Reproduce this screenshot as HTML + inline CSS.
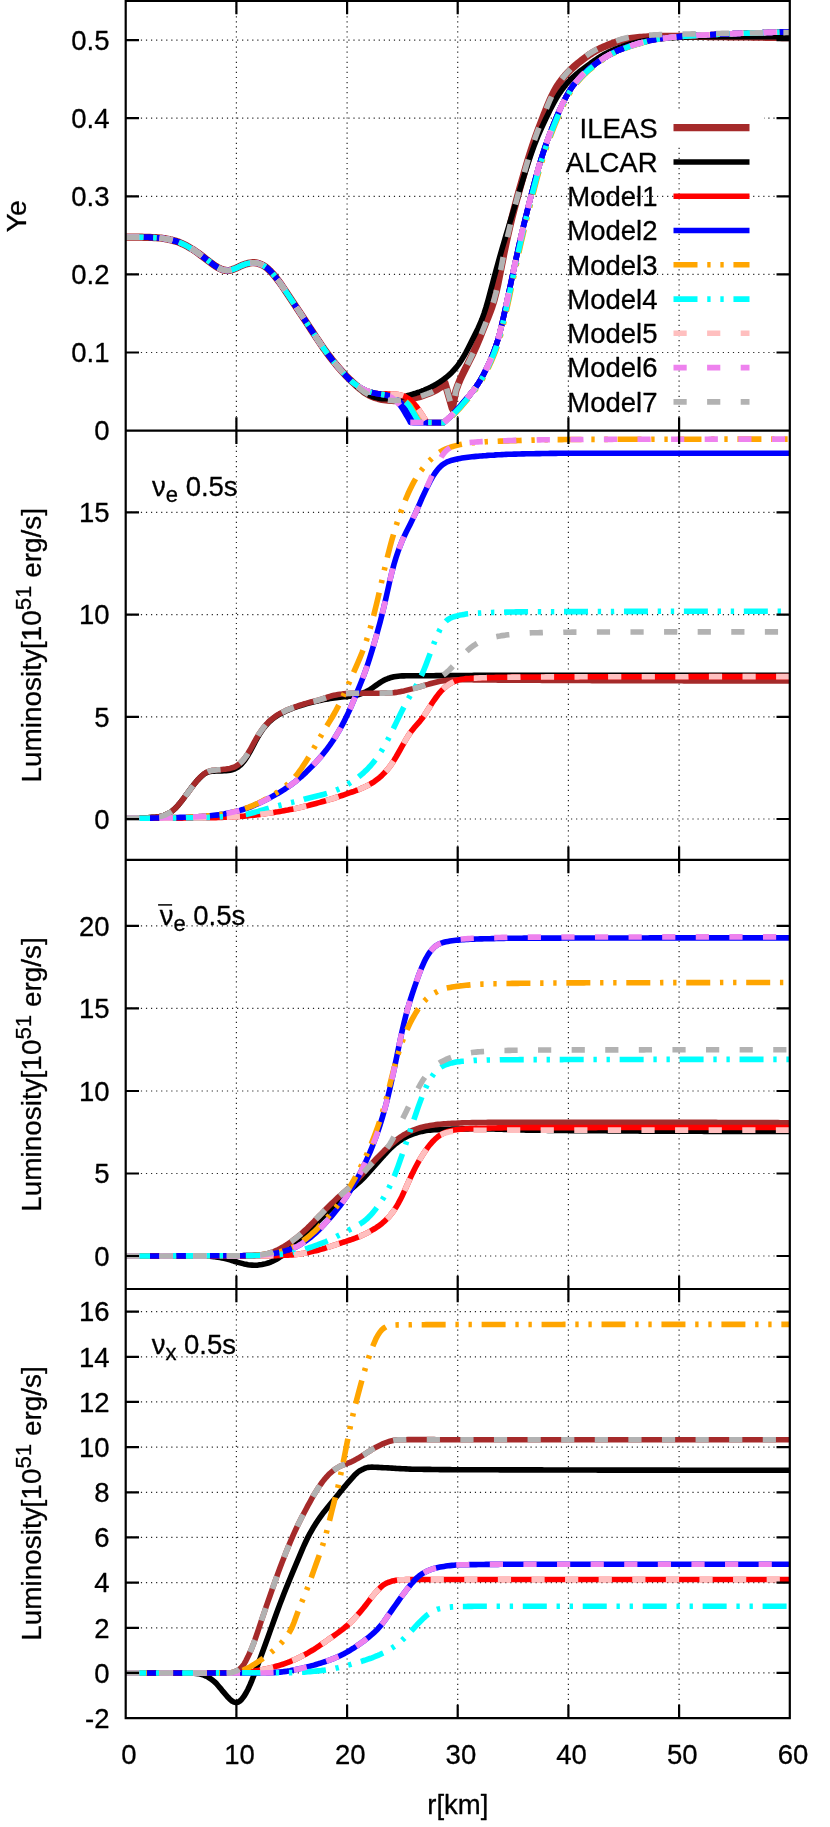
<!DOCTYPE html>
<html><head><meta charset="utf-8"><title>plot</title><style>html,body{margin:0;padding:0;background:#fff}svg{display:block;will-change:transform}text{font-family:"Liberation Sans",sans-serif;fill:#000;stroke:#000;stroke-width:0.3px;stroke-linejoin:round}</style></head><body>
<svg width="830" height="1827" viewBox="0 0 830 1827">
<rect width="830" height="1827" fill="#fff"/>
<path d="M236.4 1.0 V430.6 M347.1 1.0 V430.6 M457.7 1.0 V430.6 M568.4 1.0 V430.6 M679.1 1.0 V430.6 M125.7 352.5 H789.8 M125.7 274.4 H789.8 M125.7 196.3 H789.8 M125.7 118.2 H789.8 M125.7 40.1 H789.8 M236.4 430.6 V859.9 M347.1 430.6 V859.9 M457.7 430.6 V859.9 M568.4 430.6 V859.9 M679.1 430.6 V859.9 M125.7 819.0 H789.8 M125.7 716.8 H789.8 M125.7 614.6 H789.8 M125.7 512.4 H789.8 M236.4 859.9 V1289.0 M347.1 859.9 V1289.0 M457.7 859.9 V1289.0 M568.4 859.9 V1289.0 M679.1 859.9 V1289.0 M125.7 1256.0 H789.8 M125.7 1173.5 H789.8 M125.7 1091.0 H789.8 M125.7 1008.4 H789.8 M125.7 925.9 H789.8 M236.4 1289.0 V1718.1 M347.1 1289.0 V1718.1 M457.7 1289.0 V1718.1 M568.4 1289.0 V1718.1 M679.1 1289.0 V1718.1 M125.7 1672.9 H789.8 M125.7 1627.8 H789.8 M125.7 1582.6 H789.8 M125.7 1537.4 H789.8 M125.7 1492.3 H789.8 M125.7 1447.1 H789.8 M125.7 1401.9 H789.8 M125.7 1356.8 H789.8 M125.7 1311.6 H789.8" stroke="#000" stroke-width="1.2" stroke-dasharray="1.2 3.86" fill="none" opacity="0.85"/>
<clipPath id="c0"><rect x="125.7" y="1.0" width="664.1" height="429.6"/></clipPath>
<g clip-path="url(#c0)" fill="none" stroke-linejoin="round">
<path d="M126.0 237.2 L128.0 237.2 L130.0 237.2 L132.0 237.2 L134.0 237.2 L136.0 237.2 L138.0 237.2 L140.0 237.2 L142.0 237.2 L144.0 237.3 L146.0 237.3 L148.0 237.3 L150.0 237.4 L152.0 237.5 L154.0 237.6 L156.0 237.7 L158.0 237.8 L160.0 238.0 L162.0 238.2 L164.0 238.5 L166.0 238.9 L168.0 239.2 L170.0 239.7 L172.0 240.1 L174.0 240.7 L176.0 241.3 L178.0 241.9 L180.0 242.7 L182.0 243.6 L184.0 244.5 L186.0 245.5 L188.0 246.6 L190.0 247.8 L192.0 249.0 L194.0 250.2 L196.0 251.6 L198.0 253.0 L200.0 254.5 L202.0 256.0 L204.0 257.5 L206.0 259.1 L208.0 260.6 L210.0 262.1 L212.0 263.6 L214.0 265.1 L216.0 266.4 L218.0 267.6 L220.0 268.7 L222.0 269.5 L224.0 270.1 L226.0 270.4 L228.0 270.5 L230.0 270.2 L232.0 269.7 L234.0 269.0 L236.0 268.2 L238.0 267.3 L240.0 266.3 L242.0 265.4 L244.0 264.6 L246.0 263.9 L248.0 263.4 L250.0 263.0 L252.0 262.7 L254.0 262.7 L256.0 262.9 L258.0 263.3 L260.0 264.0 L262.0 264.8 L264.0 265.9 L266.0 267.3 L268.0 268.9 L270.0 270.8 L272.0 272.9 L274.0 275.2 L276.0 277.6 L278.0 280.2 L280.0 282.9 L282.0 285.8 L284.0 288.7 L286.0 291.7 L288.0 294.7 L290.0 297.7 L292.0 300.7 L294.0 303.7 L296.0 306.7 L298.0 309.7 L300.0 312.8 L302.0 315.8 L304.0 318.8 L306.0 321.8 L308.0 324.9 L310.0 327.9 L312.0 331.0 L314.0 334.0 L316.0 337.1 L318.0 340.1 L320.0 343.1 L322.0 346.0 L324.0 348.9 L326.0 351.6 L328.0 354.4 L330.0 357.0 L332.0 359.6 L334.0 362.1 L336.0 364.5 L338.0 366.9 L340.0 369.2 L342.0 371.4 L344.0 373.6 L346.0 375.7 L348.0 377.7 L350.0 379.7 L352.0 381.6 L354.0 383.4 L356.0 385.2 L358.0 387.0 L360.0 388.7 L362.0 390.3 L364.0 391.9 L366.0 393.2 L368.0 394.4 L370.0 395.5 L372.0 396.4 L374.0 397.2 L376.0 397.8 L378.0 398.4 L380.0 398.9 L382.0 399.4 L384.0 399.7 L386.0 400.0 L388.0 400.2 L390.0 400.4 L392.0 400.5 L394.0 400.6 L396.0 400.5 L398.0 400.5 L400.0 400.3 L402.0 400.1 L404.0 399.9 L406.0 399.7 L408.0 399.4 L410.0 399.0 L412.0 398.6 L414.0 398.1 L416.0 397.6 L418.0 397.1 L420.0 396.5 L422.0 395.8 L424.0 395.1 L426.0 394.4 L428.0 393.7 L430.0 392.9 L432.0 392.0 L434.0 391.0 L436.0 390.0 L438.0 388.9 L440.0 387.5 L442.0 386.0 L444.0 384.1 L445.0 383.0 L445.0 383.0 L452.3 408.5 L455.9 390.6 L455.9 390.6 L457.9 385.0 L459.9 380.1 L461.9 375.8 L463.9 371.7 L465.9 367.7 L467.9 363.7 L469.9 359.7 L471.9 355.6 L473.9 351.4 L475.9 347.0 L477.9 342.3 L479.9 337.5 L481.9 332.5 L483.9 327.5 L485.9 322.5 L487.9 317.6 L489.9 312.5 L491.9 307.0 L493.9 300.6 L495.9 292.9 L497.9 283.9 L499.9 273.9 L501.9 263.7 L503.9 253.6 L505.9 244.0 L507.9 234.9 L509.9 226.3 L511.9 218.0 L513.9 210.2 L515.9 202.6 L517.9 195.2 L519.9 188.0 L521.9 180.9 L523.9 173.9 L525.9 167.0 L527.9 160.3 L529.9 153.8 L531.9 147.7 L533.9 141.7 L535.9 136.0 L537.9 130.5 L539.9 125.2 L541.9 119.9 L543.9 114.8 L545.9 109.7 L547.9 104.8 L549.9 100.1 L551.9 95.8 L553.9 91.8 L555.9 88.2 L557.9 85.0 L559.9 82.1 L561.9 79.5 L563.9 77.0 L565.9 74.7 L567.9 72.6 L569.9 70.5 L571.9 68.6 L573.9 66.8 L575.9 65.0 L577.9 63.3 L579.9 61.7 L581.9 60.1 L583.9 58.6 L585.9 57.1 L587.9 55.7 L589.9 54.3 L591.9 53.1 L593.9 51.8 L595.9 50.7 L597.9 49.6 L599.9 48.6 L601.9 47.7 L603.9 46.8 L605.9 46.0 L607.9 45.2 L609.9 44.4 L611.9 43.6 L613.9 42.9 L615.9 42.2 L617.9 41.5 L619.9 40.9 L621.9 40.3 L623.9 39.8 L625.9 39.4 L627.9 38.9 L629.9 38.6 L631.9 38.3 L633.9 38.0 L635.9 37.8 L637.9 37.6 L639.9 37.4 L641.9 37.3 L643.9 37.1 L645.9 37.0 L647.9 36.8 L649.9 36.7 L651.9 36.6 L653.9 36.5 L655.9 36.4 L657.9 36.4 L659.9 36.4 L661.9 36.3 L663.9 36.3 L665.9 36.3 L667.9 36.3 L669.9 36.3 L671.9 36.3 L673.9 36.3 L675.9 36.3 L677.9 36.3 L679.9 36.4 L681.9 36.4 L683.9 36.4 L685.9 36.4 L687.9 36.4 L689.9 36.4 L691.9 36.4 L693.9 36.5 L695.9 36.5 L697.9 36.5 L699.9 36.5 L701.9 36.5 L703.9 36.5 L705.9 36.5 L707.9 36.6 L709.9 36.6 L711.9 36.6 L713.9 36.6 L715.9 36.6 L717.9 36.7 L719.9 36.7 L721.9 36.7 L723.9 36.7 L725.9 36.7 L727.9 36.8 L729.9 36.8 L731.9 36.8 L733.9 36.8 L735.9 36.9 L737.9 36.9 L739.9 36.9 L741.9 36.9 L743.9 37.0 L745.9 37.0 L747.9 37.0 L749.9 37.0 L751.9 37.1 L753.9 37.1 L755.9 37.1 L757.9 37.2 L759.9 37.2 L761.9 37.2 L763.9 37.2 L765.9 37.3 L767.9 37.3 L769.9 37.3 L771.9 37.4 L773.9 37.4 L775.9 37.4 L777.9 37.5 L779.9 37.5 L781.9 37.6 L783.9 37.6 L785.9 37.6 L787.9 37.7 L789.9 37.7 L790.0 37.7" stroke="#a52a2a" stroke-width="7.2"/>
<path d="M126.0 237.2 L128.0 237.2 L130.0 237.2 L132.0 237.2 L134.0 237.2 L136.0 237.2 L138.0 237.2 L140.0 237.2 L142.0 237.2 L144.0 237.3 L146.0 237.3 L148.0 237.3 L150.0 237.4 L152.0 237.5 L154.0 237.6 L156.0 237.7 L158.0 237.8 L160.0 238.0 L162.0 238.2 L164.0 238.5 L166.0 238.9 L168.0 239.2 L170.0 239.7 L172.0 240.1 L174.0 240.7 L176.0 241.3 L178.0 241.9 L180.0 242.7 L182.0 243.6 L184.0 244.5 L186.0 245.5 L188.0 246.6 L190.0 247.8 L192.0 249.0 L194.0 250.2 L196.0 251.6 L198.0 253.0 L200.0 254.5 L202.0 256.0 L204.0 257.5 L206.0 259.1 L208.0 260.6 L210.0 262.1 L212.0 263.6 L214.0 265.1 L216.0 266.4 L218.0 267.6 L220.0 268.7 L222.0 269.5 L224.0 270.1 L226.0 270.4 L228.0 270.5 L230.0 270.2 L232.0 269.7 L234.0 269.0 L236.0 268.2 L238.0 267.3 L240.0 266.3 L242.0 265.4 L244.0 264.6 L246.0 263.9 L248.0 263.4 L250.0 263.0 L252.0 262.7 L254.0 262.7 L256.0 262.9 L258.0 263.3 L260.0 264.0 L262.0 264.8 L264.0 265.9 L266.0 267.3 L268.0 268.9 L270.0 270.8 L272.0 272.9 L274.0 275.2 L276.0 277.6 L278.0 280.2 L280.0 282.9 L282.0 285.8 L284.0 288.7 L286.0 291.7 L288.0 294.7 L290.0 297.7 L292.0 300.7 L294.0 303.7 L296.0 306.7 L298.0 309.7 L300.0 312.8 L302.0 315.8 L304.0 318.8 L306.0 321.8 L308.0 324.9 L310.0 327.9 L312.0 331.0 L314.0 334.0 L316.0 337.1 L318.0 340.1 L320.0 343.1 L322.0 346.0 L324.0 348.9 L326.0 351.6 L328.0 354.4 L330.0 357.0 L332.0 359.6 L334.0 362.1 L336.0 364.5 L338.0 366.9 L340.0 369.2 L342.0 371.4 L344.0 373.6 L346.0 375.7 L348.0 377.7 L350.0 379.7 L352.0 381.6 L354.0 383.4 L356.0 385.3 L358.0 387.0 L360.0 388.8 L362.0 390.4 L364.0 391.9 L366.0 393.3 L368.0 394.4 L370.0 395.4 L372.0 396.3 L374.0 397.0 L376.0 397.5 L378.0 398.0 L380.0 398.4 L382.0 398.7 L384.0 398.8 L386.0 398.8 L388.0 398.8 L390.0 398.7 L392.0 398.6 L394.0 398.4 L396.0 398.2 L398.0 397.9 L400.0 397.5 L402.0 397.1 L404.0 396.6 L406.0 396.1 L408.0 395.5 L410.0 395.0 L412.0 394.4 L414.0 393.8 L416.0 393.2 L418.0 392.5 L420.0 391.8 L422.0 391.0 L424.0 390.3 L426.0 389.4 L428.0 388.5 L430.0 387.6 L432.0 386.5 L434.0 385.5 L436.0 384.3 L438.0 383.1 L440.0 381.9 L442.0 380.5 L444.0 379.1 L446.0 377.6 L448.0 375.9 L450.0 374.1 L452.0 372.2 L454.0 370.0 L456.0 367.7 L458.0 365.1 L460.0 362.3 L462.0 359.2 L464.0 355.8 L466.0 352.3 L468.0 348.5 L470.0 344.6 L472.0 340.6 L474.0 336.6 L476.0 332.5 L478.0 328.4 L480.0 324.0 L482.0 319.1 L484.0 313.6 L486.0 307.4 L488.0 300.5 L490.0 293.1 L492.0 285.5 L494.0 277.9 L496.0 270.5 L498.0 263.2 L500.0 256.1 L502.0 249.1 L504.0 242.2 L506.0 235.4 L508.0 228.7 L510.0 222.0 L512.0 215.5 L514.0 208.9 L516.0 202.4 L518.0 195.8 L520.0 189.2 L522.0 182.6 L524.0 176.1 L526.0 169.6 L528.0 163.4 L530.0 157.4 L532.0 151.6 L534.0 146.1 L536.0 141.0 L538.0 136.0 L540.0 131.3 L542.0 126.8 L544.0 122.5 L546.0 118.3 L548.0 114.2 L550.0 110.1 L552.0 106.2 L554.0 102.5 L556.0 98.9 L558.0 95.6 L560.0 92.5 L562.0 89.7 L564.0 87.0 L566.0 84.5 L568.0 82.2 L570.0 80.1 L572.0 78.1 L574.0 76.3 L576.0 74.5 L578.0 72.9 L580.0 71.3 L582.0 69.7 L584.0 68.2 L586.0 66.7 L588.0 65.2 L590.0 63.8 L592.0 62.3 L594.0 60.9 L596.0 59.5 L598.0 58.2 L600.0 56.9 L602.0 55.6 L604.0 54.5 L606.0 53.4 L608.0 52.4 L610.0 51.5 L612.0 50.6 L614.0 49.7 L616.0 48.9 L618.0 48.2 L620.0 47.4 L622.0 46.7 L624.0 45.9 L626.0 45.2 L628.0 44.6 L630.0 44.0 L632.0 43.4 L634.0 42.9 L636.0 42.4 L638.0 42.0 L640.0 41.6 L642.0 41.2 L644.0 40.8 L646.0 40.5 L648.0 40.2 L650.0 39.9 L652.0 39.7 L654.0 39.4 L656.0 39.2 L658.0 39.0 L660.0 38.7 L662.0 38.5 L664.0 38.4 L666.0 38.2 L668.0 38.0 L670.0 37.8 L672.0 37.7 L674.0 37.6 L676.0 37.5 L678.0 37.4 L680.0 37.2 L682.0 37.1 L684.0 37.1 L686.0 37.0 L688.0 36.9 L690.0 36.8 L692.0 36.8 L694.0 36.7 L696.0 36.7 L698.0 36.6 L700.0 36.6 L702.0 36.6 L704.0 36.6 L706.0 36.6 L708.0 36.6 L710.0 36.6 L712.0 36.6 L714.0 36.6 L716.0 36.6 L718.0 36.6 L720.0 36.6 L722.0 36.6 L724.0 36.6 L726.0 36.6 L728.0 36.6 L730.0 36.6 L732.0 36.6 L734.0 36.6 L736.0 36.6 L738.0 36.6 L740.0 36.6 L742.0 36.6 L744.0 36.6 L746.0 36.7 L748.0 36.7 L750.0 36.7 L752.0 36.7 L754.0 36.7 L756.0 36.7 L758.0 36.7 L760.0 36.7 L762.0 36.7 L764.0 36.7 L766.0 36.8 L768.0 36.8 L770.0 36.8 L772.0 36.8 L774.0 36.8 L776.0 36.8 L778.0 36.9 L780.0 36.9 L782.0 36.9 L784.0 36.9 L786.0 36.9 L788.0 37.0 L790.0 37.0" stroke="#000000" stroke-width="5.6"/>
<path d="M126.0 237.2 L128.0 237.2 L130.0 237.2 L132.0 237.2 L134.0 237.2 L136.0 237.2 L138.0 237.2 L140.0 237.2 L142.0 237.2 L144.0 237.3 L146.0 237.3 L148.0 237.3 L150.0 237.4 L152.0 237.5 L154.0 237.6 L156.0 237.7 L158.0 237.8 L160.0 238.0 L162.0 238.2 L164.0 238.5 L166.0 238.9 L168.0 239.2 L170.0 239.7 L172.0 240.1 L174.0 240.7 L176.0 241.3 L178.0 241.9 L180.0 242.7 L182.0 243.6 L184.0 244.5 L186.0 245.5 L188.0 246.6 L190.0 247.8 L192.0 249.0 L194.0 250.2 L196.0 251.6 L198.0 253.0 L200.0 254.5 L202.0 256.0 L204.0 257.5 L206.0 259.1 L208.0 260.6 L210.0 262.1 L212.0 263.6 L214.0 265.1 L216.0 266.4 L218.0 267.6 L220.0 268.7 L222.0 269.5 L224.0 270.1 L226.0 270.4 L228.0 270.5 L230.0 270.2 L232.0 269.7 L234.0 269.0 L236.0 268.2 L238.0 267.3 L240.0 266.3 L242.0 265.4 L244.0 264.6 L246.0 263.9 L248.0 263.4 L250.0 263.0 L252.0 262.7 L254.0 262.7 L256.0 262.9 L258.0 263.3 L260.0 264.0 L262.0 264.8 L264.0 265.9 L266.0 267.3 L268.0 268.9 L270.0 270.8 L272.0 272.9 L274.0 275.2 L276.0 277.6 L278.0 280.2 L280.0 282.9 L282.0 285.8 L284.0 288.7 L286.0 291.7 L288.0 294.7 L290.0 297.7 L292.0 300.7 L294.0 303.7 L296.0 306.7 L298.0 309.7 L300.0 312.8 L302.0 315.8 L304.0 318.8 L306.0 321.8 L308.0 324.9 L310.0 327.9 L312.0 331.0 L314.0 334.0 L316.0 337.1 L318.0 340.1 L320.0 343.1 L322.0 346.0 L324.0 348.9 L326.0 351.6 L328.0 354.4 L330.0 357.0 L332.0 359.6 L334.0 362.1 L336.0 364.5 L338.0 366.9 L340.0 369.2 L342.0 371.5 L344.0 373.7 L346.0 375.9 L348.0 377.9 L350.0 379.9 L352.0 381.7 L354.0 383.3 L356.0 384.8 L358.0 386.2 L360.0 387.5 L362.0 388.6 L364.0 389.7 L366.0 390.5 L368.0 391.3 L370.0 391.9 L372.0 392.5 L374.0 392.9 L376.0 393.2 L378.0 393.5 L380.0 393.7 L382.0 393.8 L384.0 393.9 L386.0 393.9 L388.0 394.0 L390.0 394.0 L392.0 394.1 L394.0 394.2 L396.0 394.4 L398.0 394.6 L400.0 395.0 L402.0 395.4 L404.0 396.1 L406.0 397.1 L408.0 398.3 L410.0 399.8 L412.0 401.6 L414.0 403.7 L416.0 406.0 L418.0 408.7 L420.0 411.6 L422.0 414.6 L424.0 417.8 L426.0 421.0 L427.0 422.6 L443.6 422.6 L443.6 422.6 L445.6 420.8 L447.6 419.0 L449.6 417.2 L451.6 415.3 L453.6 413.3 L455.6 411.1 L457.6 409.0 L459.6 406.8 L461.6 404.5 L463.6 402.2 L465.6 399.9 L467.6 397.5 L469.6 395.1 L471.6 392.6 L473.6 390.0 L475.6 387.3 L477.6 384.4 L479.6 381.3 L481.6 377.9 L483.6 374.3 L485.6 370.3 L487.6 366.2 L489.6 361.8 L491.6 357.2 L493.6 352.2 L495.6 346.7 L497.6 340.5 L499.6 333.4 L501.6 325.4 L503.6 316.7 L505.6 307.7 L507.6 298.4 L509.6 289.0 L511.6 279.5 L513.6 270.1 L515.6 260.8 L517.6 251.6 L519.6 242.7 L521.6 234.0 L523.6 225.6 L525.6 217.5 L527.6 209.4 L529.6 201.4 L531.6 193.5 L533.6 185.7 L535.6 178.1 L537.6 170.9 L539.6 164.1 L541.6 157.6 L543.6 151.4 L545.6 145.5 L547.6 139.9 L549.6 134.5 L551.6 129.2 L553.6 124.2 L555.6 119.4 L557.6 114.7 L559.6 110.1 L561.6 105.8 L563.6 101.6 L565.6 97.7 L567.6 94.1 L569.6 90.7 L571.6 87.7 L573.6 84.9 L575.6 82.4 L577.6 80.1 L579.6 77.9 L581.6 75.8 L583.6 73.8 L585.6 72.0 L587.6 70.2 L589.6 68.5 L591.6 66.8 L593.6 65.2 L595.6 63.7 L597.6 62.3 L599.6 60.9 L601.6 59.5 L603.6 58.2 L605.6 57.0 L607.6 55.8 L609.6 54.7 L611.6 53.6 L613.6 52.6 L615.6 51.6 L617.6 50.7 L619.6 49.9 L621.6 49.1 L623.6 48.3 L625.6 47.6 L627.6 46.9 L629.6 46.2 L631.6 45.6 L633.6 45.0 L635.6 44.4 L637.6 43.8 L639.6 43.2 L641.6 42.6 L643.6 42.1 L645.6 41.6 L647.6 41.1 L649.6 40.6 L651.6 40.2 L653.6 39.8 L655.6 39.4 L657.6 39.1 L659.6 38.8 L661.6 38.5 L663.6 38.2 L665.6 38.0 L667.6 37.7 L669.6 37.5 L671.6 37.3 L673.6 37.1 L675.6 37.0 L677.6 36.8 L679.6 36.6 L681.6 36.4 L683.6 36.3 L685.6 36.1 L687.6 36.0 L689.6 35.9 L691.6 35.7 L693.6 35.6 L695.6 35.5 L697.6 35.3 L699.6 35.2 L701.6 35.1 L703.6 35.0 L705.6 34.9 L707.6 34.8 L709.6 34.7 L711.6 34.6 L713.6 34.5 L715.6 34.4 L717.6 34.3 L719.6 34.2 L721.6 34.1 L723.6 34.0 L725.6 34.0 L727.6 33.9 L729.6 33.8 L731.6 33.7 L733.6 33.6 L735.6 33.6 L737.6 33.5 L739.6 33.4 L741.6 33.3 L743.6 33.3 L745.6 33.2 L747.6 33.1 L749.6 33.1 L751.6 33.0 L753.6 32.9 L755.6 32.9 L757.6 32.8 L759.6 32.7 L761.6 32.7 L763.6 32.6 L765.6 32.5 L767.6 32.5 L769.6 32.4 L771.6 32.4 L773.6 32.3 L775.6 32.3 L777.6 32.2 L779.6 32.1 L781.6 32.1 L783.6 32.0 L785.6 32.0 L787.6 32.0 L789.6 31.9 L790.0 31.9" stroke="#ff0000" stroke-width="5.6"/>
<path d="M126.0 237.2 L128.0 237.2 L130.0 237.2 L132.0 237.2 L134.0 237.2 L136.0 237.2 L138.0 237.2 L140.0 237.2 L142.0 237.2 L144.0 237.3 L146.0 237.3 L148.0 237.3 L150.0 237.4 L152.0 237.5 L154.0 237.6 L156.0 237.7 L158.0 237.8 L160.0 238.0 L162.0 238.2 L164.0 238.5 L166.0 238.9 L168.0 239.2 L170.0 239.7 L172.0 240.1 L174.0 240.7 L176.0 241.3 L178.0 241.9 L180.0 242.7 L182.0 243.6 L184.0 244.5 L186.0 245.5 L188.0 246.6 L190.0 247.8 L192.0 249.0 L194.0 250.2 L196.0 251.6 L198.0 253.0 L200.0 254.5 L202.0 256.0 L204.0 257.5 L206.0 259.1 L208.0 260.6 L210.0 262.1 L212.0 263.6 L214.0 265.1 L216.0 266.4 L218.0 267.6 L220.0 268.7 L222.0 269.5 L224.0 270.1 L226.0 270.4 L228.0 270.5 L230.0 270.2 L232.0 269.7 L234.0 269.0 L236.0 268.2 L238.0 267.3 L240.0 266.3 L242.0 265.4 L244.0 264.6 L246.0 263.9 L248.0 263.4 L250.0 263.0 L252.0 262.7 L254.0 262.7 L256.0 262.9 L258.0 263.3 L260.0 264.0 L262.0 264.8 L264.0 265.9 L266.0 267.3 L268.0 268.9 L270.0 270.8 L272.0 272.9 L274.0 275.2 L276.0 277.6 L278.0 280.2 L280.0 282.9 L282.0 285.8 L284.0 288.7 L286.0 291.7 L288.0 294.7 L290.0 297.7 L292.0 300.7 L294.0 303.7 L296.0 306.7 L298.0 309.7 L300.0 312.8 L302.0 315.8 L304.0 318.8 L306.0 321.8 L308.0 324.9 L310.0 327.9 L312.0 331.0 L314.0 334.0 L316.0 337.1 L318.0 340.1 L320.0 343.1 L322.0 346.0 L324.0 348.9 L326.0 351.6 L328.0 354.4 L330.0 357.0 L332.0 359.6 L334.0 362.1 L336.0 364.5 L338.0 366.9 L340.0 369.2 L342.0 371.5 L344.0 373.7 L346.0 375.9 L348.0 377.9 L350.0 379.9 L352.0 381.7 L354.0 383.3 L356.0 384.8 L358.0 386.2 L360.0 387.4 L362.0 388.6 L364.0 389.6 L366.0 390.5 L368.0 391.3 L370.0 391.9 L372.0 392.5 L374.0 393.0 L376.0 393.4 L378.0 393.8 L380.0 394.2 L382.0 394.5 L384.0 394.9 L386.0 395.3 L388.0 395.9 L390.0 396.6 L392.0 397.6 L394.0 398.9 L396.0 400.5 L398.0 402.5 L400.0 404.9 L402.0 407.8 L404.0 411.1 L406.0 414.5 L408.0 417.9 L410.0 421.4 L410.4 422.4 L443.6 422.6 L445.6 420.8 L447.6 419.0 L449.6 417.2 L451.6 415.3 L453.6 413.3 L455.6 411.1 L457.6 409.0 L459.6 406.8 L461.6 404.5 L463.6 402.2 L465.6 399.9 L467.6 397.5 L469.6 395.1 L471.6 392.6 L473.6 390.0 L475.6 387.3 L477.6 384.4 L479.6 381.3 L481.6 377.9 L483.6 374.3 L485.6 370.3 L487.6 366.2 L489.6 361.8 L491.6 357.2 L493.6 352.2 L495.6 346.7 L497.6 340.5 L499.6 333.4 L501.6 325.4 L503.6 316.7 L505.6 307.7 L507.6 298.4 L509.6 289.0 L511.6 279.5 L513.6 270.1 L515.6 260.8 L517.6 251.6 L519.6 242.7 L521.6 234.0 L523.6 225.6 L525.6 217.5 L527.6 209.4 L529.6 201.4 L531.6 193.5 L533.6 185.7 L535.6 178.1 L537.6 170.9 L539.6 164.1 L541.6 157.6 L543.6 151.4 L545.6 145.5 L547.6 139.9 L549.6 134.5 L551.6 129.2 L553.6 124.2 L555.6 119.4 L557.6 114.7 L559.6 110.1 L561.6 105.8 L563.6 101.6 L565.6 97.7 L567.6 94.1 L569.6 90.7 L571.6 87.7 L573.6 84.9 L575.6 82.4 L577.6 80.1 L579.6 77.9 L581.6 75.8 L583.6 73.8 L585.6 72.0 L587.6 70.2 L589.6 68.5 L591.6 66.8 L593.6 65.2 L595.6 63.7 L597.6 62.3 L599.6 60.9 L601.6 59.5 L603.6 58.2 L605.6 57.0 L607.6 55.8 L609.6 54.7 L611.6 53.6 L613.6 52.6 L615.6 51.6 L617.6 50.7 L619.6 49.9 L621.6 49.1 L623.6 48.3 L625.6 47.6 L627.6 46.9 L629.6 46.2 L631.6 45.6 L633.6 45.0 L635.6 44.4 L637.6 43.8 L639.6 43.2 L641.6 42.6 L643.6 42.1 L645.6 41.6 L647.6 41.1 L649.6 40.6 L651.6 40.2 L653.6 39.8 L655.6 39.4 L657.6 39.1 L659.6 38.8 L661.6 38.5 L663.6 38.2 L665.6 38.0 L667.6 37.7 L669.6 37.5 L671.6 37.3 L673.6 37.1 L675.6 37.0 L677.6 36.8 L679.6 36.6 L681.6 36.4 L683.6 36.3 L685.6 36.1 L687.6 36.0 L689.6 35.9 L691.6 35.7 L693.6 35.6 L695.6 35.5 L697.6 35.3 L699.6 35.2 L701.6 35.1 L703.6 35.0 L705.6 34.9 L707.6 34.8 L709.6 34.7 L711.6 34.6 L713.6 34.5 L715.6 34.4 L717.6 34.3 L719.6 34.2 L721.6 34.1 L723.6 34.0 L725.6 34.0 L727.6 33.9 L729.6 33.8 L731.6 33.7 L733.6 33.6 L735.6 33.6 L737.6 33.5 L739.6 33.4 L741.6 33.3 L743.6 33.3 L745.6 33.2 L747.6 33.1 L749.6 33.1 L751.6 33.0 L753.6 32.9 L755.6 32.9 L757.6 32.8 L759.6 32.7 L761.6 32.7 L763.6 32.6 L765.6 32.5 L767.6 32.5 L769.6 32.4 L771.6 32.4 L773.6 32.3 L775.6 32.3 L777.6 32.2 L779.6 32.1 L781.6 32.1 L783.6 32.0 L785.6 32.0 L787.6 32.0 L789.6 31.9 L790.0 31.9" stroke="#0000ff" stroke-width="5.6"/>
<path d="M126.0 237.2 L128.0 237.2 L130.0 237.2 L132.0 237.2 L134.0 237.2 L136.0 237.2 L138.0 237.2 L140.0 237.2 L142.0 237.2 L144.0 237.3 L146.0 237.3 L148.0 237.3 L150.0 237.4 L152.0 237.5 L154.0 237.6 L156.0 237.7 L158.0 237.8 L160.0 238.0 L162.0 238.2 L164.0 238.5 L166.0 238.9 L168.0 239.2 L170.0 239.7 L172.0 240.1 L174.0 240.7 L176.0 241.3 L178.0 241.9 L180.0 242.7 L182.0 243.6 L184.0 244.5 L186.0 245.5 L188.0 246.6 L190.0 247.8 L192.0 249.0 L194.0 250.2 L196.0 251.6 L198.0 253.0 L200.0 254.5 L202.0 256.0 L204.0 257.5 L206.0 259.1 L208.0 260.6 L210.0 262.1 L212.0 263.6 L214.0 265.1 L216.0 266.4 L218.0 267.6 L220.0 268.7 L222.0 269.5 L224.0 270.1 L226.0 270.4 L228.0 270.5 L230.0 270.2 L232.0 269.7 L234.0 269.0 L236.0 268.2 L238.0 267.3 L240.0 266.3 L242.0 265.4 L244.0 264.6 L246.0 263.9 L248.0 263.4 L250.0 263.0 L252.0 262.7 L254.0 262.7 L256.0 262.9 L258.0 263.3 L260.0 264.0 L262.0 264.8 L264.0 265.9 L266.0 267.3 L268.0 268.9 L270.0 270.8 L272.0 272.9 L274.0 275.2 L276.0 277.6 L278.0 280.2 L280.0 282.9 L282.0 285.8 L284.0 288.7 L286.0 291.7 L288.0 294.7 L290.0 297.7 L292.0 300.7 L294.0 303.7 L296.0 306.7 L298.0 309.7 L300.0 312.8 L302.0 315.8 L304.0 318.8 L306.0 321.8 L308.0 324.9 L310.0 327.9 L312.0 331.0 L314.0 334.0 L316.0 337.1 L318.0 340.1 L320.0 343.1 L322.0 346.0 L324.0 348.9 L326.0 351.6 L328.0 354.4 L330.0 357.0 L332.0 359.6 L334.0 362.1 L336.0 364.5 L338.0 366.9 L340.0 369.2 L342.0 371.5 L344.0 373.7 L346.0 375.9 L348.0 377.9 L350.0 379.9 L352.0 381.7 L354.0 383.3 L356.0 384.8 L358.0 386.2 L360.0 387.4 L362.0 388.6 L364.0 389.6 L366.0 390.5 L368.0 391.3 L370.0 392.0 L372.0 392.5 L374.0 393.0 L376.0 393.4 L378.0 393.8 L380.0 394.1 L382.0 394.5 L384.0 394.8 L386.0 395.1 L388.0 395.5 L390.0 396.0 L392.0 396.7 L394.0 397.6 L396.0 398.7 L398.0 400.2 L400.0 402.0 L402.0 404.1 L404.0 406.8 L406.0 410.1 L408.0 413.5 L410.0 416.9 L412.0 420.4 L413.0 422.4 L443.6 422.6 L445.6 420.8 L447.6 419.0 L449.6 417.2 L451.6 415.3 L453.6 413.3 L455.6 411.1 L457.6 409.0 L459.6 406.8 L461.6 404.5 L463.6 402.2 L465.6 399.9 L467.6 397.5 L469.6 395.1 L471.6 392.6 L473.6 390.0 L475.6 387.3 L477.6 384.4 L479.6 381.3 L481.6 377.9 L483.6 374.3 L485.6 370.3 L487.6 366.2 L489.6 361.8 L491.6 357.2 L493.6 352.2 L495.6 346.7 L497.6 340.5 L499.6 333.4 L501.6 325.4 L503.6 316.7 L505.6 307.7 L507.6 298.4 L509.6 289.0 L511.6 279.5 L513.6 270.1 L515.6 260.8 L517.6 251.6 L519.6 242.7 L521.6 234.0 L523.6 225.6 L525.6 217.5 L527.6 209.4 L529.6 201.4 L531.6 193.5 L533.6 185.7 L535.6 178.1 L537.6 170.9 L539.6 164.1 L541.6 157.6 L543.6 151.4 L545.6 145.5 L547.6 139.9 L549.6 134.5 L551.6 129.2 L553.6 124.2 L555.6 119.4 L557.6 114.7 L559.6 110.1 L561.6 105.8 L563.6 101.6 L565.6 97.7 L567.6 94.1 L569.6 90.7 L571.6 87.7 L573.6 84.9 L575.6 82.4 L577.6 80.1 L579.6 77.9 L581.6 75.8 L583.6 73.8 L585.6 72.0 L587.6 70.2 L589.6 68.5 L591.6 66.8 L593.6 65.2 L595.6 63.7 L597.6 62.3 L599.6 60.9 L601.6 59.5 L603.6 58.2 L605.6 57.0 L607.6 55.8 L609.6 54.7 L611.6 53.6 L613.6 52.6 L615.6 51.6 L617.6 50.7 L619.6 49.9 L621.6 49.1 L623.6 48.3 L625.6 47.6 L627.6 46.9 L629.6 46.2 L631.6 45.6 L633.6 45.0 L635.6 44.4 L637.6 43.8 L639.6 43.2 L641.6 42.6 L643.6 42.1 L645.6 41.6 L647.6 41.1 L649.6 40.6 L651.6 40.2 L653.6 39.8 L655.6 39.4 L657.6 39.1 L659.6 38.8 L661.6 38.5 L663.6 38.2 L665.6 38.0 L667.6 37.7 L669.6 37.5 L671.6 37.3 L673.6 37.1 L675.6 37.0 L677.6 36.8 L679.6 36.6 L681.6 36.4 L683.6 36.3 L685.6 36.1 L687.6 36.0 L689.6 35.9 L691.6 35.7 L693.6 35.6 L695.6 35.5 L697.6 35.3 L699.6 35.2 L701.6 35.1 L703.6 35.0 L705.6 34.9 L707.6 34.8 L709.6 34.7 L711.6 34.6 L713.6 34.5 L715.6 34.4 L717.6 34.3 L719.6 34.2 L721.6 34.1 L723.6 34.0 L725.6 34.0 L727.6 33.9 L729.6 33.8 L731.6 33.7 L733.6 33.6 L735.6 33.6 L737.6 33.5 L739.6 33.4 L741.6 33.3 L743.6 33.3 L745.6 33.2 L747.6 33.1 L749.6 33.1 L751.6 33.0 L753.6 32.9 L755.6 32.9 L757.6 32.8 L759.6 32.7 L761.6 32.7 L763.6 32.6 L765.6 32.5 L767.6 32.5 L769.6 32.4 L771.6 32.4 L773.6 32.3 L775.6 32.3 L777.6 32.2 L779.6 32.1 L781.6 32.1 L783.6 32.0 L785.6 32.0 L787.6 32.0 L789.6 31.9 L790.0 31.9" stroke="#0000ff" stroke-width="5.6"/>
<path d="M126.0 237.2 L128.0 237.2 L130.0 237.2 L132.0 237.2 L134.0 237.2 L136.0 237.2 L138.0 237.2 L140.0 237.2 L142.0 237.2 L144.0 237.3 L146.0 237.3 L148.0 237.3 L150.0 237.4 L152.0 237.5 L154.0 237.6 L156.0 237.7 L158.0 237.8 L160.0 238.0 L162.0 238.2 L164.0 238.5 L166.0 238.9 L168.0 239.2 L170.0 239.7 L172.0 240.1 L174.0 240.7 L176.0 241.3 L178.0 241.9 L180.0 242.7 L182.0 243.6 L184.0 244.5 L186.0 245.5 L188.0 246.6 L190.0 247.8 L192.0 249.0 L194.0 250.2 L196.0 251.6 L198.0 253.0 L200.0 254.5 L202.0 256.0 L204.0 257.5 L206.0 259.1 L208.0 260.6 L210.0 262.1 L212.0 263.6 L214.0 265.1 L216.0 266.4 L218.0 267.6 L220.0 268.7 L222.0 269.5 L224.0 270.1 L226.0 270.4 L228.0 270.5 L230.0 270.2 L232.0 269.7 L234.0 269.0 L236.0 268.2 L238.0 267.3 L240.0 266.3 L242.0 265.4 L244.0 264.6 L246.0 263.9 L248.0 263.4 L250.0 263.0 L252.0 262.7 L254.0 262.7 L256.0 262.9 L258.0 263.3 L260.0 264.0 L262.0 264.8 L264.0 265.9 L266.0 267.3 L268.0 268.9 L270.0 270.8 L272.0 272.9 L274.0 275.2 L276.0 277.6 L278.0 280.2 L280.0 282.9 L282.0 285.8 L284.0 288.7 L286.0 291.7 L288.0 294.7 L290.0 297.7 L292.0 300.7 L294.0 303.7 L296.0 306.7 L298.0 309.7 L300.0 312.8 L302.0 315.8 L304.0 318.8 L306.0 321.8 L308.0 324.9 L310.0 327.9 L312.0 331.0 L314.0 334.0 L316.0 337.1 L318.0 340.1 L320.0 343.1 L322.0 346.0 L324.0 348.9 L326.0 351.6 L328.0 354.4 L330.0 357.0 L332.0 359.6 L334.0 362.1 L336.0 364.5 L338.0 366.9 L340.0 369.2 L342.0 371.5 L344.0 373.7 L346.0 375.9 L348.0 377.9 L350.0 379.9 L352.0 381.7 L354.0 383.3 L356.0 384.8 L358.0 386.2 L360.0 387.4 L362.0 388.6 L364.0 389.6 L366.0 390.5 L368.0 391.3 L370.0 392.0 L372.0 392.5 L374.0 393.0 L376.0 393.4 L378.0 393.8 L380.0 394.1 L382.0 394.4 L384.0 394.6 L386.0 394.8 L388.0 395.1 L390.0 395.3 L392.0 395.6 L394.0 396.0 L396.0 396.5 L398.0 397.1 L400.0 397.9 L402.0 398.8 L404.0 400.0 L406.0 401.5 L408.0 403.3 L410.0 405.6 L412.0 408.7 L414.0 412.2 L416.0 415.6 L418.0 419.1 L419.8 422.4 L443.6 422.6 L447.1 420.8 L449.1 419.0 L451.1 417.2 L453.1 415.3 L455.1 413.3 L457.1 411.1 L459.1 409.0 L461.1 406.8 L463.1 404.5 L465.1 402.2 L467.1 399.9 L469.1 397.5 L471.1 395.1 L473.1 392.6 L475.1 390.0 L477.1 387.3 L479.1 384.4 L481.1 381.3 L483.1 377.9 L485.1 374.3 L487.1 370.3 L489.1 366.2 L491.1 361.8 L493.1 357.2 L495.1 352.2 L497.1 346.7 L499.1 340.5 L501.1 333.4 L503.1 325.4 L505.1 316.7 L507.1 307.7 L509.1 298.4 L511.1 289.0 L513.1 279.5 L515.1 270.1 L517.1 260.8 L519.1 251.6 L521.1 242.7 L523.1 234.0 L525.1 225.6 L527.1 217.5 L529.1 209.4 L531.1 201.4 L533.1 193.5 L535.1 185.7 L537.1 178.1 L539.1 170.9 L541.1 164.1 L543.1 157.6 L545.1 151.4 L547.1 145.5 L549.1 139.9 L551.1 134.5 L553.1 129.2 L555.1 124.2 L557.1 119.4 L559.1 114.7 L561.1 110.1 L563.1 105.8 L565.1 101.6 L567.1 97.7 L569.1 94.1 L571.1 90.7 L573.1 87.7 L575.1 84.9 L577.1 82.4 L579.1 80.1 L581.1 77.9 L583.1 75.8 L585.1 73.8 L587.1 72.0 L589.1 70.2 L591.1 68.5 L593.1 66.8 L595.1 65.2 L597.1 63.7 L599.1 62.3 L601.1 60.9 L603.1 59.5 L605.1 58.2 L607.1 57.0 L609.1 55.8 L611.1 54.7 L613.1 53.6 L615.1 52.6 L617.1 51.6 L619.1 50.7 L621.1 49.9 L623.1 49.1 L625.1 48.3 L627.1 47.6 L629.1 46.9 L631.1 46.2 L633.1 45.6 L635.1 45.0 L637.1 44.4 L639.1 43.8 L641.1 43.2 L643.1 42.6 L645.1 42.1 L647.1 41.6 L649.1 41.1 L651.1 40.6 L653.1 40.2 L655.1 39.8 L657.1 39.4 L659.1 39.1 L661.1 38.8 L663.1 38.5 L665.1 38.2 L667.1 38.0 L669.1 37.7 L671.1 37.5 L673.1 37.3 L675.1 37.1 L677.1 37.0 L679.1 36.8 L681.1 36.6 L683.1 36.4 L685.1 36.3 L687.1 36.1 L689.1 36.0 L691.1 35.9 L693.1 35.7 L695.1 35.6 L697.1 35.5 L699.1 35.3 L701.1 35.2 L703.1 35.1 L705.1 35.0 L707.1 34.9 L709.1 34.8 L711.1 34.7 L713.1 34.6 L715.1 34.5 L717.1 34.4 L719.1 34.3 L721.1 34.2 L723.1 34.1 L725.1 34.0 L727.1 34.0 L729.1 33.9 L731.1 33.8 L733.1 33.7 L735.1 33.6 L737.1 33.6 L739.1 33.5 L741.1 33.4 L743.1 33.3 L745.1 33.3 L747.1 33.2 L749.1 33.1 L751.1 33.1 L753.1 33.0 L755.1 32.9 L757.1 32.9 L759.1 32.8 L761.1 32.7 L763.1 32.7 L765.1 32.6 L767.1 32.5 L769.1 32.5 L771.1 32.4 L773.1 32.4 L775.1 32.3 L777.1 32.3 L779.1 32.2 L781.1 32.1 L783.1 32.1 L785.1 32.0 L787.1 32.0 L789.1 32.0 L791.1 31.9 L791.5 31.9" stroke="#ffa500" stroke-width="5.6" stroke-dasharray="24 9.75 3.35 9.75 3.35 9.75" stroke-dashoffset="6.5"/>
<path d="M126.0 237.2 L128.0 237.2 L130.0 237.2 L132.0 237.2 L134.0 237.2 L136.0 237.2 L138.0 237.2 L140.0 237.2 L142.0 237.2 L144.0 237.3 L146.0 237.3 L148.0 237.3 L150.0 237.4 L152.0 237.5 L154.0 237.6 L156.0 237.7 L158.0 237.8 L160.0 238.0 L162.0 238.2 L164.0 238.5 L166.0 238.9 L168.0 239.2 L170.0 239.7 L172.0 240.1 L174.0 240.7 L176.0 241.3 L178.0 241.9 L180.0 242.7 L182.0 243.6 L184.0 244.5 L186.0 245.5 L188.0 246.6 L190.0 247.8 L192.0 249.0 L194.0 250.2 L196.0 251.6 L198.0 253.0 L200.0 254.5 L202.0 256.0 L204.0 257.5 L206.0 259.1 L208.0 260.6 L210.0 262.1 L212.0 263.6 L214.0 265.1 L216.0 266.4 L218.0 267.6 L220.0 268.7 L222.0 269.5 L224.0 270.1 L226.0 270.4 L228.0 270.5 L230.0 270.2 L232.0 269.7 L234.0 269.0 L236.0 268.2 L238.0 267.3 L240.0 266.3 L242.0 265.4 L244.0 264.6 L246.0 263.9 L248.0 263.4 L250.0 263.0 L252.0 262.7 L254.0 262.7 L256.0 262.9 L258.0 263.3 L260.0 264.0 L262.0 264.8 L264.0 265.9 L266.0 267.3 L268.0 268.9 L270.0 270.8 L272.0 272.9 L274.0 275.2 L276.0 277.6 L278.0 280.2 L280.0 282.9 L282.0 285.8 L284.0 288.7 L286.0 291.7 L288.0 294.7 L290.0 297.7 L292.0 300.7 L294.0 303.7 L296.0 306.7 L298.0 309.7 L300.0 312.8 L302.0 315.8 L304.0 318.8 L306.0 321.8 L308.0 324.9 L310.0 327.9 L312.0 331.0 L314.0 334.0 L316.0 337.1 L318.0 340.1 L320.0 343.1 L322.0 346.0 L324.0 348.9 L326.0 351.6 L328.0 354.4 L330.0 357.0 L332.0 359.6 L334.0 362.1 L336.0 364.5 L338.0 366.9 L340.0 369.2 L342.0 371.5 L344.0 373.7 L346.0 375.9 L348.0 377.9 L350.0 379.9 L352.0 381.7 L354.0 383.3 L356.0 384.8 L358.0 386.2 L360.0 387.4 L362.0 388.6 L364.0 389.6 L366.0 390.5 L368.0 391.3 L370.0 392.0 L372.0 392.5 L374.0 393.0 L376.0 393.4 L378.0 393.8 L380.0 394.1 L382.0 394.4 L384.0 394.6 L386.0 394.9 L388.0 395.1 L390.0 395.4 L392.0 395.7 L394.0 396.1 L396.0 396.7 L398.0 397.3 L400.0 398.2 L402.0 399.2 L404.0 400.6 L406.0 402.3 L408.0 404.3 L410.0 406.9 L412.0 410.3 L414.0 413.7 L416.0 417.1 L418.0 420.5 L418.9 422.4 L443.6 422.6 L446.4 420.8 L448.4 419.0 L450.4 417.2 L452.4 415.3 L454.4 413.3 L456.4 411.1 L458.4 409.0 L460.4 406.8 L462.4 404.5 L464.4 402.2 L466.4 399.9 L468.4 397.5 L470.4 395.1 L472.4 392.6 L474.4 390.0 L476.4 387.3 L478.4 384.4 L480.4 381.3 L482.4 377.9 L484.4 374.3 L486.4 370.3 L488.4 366.2 L490.4 361.8 L492.4 357.2 L494.4 352.2 L496.4 346.7 L498.4 340.5 L500.4 333.4 L502.4 325.4 L504.4 316.7 L506.4 307.7 L508.4 298.4 L510.4 289.0 L512.4 279.5 L514.4 270.1 L516.4 260.8 L518.4 251.6 L520.4 242.7 L522.4 234.0 L524.4 225.6 L526.4 217.5 L528.4 209.4 L530.4 201.4 L532.4 193.5 L534.4 185.7 L536.4 178.1 L538.4 170.9 L540.4 164.1 L542.4 157.6 L544.4 151.4 L546.4 145.5 L548.4 139.9 L550.4 134.5 L552.4 129.2 L554.4 124.2 L556.4 119.4 L558.4 114.7 L560.4 110.1 L562.4 105.8 L564.4 101.6 L566.4 97.7 L568.4 94.1 L570.4 90.7 L572.4 87.7 L574.4 84.9 L576.4 82.4 L578.4 80.1 L580.4 77.9 L582.4 75.8 L584.4 73.8 L586.4 72.0 L588.4 70.2 L590.4 68.5 L592.4 66.8 L594.4 65.2 L596.4 63.7 L598.4 62.3 L600.4 60.9 L602.4 59.5 L604.4 58.2 L606.4 57.0 L608.4 55.8 L610.4 54.7 L612.4 53.6 L614.4 52.6 L616.4 51.6 L618.4 50.7 L620.4 49.9 L622.4 49.1 L624.4 48.3 L626.4 47.6 L628.4 46.9 L630.4 46.2 L632.4 45.6 L634.4 45.0 L636.4 44.4 L638.4 43.8 L640.4 43.2 L642.4 42.6 L644.4 42.1 L646.4 41.6 L648.4 41.1 L650.4 40.6 L652.4 40.2 L654.4 39.8 L656.4 39.4 L658.4 39.1 L660.4 38.8 L662.4 38.5 L664.4 38.2 L666.4 38.0 L668.4 37.7 L670.4 37.5 L672.4 37.3 L674.4 37.1 L676.4 37.0 L678.4 36.8 L680.4 36.6 L682.4 36.4 L684.4 36.3 L686.4 36.1 L688.4 36.0 L690.4 35.9 L692.4 35.7 L694.4 35.6 L696.4 35.5 L698.4 35.3 L700.4 35.2 L702.4 35.1 L704.4 35.0 L706.4 34.9 L708.4 34.8 L710.4 34.7 L712.4 34.6 L714.4 34.5 L716.4 34.4 L718.4 34.3 L720.4 34.2 L722.4 34.1 L724.4 34.0 L726.4 34.0 L728.4 33.9 L730.4 33.8 L732.4 33.7 L734.4 33.6 L736.4 33.6 L738.4 33.5 L740.4 33.4 L742.4 33.3 L744.4 33.3 L746.4 33.2 L748.4 33.1 L750.4 33.1 L752.4 33.0 L754.4 32.9 L756.4 32.9 L758.4 32.8 L760.4 32.7 L762.4 32.7 L764.4 32.6 L766.4 32.5 L768.4 32.5 L770.4 32.4 L772.4 32.4 L774.4 32.3 L776.4 32.3 L778.4 32.2 L780.4 32.1 L782.4 32.1 L784.4 32.0 L786.4 32.0 L788.4 32.0 L790.4 31.9 L790.8 31.9" stroke="#00ffff" stroke-width="5.6" stroke-dasharray="24 9.75 3.35 9.75 3.35 9.75" stroke-dashoffset="6.5"/>
<path d="M126.0 237.2 L128.0 237.2 L130.0 237.2 L132.0 237.2 L134.0 237.2 L136.0 237.2 L138.0 237.2 L140.0 237.2 L142.0 237.2 L144.0 237.3 L146.0 237.3 L148.0 237.3 L150.0 237.4 L152.0 237.5 L154.0 237.6 L156.0 237.7 L158.0 237.8 L160.0 238.0 L162.0 238.2 L164.0 238.5 L166.0 238.9 L168.0 239.2 L170.0 239.7 L172.0 240.1 L174.0 240.7 L176.0 241.3 L178.0 241.9 L180.0 242.7 L182.0 243.6 L184.0 244.5 L186.0 245.5 L188.0 246.6 L190.0 247.8 L192.0 249.0 L194.0 250.2 L196.0 251.6 L198.0 253.0 L200.0 254.5 L202.0 256.0 L204.0 257.5 L206.0 259.1 L208.0 260.6 L210.0 262.1 L212.0 263.6 L214.0 265.1 L216.0 266.4 L218.0 267.6 L220.0 268.7 L222.0 269.5 L224.0 270.1 L226.0 270.4 L228.0 270.5 L230.0 270.2 L232.0 269.7 L234.0 269.0 L236.0 268.2 L238.0 267.3 L240.0 266.3 L242.0 265.4 L244.0 264.6 L246.0 263.9 L248.0 263.4 L250.0 263.0 L252.0 262.7 L254.0 262.7 L256.0 262.9 L258.0 263.3 L260.0 264.0 L262.0 264.8 L264.0 265.9 L266.0 267.3 L268.0 268.9 L270.0 270.8 L272.0 272.9 L274.0 275.2 L276.0 277.6 L278.0 280.2 L280.0 282.9 L282.0 285.8 L284.0 288.7 L286.0 291.7 L288.0 294.7 L290.0 297.7 L292.0 300.7 L294.0 303.7 L296.0 306.7 L298.0 309.7 L300.0 312.8 L302.0 315.8 L304.0 318.8 L306.0 321.8 L308.0 324.9 L310.0 327.9 L312.0 331.0 L314.0 334.0 L316.0 337.1 L318.0 340.1 L320.0 343.1 L322.0 346.0 L324.0 348.9 L326.0 351.6 L328.0 354.4 L330.0 357.0 L332.0 359.6 L334.0 362.1 L336.0 364.5 L338.0 366.9 L340.0 369.2 L342.0 371.5 L344.0 373.7 L346.0 375.9 L348.0 377.9 L350.0 379.9 L352.0 381.7 L354.0 383.3 L356.0 384.8 L358.0 386.2 L360.0 387.5 L362.0 388.6 L364.0 389.7 L366.0 390.5 L368.0 391.3 L370.0 391.9 L372.0 392.5 L374.0 392.9 L376.0 393.2 L378.0 393.5 L380.0 393.7 L382.0 393.8 L384.0 393.9 L386.0 393.9 L388.0 394.0 L390.0 394.0 L392.0 394.1 L394.0 394.2 L396.0 394.4 L398.0 394.6 L400.0 395.0 L402.0 395.4 L404.0 396.1 L406.0 397.1 L408.0 398.3 L410.0 399.8 L412.0 401.6 L414.0 403.7 L416.0 406.0 L418.0 408.7 L420.0 411.6 L422.0 414.6 L424.0 417.8 L426.0 421.0 L427.0 422.6 L443.6 422.6 L443.6 422.6 L445.6 420.8 L447.6 419.0 L449.6 417.2 L451.6 415.3 L453.6 413.3 L455.6 411.1 L457.6 409.0 L459.6 406.8 L461.6 404.5 L463.6 402.2 L465.6 399.9 L467.6 397.5 L469.6 395.1 L471.6 392.6 L473.6 390.0 L475.6 387.3 L477.6 384.4 L479.6 381.3 L481.6 377.9 L483.6 374.3 L485.6 370.3 L487.6 366.2 L489.6 361.8 L491.6 357.2 L493.6 352.2 L495.6 346.7 L497.6 340.5 L499.6 333.4 L501.6 325.4 L503.6 316.7 L505.6 307.7 L507.6 298.4 L509.6 289.0 L511.6 279.5 L513.6 270.1 L515.6 260.8 L517.6 251.6 L519.6 242.7 L521.6 234.0 L523.6 225.6 L525.6 217.5 L527.6 209.4 L529.6 201.4 L531.6 193.5 L533.6 185.7 L535.6 178.1 L537.6 170.9 L539.6 164.1 L541.6 157.6 L543.6 151.4 L545.6 145.5 L547.6 139.9 L549.6 134.5 L551.6 129.2 L553.6 124.2 L555.6 119.4 L557.6 114.7 L559.6 110.1 L561.6 105.8 L563.6 101.6 L565.6 97.7 L567.6 94.1 L569.6 90.7 L571.6 87.7 L573.6 84.9 L575.6 82.4 L577.6 80.1 L579.6 77.9 L581.6 75.8 L583.6 73.8 L585.6 72.0 L587.6 70.2 L589.6 68.5 L591.6 66.8 L593.6 65.2 L595.6 63.7 L597.6 62.3 L599.6 60.9 L601.6 59.5 L603.6 58.2 L605.6 57.0 L607.6 55.8 L609.6 54.7 L611.6 53.6 L613.6 52.6 L615.6 51.6 L617.6 50.7 L619.6 49.9 L621.6 49.1 L623.6 48.3 L625.6 47.6 L627.6 46.9 L629.6 46.2 L631.6 45.6 L633.6 45.0 L635.6 44.4 L637.6 43.8 L639.6 43.2 L641.6 42.6 L643.6 42.1 L645.6 41.6 L647.6 41.1 L649.6 40.6 L651.6 40.2 L653.6 39.8 L655.6 39.4 L657.6 39.1 L659.6 38.8 L661.6 38.5 L663.6 38.2 L665.6 38.0 L667.6 37.7 L669.6 37.5 L671.6 37.3 L673.6 37.1 L675.6 37.0 L677.6 36.8 L679.6 36.6 L681.6 36.4 L683.6 36.3 L685.6 36.1 L687.6 36.0 L689.6 35.9 L691.6 35.7 L693.6 35.6 L695.6 35.5 L697.6 35.3 L699.6 35.2 L701.6 35.1 L703.6 35.0 L705.6 34.9 L707.6 34.8 L709.6 34.7 L711.6 34.6 L713.6 34.5 L715.6 34.4 L717.6 34.3 L719.6 34.2 L721.6 34.1 L723.6 34.0 L725.6 34.0 L727.6 33.9 L729.6 33.8 L731.6 33.7 L733.6 33.6 L735.6 33.6 L737.6 33.5 L739.6 33.4 L741.6 33.3 L743.6 33.3 L745.6 33.2 L747.6 33.1 L749.6 33.1 L751.6 33.0 L753.6 32.9 L755.6 32.9 L757.6 32.8 L759.6 32.7 L761.6 32.7 L763.6 32.6 L765.6 32.5 L767.6 32.5 L769.6 32.4 L771.6 32.4 L773.6 32.3 L775.6 32.3 L777.6 32.2 L779.6 32.1 L781.6 32.1 L783.6 32.0 L785.6 32.0 L787.6 32.0 L789.6 31.9 L790.0 31.9" stroke="#ffbfbf" stroke-width="5.6" stroke-dasharray="13.2 20.4"/>
<path d="M126.0 237.2 L128.0 237.2 L130.0 237.2 L132.0 237.2 L134.0 237.2 L136.0 237.2 L138.0 237.2 L140.0 237.2 L142.0 237.2 L144.0 237.3 L146.0 237.3 L148.0 237.3 L150.0 237.4 L152.0 237.5 L154.0 237.6 L156.0 237.7 L158.0 237.8 L160.0 238.0 L162.0 238.2 L164.0 238.5 L166.0 238.9 L168.0 239.2 L170.0 239.7 L172.0 240.1 L174.0 240.7 L176.0 241.3 L178.0 241.9 L180.0 242.7 L182.0 243.6 L184.0 244.5 L186.0 245.5 L188.0 246.6 L190.0 247.8 L192.0 249.0 L194.0 250.2 L196.0 251.6 L198.0 253.0 L200.0 254.5 L202.0 256.0 L204.0 257.5 L206.0 259.1 L208.0 260.6 L210.0 262.1 L212.0 263.6 L214.0 265.1 L216.0 266.4 L218.0 267.6 L220.0 268.7 L222.0 269.5 L224.0 270.1 L226.0 270.4 L228.0 270.5 L230.0 270.2 L232.0 269.7 L234.0 269.0 L236.0 268.2 L238.0 267.3 L240.0 266.3 L242.0 265.4 L244.0 264.6 L246.0 263.9 L248.0 263.4 L250.0 263.0 L252.0 262.7 L254.0 262.7 L256.0 262.9 L258.0 263.3 L260.0 264.0 L262.0 264.8 L264.0 265.9 L266.0 267.3 L268.0 268.9 L270.0 270.8 L272.0 272.9 L274.0 275.2 L276.0 277.6 L278.0 280.2 L280.0 282.9 L282.0 285.8 L284.0 288.7 L286.0 291.7 L288.0 294.7 L290.0 297.7 L292.0 300.7 L294.0 303.7 L296.0 306.7 L298.0 309.7 L300.0 312.8 L302.0 315.8 L304.0 318.8 L306.0 321.8 L308.0 324.9 L310.0 327.9 L312.0 331.0 L314.0 334.0 L316.0 337.1 L318.0 340.1 L320.0 343.1 L322.0 346.0 L324.0 348.9 L326.0 351.6 L328.0 354.4 L330.0 357.0 L332.0 359.6 L334.0 362.1 L336.0 364.5 L338.0 366.9 L340.0 369.2 L342.0 371.5 L344.0 373.7 L346.0 375.9 L348.0 377.9 L350.0 379.9 L352.0 381.7 L354.0 383.3 L356.0 384.8 L358.0 386.2 L360.0 387.4 L362.0 388.6 L364.0 389.6 L366.0 390.5 L368.0 391.3 L370.0 391.9 L372.0 392.5 L374.0 393.0 L376.0 393.4 L378.0 393.8 L380.0 394.2 L382.0 394.5 L384.0 394.9 L386.0 395.4 L388.0 396.0 L390.0 396.8 L392.0 397.8 L394.0 399.2 L396.0 400.9 L398.0 402.9 L400.0 405.4 L402.0 408.5 L404.0 412.0 L406.0 415.4 L408.0 418.9 L409.9 422.4 L443.6 422.6 L445.6 420.8 L447.6 419.0 L449.6 417.2 L451.6 415.3 L453.6 413.3 L455.6 411.1 L457.6 409.0 L459.6 406.8 L461.6 404.5 L463.6 402.2 L465.6 399.9 L467.6 397.5 L469.6 395.1 L471.6 392.6 L473.6 390.0 L475.6 387.3 L477.6 384.4 L479.6 381.3 L481.6 377.9 L483.6 374.3 L485.6 370.3 L487.6 366.2 L489.6 361.8 L491.6 357.2 L493.6 352.2 L495.6 346.7 L497.6 340.5 L499.6 333.4 L501.6 325.4 L503.6 316.7 L505.6 307.7 L507.6 298.4 L509.6 289.0 L511.6 279.5 L513.6 270.1 L515.6 260.8 L517.6 251.6 L519.6 242.7 L521.6 234.0 L523.6 225.6 L525.6 217.5 L527.6 209.4 L529.6 201.4 L531.6 193.5 L533.6 185.7 L535.6 178.1 L537.6 170.9 L539.6 164.1 L541.6 157.6 L543.6 151.4 L545.6 145.5 L547.6 139.9 L549.6 134.5 L551.6 129.2 L553.6 124.2 L555.6 119.4 L557.6 114.7 L559.6 110.1 L561.6 105.8 L563.6 101.6 L565.6 97.7 L567.6 94.1 L569.6 90.7 L571.6 87.7 L573.6 84.9 L575.6 82.4 L577.6 80.1 L579.6 77.9 L581.6 75.8 L583.6 73.8 L585.6 72.0 L587.6 70.2 L589.6 68.5 L591.6 66.8 L593.6 65.2 L595.6 63.7 L597.6 62.3 L599.6 60.9 L601.6 59.5 L603.6 58.2 L605.6 57.0 L607.6 55.8 L609.6 54.7 L611.6 53.6 L613.6 52.6 L615.6 51.6 L617.6 50.7 L619.6 49.9 L621.6 49.1 L623.6 48.3 L625.6 47.6 L627.6 46.9 L629.6 46.2 L631.6 45.6 L633.6 45.0 L635.6 44.4 L637.6 43.8 L639.6 43.2 L641.6 42.6 L643.6 42.1 L645.6 41.6 L647.6 41.1 L649.6 40.6 L651.6 40.2 L653.6 39.8 L655.6 39.4 L657.6 39.1 L659.6 38.8 L661.6 38.5 L663.6 38.2 L665.6 38.0 L667.6 37.7 L669.6 37.5 L671.6 37.3 L673.6 37.1 L675.6 37.0 L677.6 36.8 L679.6 36.6 L681.6 36.4 L683.6 36.3 L685.6 36.1 L687.6 36.0 L689.6 35.9 L691.6 35.7 L693.6 35.6 L695.6 35.5 L697.6 35.3 L699.6 35.2 L701.6 35.1 L703.6 35.0 L705.6 34.9 L707.6 34.8 L709.6 34.7 L711.6 34.6 L713.6 34.5 L715.6 34.4 L717.6 34.3 L719.6 34.2 L721.6 34.1 L723.6 34.0 L725.6 34.0 L727.6 33.9 L729.6 33.8 L731.6 33.7 L733.6 33.6 L735.6 33.6 L737.6 33.5 L739.6 33.4 L741.6 33.3 L743.6 33.3 L745.6 33.2 L747.6 33.1 L749.6 33.1 L751.6 33.0 L753.6 32.9 L755.6 32.9 L757.6 32.8 L759.6 32.7 L761.6 32.7 L763.6 32.6 L765.6 32.5 L767.6 32.5 L769.6 32.4 L771.6 32.4 L773.6 32.3 L775.6 32.3 L777.6 32.2 L779.6 32.1 L781.6 32.1 L783.6 32.0 L785.6 32.0 L787.6 32.0 L789.6 31.9 L790.0 31.9" stroke="#ee82ee" stroke-width="5.6" stroke-dasharray="13.2 20.4"/>
<path d="M126.0 237.2 L128.0 237.2 L130.0 237.2 L132.0 237.2 L134.0 237.2 L136.0 237.2 L138.0 237.2 L140.0 237.2 L142.0 237.2 L144.0 237.3 L146.0 237.3 L148.0 237.3 L150.0 237.4 L152.0 237.5 L154.0 237.6 L156.0 237.7 L158.0 237.8 L160.0 238.0 L162.0 238.2 L164.0 238.5 L166.0 238.9 L168.0 239.2 L170.0 239.7 L172.0 240.1 L174.0 240.7 L176.0 241.3 L178.0 241.9 L180.0 242.7 L182.0 243.6 L184.0 244.5 L186.0 245.5 L188.0 246.6 L190.0 247.8 L192.0 249.0 L194.0 250.2 L196.0 251.6 L198.0 253.0 L200.0 254.5 L202.0 256.0 L204.0 257.5 L206.0 259.1 L208.0 260.6 L210.0 262.1 L212.0 263.6 L214.0 265.1 L216.0 266.4 L218.0 267.6 L220.0 268.7 L222.0 269.5 L224.0 270.1 L226.0 270.4 L228.0 270.5 L230.0 270.2 L232.0 269.7 L234.0 269.0 L236.0 268.2 L238.0 267.3 L240.0 266.3 L242.0 265.4 L244.0 264.6 L246.0 263.9 L248.0 263.4 L250.0 263.0 L252.0 262.7 L254.0 262.7 L256.0 262.9 L258.0 263.3 L260.0 264.0 L262.0 264.8 L264.0 265.9 L266.0 267.3 L268.0 268.9 L270.0 270.8 L272.0 272.9 L274.0 275.2 L276.0 277.6 L278.0 280.2 L280.0 282.9 L282.0 285.8 L284.0 288.7 L286.0 291.7 L288.0 294.7 L290.0 297.7 L292.0 300.7 L294.0 303.7 L296.0 306.7 L298.0 309.7 L300.0 312.8 L302.0 315.8 L304.0 318.8 L306.0 321.8 L308.0 324.9 L310.0 327.9 L312.0 331.0 L314.0 334.0 L316.0 337.1 L318.0 340.1 L320.0 343.1 L322.0 346.0 L324.0 348.9 L326.0 351.6 L328.0 354.4 L330.0 357.0 L332.0 359.6 L334.0 362.1 L336.0 364.5 L338.0 366.9 L340.0 369.2 L342.0 371.4 L344.0 373.6 L346.0 375.7 L348.0 377.7 L350.0 379.7 L352.0 381.6 L354.0 383.4 L356.0 385.2 L358.0 387.0 L360.0 388.7 L362.0 390.3 L364.0 391.9 L366.0 393.2 L368.0 394.4 L370.0 395.5 L372.0 396.4 L374.0 397.2 L376.0 397.8 L378.0 398.4 L380.0 398.9 L382.0 399.4 L384.0 399.7 L386.0 400.0 L388.0 400.2 L390.0 400.4 L392.0 400.5 L394.0 400.6 L396.0 400.5 L398.0 400.5 L400.0 400.3 L402.0 400.1 L404.0 399.9 L406.0 399.7 L408.0 399.4 L410.0 399.0 L412.0 398.6 L414.0 398.1 L416.0 397.6 L418.0 397.1 L420.0 396.5 L422.0 395.8 L424.0 395.1 L426.0 394.4 L428.0 393.7 L430.0 392.9 L432.0 392.0 L434.0 391.0 L436.0 390.0 L438.0 388.9 L440.0 387.5 L442.0 386.0 L444.0 384.1 L445.0 383.0 L445.0 383.0 L452.3 408.5 L455.9 390.6 L455.9 390.6 L457.9 385.0 L459.9 380.1 L461.9 375.8 L463.9 371.7 L465.9 367.7 L467.9 363.7 L469.9 359.7 L471.9 355.6 L473.9 351.4 L475.9 347.0 L477.9 342.3 L479.9 337.5 L481.9 332.5 L483.9 327.5 L485.9 322.5 L487.9 317.6 L489.9 312.5 L491.9 307.0 L493.9 300.6 L495.9 292.9 L497.9 283.9 L499.9 273.9 L501.9 263.7 L503.9 253.6 L505.9 244.0 L507.9 234.9 L509.9 226.3 L511.9 218.0 L513.9 210.2 L515.9 202.6 L517.9 195.2 L519.9 188.0 L521.9 180.9 L523.9 173.9 L525.9 167.0 L527.9 160.3 L529.9 153.8 L531.9 147.7 L533.9 141.7 L535.9 136.0 L537.9 130.5 L539.9 125.2 L541.9 120.0 L543.9 114.8 L545.9 109.8 L547.9 104.8 L549.9 100.2 L551.9 95.8 L553.9 91.8 L555.9 88.1 L557.9 84.9 L559.9 81.9 L561.9 79.1 L563.9 76.5 L565.9 74.1 L567.9 71.9 L569.9 69.8 L571.9 67.8 L573.9 65.9 L575.9 64.1 L577.9 62.3 L579.9 60.7 L581.9 59.1 L583.9 57.6 L585.9 56.1 L587.9 54.7 L589.9 53.3 L591.9 52.1 L593.9 50.9 L595.9 49.7 L597.9 48.7 L599.9 47.6 L601.9 46.7 L603.9 45.8 L605.9 44.9 L607.9 44.1 L609.9 43.3 L611.9 42.5 L613.9 41.7 L615.9 41.0 L617.9 40.3 L619.9 39.6 L621.9 39.0 L623.9 38.5 L625.9 38.0 L627.9 37.5 L629.9 37.1 L631.9 36.8 L633.9 36.5 L635.9 36.3 L637.9 36.1 L639.9 35.9 L641.9 35.7 L643.9 35.5 L645.9 35.4 L647.9 35.2 L649.9 35.1 L651.9 35.0 L653.9 34.9 L655.9 34.8 L657.9 34.7 L659.9 34.6 L661.9 34.5 L663.9 34.5 L665.9 34.4 L667.9 34.4 L669.9 34.3 L671.9 34.3 L673.9 34.2 L675.9 34.2 L677.9 34.1 L679.9 34.1 L681.9 34.1 L683.9 34.0 L685.9 34.0 L687.9 34.0 L689.9 34.0 L691.9 33.9 L693.9 33.9 L695.9 33.9 L697.9 33.8 L699.9 33.8 L701.9 33.8 L703.9 33.7 L705.9 33.7 L707.9 33.7 L709.9 33.6 L711.9 33.6 L713.9 33.6 L715.9 33.5 L717.9 33.5 L719.9 33.5 L721.9 33.4 L723.9 33.4 L725.9 33.4 L727.9 33.4 L729.9 33.3 L731.9 33.3 L733.9 33.3 L735.9 33.2 L737.9 33.2 L739.9 33.2 L741.9 33.1 L743.9 33.1 L745.9 33.1 L747.9 33.1 L749.9 33.0 L751.9 33.0 L753.9 33.0 L755.9 32.9 L757.9 32.9 L759.9 32.9 L761.9 32.9 L763.9 32.8 L765.9 32.8 L767.9 32.8 L769.9 32.7 L771.9 32.7 L773.9 32.7 L775.9 32.7 L777.9 32.6 L779.9 32.6 L781.9 32.6 L783.9 32.6 L785.9 32.5 L787.9 32.5 L789.9 32.5 L790.0 32.5" stroke="#b2b2b2" stroke-width="5.6" stroke-dasharray="13.2 20.4"/>
</g>
<clipPath id="c1"><rect x="125.7" y="430.6" width="664.1" height="429.3"/></clipPath>
<g clip-path="url(#c1)" fill="none" stroke-linejoin="round">
<path d="M126.0 818.3 L128.0 818.3 L130.0 818.3 L132.0 818.2 L134.0 818.2 L136.0 818.2 L138.0 818.1 L140.0 818.0 L142.0 818.0 L144.0 817.9 L146.0 817.8 L148.0 817.7 L150.0 817.5 L152.0 817.4 L154.0 817.3 L156.0 817.1 L158.0 816.8 L160.0 816.5 L162.0 816.0 L164.0 815.4 L166.0 814.6 L168.0 813.6 L170.0 812.5 L172.0 811.1 L174.0 809.5 L176.0 807.6 L178.0 805.4 L180.0 803.0 L182.0 800.5 L184.0 797.9 L186.0 795.2 L188.0 792.5 L190.0 789.7 L192.0 787.0 L194.0 784.4 L196.0 781.9 L198.0 779.7 L200.0 777.6 L202.0 775.7 L204.0 774.1 L206.0 772.9 L208.0 772.0 L210.0 771.5 L212.0 771.2 L214.0 771.1 L216.0 771.0 L218.0 771.0 L220.0 771.0 L222.0 770.9 L224.0 770.8 L226.0 770.7 L228.0 770.5 L230.0 770.2 L232.0 769.7 L234.0 769.1 L236.0 768.2 L238.0 767.0 L240.0 765.4 L242.0 763.4 L244.0 761.1 L246.0 758.3 L248.0 755.2 L250.0 751.7 L252.0 747.9 L254.0 744.1 L256.0 740.3 L258.0 736.7 L260.0 733.4 L262.0 730.4 L264.0 727.7 L266.0 725.2 L268.0 723.1 L270.0 721.1 L272.0 719.4 L274.0 717.8 L276.0 716.4 L278.0 715.1 L280.0 713.9 L282.0 712.9 L284.0 711.9 L286.0 710.9 L288.0 710.1 L290.0 709.2 L292.0 708.5 L294.0 707.7 L296.0 707.0 L298.0 706.4 L300.0 705.7 L302.0 705.1 L304.0 704.5 L306.0 703.9 L308.0 703.3 L310.0 702.8 L312.0 702.3 L314.0 701.8 L316.0 701.3 L318.0 700.9 L320.0 700.4 L322.0 700.0 L324.0 699.6 L326.0 699.3 L328.0 698.9 L330.0 698.6 L332.0 698.2 L334.0 697.9 L336.0 697.7 L338.0 697.4 L340.0 697.2 L342.0 697.0 L344.0 696.8 L346.0 696.6 L348.0 696.4 L350.0 696.1 L352.0 695.9 L354.0 695.5 L356.0 695.1 L358.0 694.7 L360.0 694.1 L362.0 693.4 L364.0 692.6 L366.0 691.8 L368.0 690.7 L370.0 689.6 L372.0 688.2 L374.0 686.8 L376.0 685.4 L378.0 684.0 L380.0 682.6 L382.0 681.4 L384.0 680.3 L386.0 679.3 L388.0 678.5 L390.0 677.8 L392.0 677.3 L394.0 676.8 L396.0 676.5 L398.0 676.2 L400.0 676.0 L402.0 675.9 L404.0 675.9 L406.0 675.8 L408.0 675.8 L410.0 675.8 L412.0 675.8 L414.0 675.8 L416.0 675.8 L418.0 675.7 L420.0 675.7 L422.0 675.7 L424.0 675.7 L426.0 675.7 L428.0 675.7 L430.0 675.7 L432.0 675.7 L434.0 675.7 L436.0 675.6 L438.0 675.6 L440.0 675.6 L442.0 675.6 L444.0 675.6 L446.0 675.6 L448.0 675.6 L450.0 675.6 L452.0 675.6 L454.0 675.5 L456.0 675.5 L458.0 675.5 L460.0 675.5 L462.0 675.5 L464.0 675.5 L466.0 675.5 L468.0 675.5 L470.0 675.5 L472.0 675.5 L474.0 675.4 L476.0 675.4 L478.0 675.4 L480.0 675.4 L482.0 675.4 L484.0 675.4 L486.0 675.4 L488.0 675.4 L490.0 675.4 L492.0 675.4 L494.0 675.4 L496.0 675.4 L498.0 675.4 L500.0 675.3 L502.0 675.3 L504.0 675.3 L506.0 675.3 L508.0 675.3 L510.0 675.3 L512.0 675.3 L514.0 675.3 L516.0 675.3 L518.0 675.3 L520.0 675.3 L522.0 675.3 L524.0 675.3 L526.0 675.3 L528.0 675.3 L530.0 675.3 L532.0 675.3 L534.0 675.3 L536.0 675.3 L538.0 675.3 L540.0 675.3 L542.0 675.3 L544.0 675.3 L546.0 675.3 L548.0 675.3 L550.0 675.3 L552.0 675.3 L554.0 675.3 L556.0 675.3 L558.0 675.3 L560.0 675.3 L562.0 675.3 L564.0 675.3 L566.0 675.3 L568.0 675.3 L570.0 675.3 L572.0 675.3 L574.0 675.3 L576.0 675.3 L578.0 675.3 L580.0 675.3 L582.0 675.3 L584.0 675.3 L586.0 675.3 L588.0 675.3 L590.0 675.3 L592.0 675.3 L594.0 675.3 L596.0 675.3 L598.0 675.3 L600.0 675.3 L602.0 675.3 L604.0 675.3 L606.0 675.3 L608.0 675.3 L610.0 675.3 L612.0 675.3 L614.0 675.3 L616.0 675.3 L618.0 675.3 L620.0 675.3 L622.0 675.3 L624.0 675.3 L626.0 675.3 L628.0 675.3 L630.0 675.3 L632.0 675.3 L634.0 675.3 L636.0 675.3 L638.0 675.3 L640.0 675.3 L642.0 675.3 L644.0 675.3 L646.0 675.3 L648.0 675.3 L650.0 675.3 L652.0 675.3 L654.0 675.3 L656.0 675.3 L658.0 675.3 L660.0 675.3 L662.0 675.3 L664.0 675.3 L666.0 675.3 L668.0 675.3 L670.0 675.3 L672.0 675.3 L674.0 675.3 L676.0 675.3 L678.0 675.3 L680.0 675.3 L682.0 675.3 L684.0 675.3 L686.0 675.3 L688.0 675.3 L690.0 675.3 L692.0 675.3 L694.0 675.3 L696.0 675.3 L698.0 675.3 L700.0 675.3 L702.0 675.3 L704.0 675.3 L706.0 675.3 L708.0 675.3 L710.0 675.3 L712.0 675.3 L714.0 675.3 L716.0 675.3 L718.0 675.3 L720.0 675.3 L722.0 675.3 L724.0 675.3 L726.0 675.3 L728.0 675.3 L730.0 675.3 L732.0 675.3 L734.0 675.3 L736.0 675.3 L738.0 675.3 L740.0 675.3 L742.0 675.3 L744.0 675.3 L746.0 675.3 L748.0 675.3 L750.0 675.3 L752.0 675.3 L754.0 675.3 L756.0 675.3 L758.0 675.3 L760.0 675.3 L762.0 675.3 L764.0 675.3 L766.0 675.3 L768.0 675.3 L770.0 675.3 L772.0 675.3 L774.0 675.3 L776.0 675.3 L778.0 675.3 L780.0 675.3 L782.0 675.3 L784.0 675.3 L786.0 675.3 L788.0 675.3 L790.0 675.3" stroke="#000000" stroke-width="5.6"/>
<path d="M126.0 818.3 L128.0 818.3 L130.0 818.3 L132.0 818.2 L134.0 818.2 L136.0 818.2 L138.0 818.1 L140.0 818.0 L142.0 818.0 L144.0 817.9 L146.0 817.8 L148.0 817.7 L150.0 817.5 L152.0 817.4 L154.0 817.3 L156.0 817.1 L158.0 816.8 L160.0 816.5 L162.0 816.0 L164.0 815.4 L166.0 814.6 L168.0 813.6 L170.0 812.5 L172.0 811.1 L174.0 809.5 L176.0 807.6 L178.0 805.4 L180.0 803.0 L182.0 800.5 L184.0 797.9 L186.0 795.2 L188.0 792.5 L190.0 789.8 L192.0 787.1 L194.0 784.4 L196.0 782.0 L198.0 779.6 L200.0 777.5 L202.0 775.6 L204.0 773.9 L206.0 772.6 L208.0 771.6 L210.0 770.9 L212.0 770.4 L214.0 770.2 L216.0 770.0 L218.0 769.8 L220.0 769.7 L222.0 769.5 L224.0 769.3 L226.0 769.1 L228.0 768.7 L230.0 768.4 L232.0 767.8 L234.0 767.2 L236.0 766.2 L238.0 764.9 L240.0 763.3 L242.0 761.4 L244.0 759.1 L246.0 756.4 L248.0 753.3 L250.0 750.0 L252.0 746.4 L254.0 742.7 L256.0 739.0 L258.0 735.6 L260.0 732.5 L262.0 729.6 L264.0 727.0 L266.0 724.7 L268.0 722.6 L270.0 720.6 L272.0 718.9 L274.0 717.4 L276.0 715.9 L278.0 714.6 L280.0 713.5 L282.0 712.4 L284.0 711.4 L286.0 710.4 L288.0 709.6 L290.0 708.8 L292.0 708.0 L294.0 707.3 L296.0 706.6 L298.0 705.9 L300.0 705.2 L302.0 704.6 L304.0 704.0 L306.0 703.4 L308.0 702.9 L310.0 702.3 L312.0 701.8 L314.0 701.3 L316.0 700.7 L318.0 700.2 L320.0 699.6 L322.0 699.0 L324.0 698.3 L326.0 697.7 L328.0 697.0 L330.0 696.4 L332.0 695.8 L334.0 695.3 L336.0 694.9 L338.0 694.5 L340.0 694.2 L342.0 694.0 L344.0 693.7 L346.0 693.6 L348.0 693.5 L350.0 693.4 L352.0 693.3 L354.0 693.3 L356.0 693.3 L358.0 693.3 L360.0 693.3 L362.0 693.3 L364.0 693.3 L366.0 693.3 L368.0 693.3 L370.0 693.3 L372.0 693.3 L374.0 693.3 L376.0 693.2 L378.0 693.2 L380.0 693.2 L382.0 693.1 L384.0 693.1 L386.0 693.0 L388.0 692.9 L390.0 692.9 L392.0 692.7 L394.0 692.6 L396.0 692.4 L398.0 692.1 L400.0 691.7 L402.0 691.3 L404.0 690.9 L406.0 690.4 L408.0 689.9 L410.0 689.4 L412.0 688.9 L414.0 688.4 L416.0 687.8 L418.0 687.2 L420.0 686.7 L422.0 686.1 L424.0 685.5 L426.0 684.9 L428.0 684.4 L430.0 683.8 L432.0 683.2 L434.0 682.7 L436.0 682.2 L438.0 681.7 L440.0 681.3 L442.0 681.0 L444.0 680.7 L446.0 680.5 L448.0 680.3 L450.0 680.2 L452.0 680.0 L454.0 679.9 L456.0 679.9 L458.0 679.8 L460.0 679.8 L462.0 679.8 L464.0 679.8 L466.0 679.8 L468.0 679.8 L470.0 679.8 L472.0 679.8 L474.0 679.9 L476.0 679.9 L478.0 679.9 L480.0 679.9 L482.0 679.9 L484.0 679.9 L486.0 679.9 L488.0 680.0 L490.0 680.0 L492.0 680.0 L494.0 680.0 L496.0 680.0 L498.0 680.1 L500.0 680.1 L502.0 680.1 L504.0 680.1 L506.0 680.1 L508.0 680.1 L510.0 680.2 L512.0 680.2 L514.0 680.2 L516.0 680.2 L518.0 680.2 L520.0 680.2 L522.0 680.3 L524.0 680.3 L526.0 680.3 L528.0 680.3 L530.0 680.3 L532.0 680.3 L534.0 680.3 L536.0 680.3 L538.0 680.3 L540.0 680.3 L542.0 680.4 L544.0 680.4 L546.0 680.4 L548.0 680.4 L550.0 680.4 L552.0 680.4 L554.0 680.4 L556.0 680.4 L558.0 680.4 L560.0 680.4 L562.0 680.4 L564.0 680.4 L566.0 680.4 L568.0 680.5 L570.0 680.5 L572.0 680.5 L574.0 680.5 L576.0 680.5 L578.0 680.5 L580.0 680.5 L582.0 680.5 L584.0 680.5 L586.0 680.5 L588.0 680.5 L590.0 680.5 L592.0 680.6 L594.0 680.6 L596.0 680.6 L598.0 680.6 L600.0 680.6 L602.0 680.6 L604.0 680.6 L606.0 680.6 L608.0 680.6 L610.0 680.6 L612.0 680.6 L614.0 680.6 L616.0 680.6 L618.0 680.6 L620.0 680.7 L622.0 680.7 L624.0 680.7 L626.0 680.7 L628.0 680.7 L630.0 680.7 L632.0 680.7 L634.0 680.7 L636.0 680.7 L638.0 680.7 L640.0 680.7 L642.0 680.7 L644.0 680.7 L646.0 680.7 L648.0 680.8 L650.0 680.8 L652.0 680.8 L654.0 680.8 L656.0 680.8 L658.0 680.8 L660.0 680.8 L662.0 680.8 L664.0 680.8 L666.0 680.8 L668.0 680.8 L670.0 680.8 L672.0 680.8 L674.0 680.8 L676.0 680.8 L678.0 680.8 L680.0 680.8 L682.0 680.8 L684.0 680.9 L686.0 680.9 L688.0 680.9 L690.0 680.9 L692.0 680.9 L694.0 680.9 L696.0 680.9 L698.0 680.9 L700.0 680.9 L702.0 680.9 L704.0 680.9 L706.0 680.9 L708.0 680.9 L710.0 680.9 L712.0 680.9 L714.0 680.9 L716.0 680.9 L718.0 680.9 L720.0 680.9 L722.0 680.9 L724.0 680.9 L726.0 680.9 L728.0 680.9 L730.0 681.0 L732.0 681.0 L734.0 681.0 L736.0 681.0 L738.0 681.0 L740.0 681.0 L742.0 681.0 L744.0 681.0 L746.0 681.0 L748.0 681.0 L750.0 681.0 L752.0 681.0 L754.0 681.0 L756.0 681.0 L758.0 681.0 L760.0 681.0 L762.0 681.0 L764.0 681.0 L766.0 681.0 L768.0 681.0 L770.0 681.0 L772.0 681.0 L774.0 681.0 L776.0 681.0 L778.0 681.0 L780.0 681.0 L782.0 681.0 L784.0 681.0 L786.0 681.0 L788.0 681.0 L790.0 681.0" stroke="#a52a2a" stroke-width="5.6"/>
<path d="M126.0 818.3 L128.0 818.3 L130.0 818.3 L132.0 818.3 L134.0 818.3 L136.0 818.3 L138.0 818.3 L140.0 818.3 L142.0 818.3 L144.0 818.3 L146.0 818.3 L148.0 818.3 L150.0 818.3 L152.0 818.2 L154.0 818.2 L156.0 818.2 L158.0 818.2 L160.0 818.2 L162.0 818.2 L164.0 818.2 L166.0 818.2 L168.0 818.2 L170.0 818.1 L172.0 818.1 L174.0 818.1 L176.0 818.1 L178.0 818.1 L180.0 818.1 L182.0 818.1 L184.0 818.0 L186.0 818.0 L188.0 818.0 L190.0 818.0 L192.0 818.0 L194.0 817.9 L196.0 817.9 L198.0 817.9 L200.0 817.9 L202.0 817.9 L204.0 817.8 L206.0 817.8 L208.0 817.8 L210.0 817.7 L212.0 817.7 L214.0 817.6 L216.0 817.6 L218.0 817.5 L220.0 817.4 L222.0 817.4 L224.0 817.3 L226.0 817.2 L228.0 817.1 L230.0 817.0 L232.0 816.9 L234.0 816.7 L236.0 816.6 L238.0 816.5 L240.0 816.4 L242.0 816.2 L244.0 816.1 L246.0 815.9 L248.0 815.7 L250.0 815.5 L252.0 815.3 L254.0 815.1 L256.0 814.9 L258.0 814.6 L260.0 814.4 L262.0 814.1 L264.0 813.9 L266.0 813.6 L268.0 813.3 L270.0 813.0 L272.0 812.7 L274.0 812.4 L276.0 812.1 L278.0 811.8 L280.0 811.4 L282.0 811.1 L284.0 810.7 L286.0 810.3 L288.0 810.0 L290.0 809.6 L292.0 809.2 L294.0 808.8 L296.0 808.4 L298.0 807.9 L300.0 807.5 L302.0 807.0 L304.0 806.5 L306.0 806.1 L308.0 805.6 L310.0 805.0 L312.0 804.5 L314.0 804.0 L316.0 803.5 L318.0 802.9 L320.0 802.4 L322.0 801.8 L324.0 801.2 L326.0 800.6 L328.0 800.0 L330.0 799.4 L332.0 798.8 L334.0 798.2 L336.0 797.5 L338.0 796.9 L340.0 796.2 L342.0 795.5 L344.0 794.8 L346.0 794.1 L348.0 793.4 L350.0 792.7 L352.0 792.0 L354.0 791.3 L356.0 790.5 L358.0 789.8 L360.0 789.0 L362.0 788.1 L364.0 787.2 L366.0 786.3 L368.0 785.3 L370.0 784.2 L372.0 783.0 L374.0 781.8 L376.0 780.3 L378.0 778.8 L380.0 777.1 L382.0 775.3 L384.0 773.3 L386.0 771.2 L388.0 768.9 L390.0 766.3 L392.0 763.4 L394.0 760.3 L396.0 757.0 L398.0 753.5 L400.0 750.0 L402.0 746.4 L404.0 742.8 L406.0 739.4 L408.0 736.1 L410.0 733.1 L412.0 730.4 L414.0 727.9 L416.0 725.7 L418.0 723.4 L420.0 721.1 L422.0 718.6 L424.0 715.8 L426.0 712.8 L428.0 709.6 L430.0 706.4 L432.0 703.3 L434.0 700.3 L436.0 697.5 L438.0 694.8 L440.0 692.4 L442.0 690.2 L444.0 688.2 L446.0 686.5 L448.0 684.9 L450.0 683.6 L452.0 682.5 L454.0 681.6 L456.0 680.8 L458.0 680.1 L460.0 679.6 L462.0 679.2 L464.0 678.9 L466.0 678.6 L468.0 678.5 L470.0 678.4 L472.0 678.2 L474.0 678.2 L476.0 678.1 L478.0 678.0 L480.0 677.9 L482.0 677.8 L484.0 677.8 L486.0 677.7 L488.0 677.6 L490.0 677.6 L492.0 677.5 L494.0 677.5 L496.0 677.4 L498.0 677.4 L500.0 677.3 L502.0 677.3 L504.0 677.3 L506.0 677.2 L508.0 677.2 L510.0 677.2 L512.0 677.1 L514.0 677.1 L516.0 677.1 L518.0 677.1 L520.0 677.1 L522.0 677.0 L524.0 677.0 L526.0 677.0 L528.0 677.0 L530.0 677.0 L532.0 677.0 L534.0 677.0 L536.0 677.0 L538.0 677.0 L540.0 677.0 L542.0 677.0 L544.0 677.0 L546.0 676.9 L548.0 676.9 L550.0 676.9 L552.0 676.9 L554.0 676.9 L556.0 676.9 L558.0 676.9 L560.0 676.9 L562.0 676.9 L564.0 676.9 L566.0 676.9 L568.0 676.9 L570.0 676.9 L572.0 676.9 L574.0 676.9 L576.0 676.9 L578.0 676.9 L580.0 676.8 L582.0 676.8 L584.0 676.8 L586.0 676.8 L588.0 676.8 L590.0 676.8 L592.0 676.8 L594.0 676.8 L596.0 676.8 L598.0 676.8 L600.0 676.8 L602.0 676.8 L604.0 676.8 L606.0 676.8 L608.0 676.8 L610.0 676.8 L612.0 676.8 L614.0 676.8 L616.0 676.8 L618.0 676.8 L620.0 676.8 L622.0 676.8 L624.0 676.7 L626.0 676.7 L628.0 676.7 L630.0 676.7 L632.0 676.7 L634.0 676.7 L636.0 676.7 L638.0 676.7 L640.0 676.7 L642.0 676.7 L644.0 676.7 L646.0 676.7 L648.0 676.7 L650.0 676.7 L652.0 676.7 L654.0 676.7 L656.0 676.7 L658.0 676.7 L660.0 676.7 L662.0 676.7 L664.0 676.7 L666.0 676.7 L668.0 676.7 L670.0 676.7 L672.0 676.7 L674.0 676.7 L676.0 676.7 L678.0 676.7 L680.0 676.7 L682.0 676.7 L684.0 676.7 L686.0 676.7 L688.0 676.7 L690.0 676.6 L692.0 676.6 L694.0 676.6 L696.0 676.6 L698.0 676.6 L700.0 676.6 L702.0 676.6 L704.0 676.6 L706.0 676.6 L708.0 676.6 L710.0 676.6 L712.0 676.6 L714.0 676.6 L716.0 676.6 L718.0 676.6 L720.0 676.6 L722.0 676.6 L724.0 676.6 L726.0 676.6 L728.0 676.6 L730.0 676.6 L732.0 676.6 L734.0 676.6 L736.0 676.6 L738.0 676.6 L740.0 676.6 L742.0 676.6 L744.0 676.6 L746.0 676.6 L748.0 676.6 L750.0 676.6 L752.0 676.6 L754.0 676.6 L756.0 676.6 L758.0 676.6 L760.0 676.6 L762.0 676.6 L764.0 676.6 L766.0 676.6 L768.0 676.6 L770.0 676.6 L772.0 676.6 L774.0 676.6 L776.0 676.6 L778.0 676.6 L780.0 676.6 L782.0 676.6 L784.0 676.6 L786.0 676.6 L788.0 676.6 L790.0 676.6" stroke="#ff0000" stroke-width="5.6"/>
<path d="M126.0 818.3 L128.0 818.3 L130.0 818.3 L132.0 818.3 L134.0 818.3 L136.0 818.3 L138.0 818.2 L140.0 818.2 L142.0 818.2 L144.0 818.2 L146.0 818.2 L148.0 818.1 L150.0 818.1 L152.0 818.1 L154.0 818.0 L156.0 818.0 L158.0 818.0 L160.0 817.9 L162.0 817.9 L164.0 817.8 L166.0 817.8 L168.0 817.8 L170.0 817.7 L172.0 817.7 L174.0 817.6 L176.0 817.6 L178.0 817.5 L180.0 817.4 L182.0 817.4 L184.0 817.3 L186.0 817.3 L188.0 817.2 L190.0 817.1 L192.0 817.0 L194.0 816.9 L196.0 816.8 L198.0 816.7 L200.0 816.5 L202.0 816.4 L204.0 816.2 L206.0 816.1 L208.0 815.9 L210.0 815.7 L212.0 815.5 L214.0 815.3 L216.0 815.1 L218.0 814.9 L220.0 814.6 L222.0 814.3 L224.0 814.0 L226.0 813.6 L228.0 813.2 L230.0 812.8 L232.0 812.3 L234.0 811.9 L236.0 811.4 L238.0 810.9 L240.0 810.4 L242.0 809.8 L244.0 809.2 L246.0 808.5 L248.0 807.8 L250.0 807.1 L252.0 806.3 L254.0 805.4 L256.0 804.5 L258.0 803.6 L260.0 802.7 L262.0 801.7 L264.0 800.7 L266.0 799.7 L268.0 798.7 L270.0 797.7 L272.0 796.6 L274.0 795.5 L276.0 794.4 L278.0 793.3 L280.0 792.1 L282.0 790.8 L284.0 789.6 L286.0 788.2 L288.0 786.9 L290.0 785.5 L292.0 784.1 L294.0 782.6 L296.0 781.0 L298.0 779.4 L300.0 777.7 L302.0 776.0 L304.0 774.1 L306.0 772.3 L308.0 770.3 L310.0 768.3 L312.0 766.3 L314.0 764.2 L316.0 762.1 L318.0 759.9 L320.0 757.6 L322.0 755.3 L324.0 752.8 L326.0 750.3 L328.0 747.6 L330.0 744.9 L332.0 742.0 L334.0 738.9 L336.0 735.7 L338.0 732.4 L340.0 729.0 L342.0 725.4 L344.0 721.6 L346.0 717.6 L348.0 713.4 L350.0 709.0 L352.0 704.4 L354.0 699.6 L356.0 694.7 L358.0 689.9 L360.0 685.0 L362.0 679.9 L364.0 674.7 L366.0 669.2 L368.0 663.3 L370.0 657.1 L372.0 650.6 L374.0 643.9 L376.0 636.9 L378.0 629.8 L380.0 622.4 L382.0 614.6 L384.0 606.5 L386.0 597.9 L388.0 589.0 L390.0 580.0 L392.0 571.7 L394.0 564.2 L396.0 557.6 L398.0 551.6 L400.0 546.2 L402.0 541.2 L404.0 536.7 L406.0 532.5 L408.0 528.5 L410.0 524.6 L412.0 520.6 L414.0 516.4 L416.0 512.0 L418.0 507.4 L420.0 502.8 L422.0 498.2 L424.0 493.8 L426.0 489.6 L428.0 485.5 L430.0 481.5 L432.0 477.9 L434.0 474.6 L436.0 471.7 L438.0 469.1 L440.0 467.0 L442.0 465.1 L444.0 463.7 L446.0 462.6 L448.0 461.6 L450.0 460.9 L452.0 460.2 L454.0 459.7 L456.0 459.2 L458.0 458.8 L460.0 458.4 L462.0 458.1 L464.0 457.8 L466.0 457.5 L468.0 457.2 L470.0 457.0 L472.0 456.8 L474.0 456.6 L476.0 456.4 L478.0 456.2 L480.0 456.0 L482.0 455.9 L484.0 455.7 L486.0 455.6 L488.0 455.4 L490.0 455.3 L492.0 455.2 L494.0 455.1 L496.0 454.9 L498.0 454.8 L500.0 454.7 L502.0 454.6 L504.0 454.5 L506.0 454.4 L508.0 454.3 L510.0 454.2 L512.0 454.2 L514.0 454.1 L516.0 454.1 L518.0 454.0 L520.0 454.0 L522.0 453.9 L524.0 453.9 L526.0 453.8 L528.0 453.8 L530.0 453.7 L532.0 453.7 L534.0 453.7 L536.0 453.6 L538.0 453.6 L540.0 453.6 L542.0 453.5 L544.0 453.5 L546.0 453.5 L548.0 453.5 L550.0 453.4 L552.0 453.4 L554.0 453.4 L556.0 453.4 L558.0 453.3 L560.0 453.3 L562.0 453.3 L564.0 453.3 L566.0 453.3 L568.0 453.3 L570.0 453.3 L572.0 453.3 L574.0 453.3 L576.0 453.3 L578.0 453.3 L580.0 453.3 L582.0 453.3 L584.0 453.3 L586.0 453.3 L588.0 453.3 L590.0 453.3 L592.0 453.3 L594.0 453.3 L596.0 453.3 L598.0 453.3 L600.0 453.3 L602.0 453.3 L604.0 453.3 L606.0 453.3 L608.0 453.3 L610.0 453.3 L612.0 453.3 L614.0 453.3 L616.0 453.3 L618.0 453.3 L620.0 453.3 L622.0 453.3 L624.0 453.3 L626.0 453.3 L628.0 453.3 L630.0 453.3 L632.0 453.3 L634.0 453.3 L636.0 453.3 L638.0 453.3 L640.0 453.3 L642.0 453.3 L644.0 453.3 L646.0 453.3 L648.0 453.3 L650.0 453.3 L652.0 453.3 L654.0 453.3 L656.0 453.3 L658.0 453.3 L660.0 453.3 L662.0 453.3 L664.0 453.3 L666.0 453.3 L668.0 453.3 L670.0 453.3 L672.0 453.3 L674.0 453.3 L676.0 453.3 L678.0 453.3 L680.0 453.3 L682.0 453.3 L684.0 453.3 L686.0 453.3 L688.0 453.3 L690.0 453.3 L692.0 453.3 L694.0 453.3 L696.0 453.3 L698.0 453.3 L700.0 453.3 L702.0 453.3 L704.0 453.3 L706.0 453.3 L708.0 453.3 L710.0 453.3 L712.0 453.3 L714.0 453.3 L716.0 453.3 L718.0 453.3 L720.0 453.3 L722.0 453.3 L724.0 453.3 L726.0 453.3 L728.0 453.3 L730.0 453.3 L732.0 453.3 L734.0 453.3 L736.0 453.3 L738.0 453.3 L740.0 453.3 L742.0 453.3 L744.0 453.3 L746.0 453.3 L748.0 453.3 L750.0 453.3 L752.0 453.3 L754.0 453.3 L756.0 453.3 L758.0 453.3 L760.0 453.3 L762.0 453.3 L764.0 453.3 L766.0 453.3 L768.0 453.3 L770.0 453.3 L772.0 453.3 L774.0 453.3 L776.0 453.3 L778.0 453.3 L780.0 453.3 L782.0 453.3 L784.0 453.3 L786.0 453.3 L788.0 453.3 L790.0 453.3" stroke="#0000ff" stroke-width="5.6"/>
<path d="M126.0 818.3 L128.0 818.3 L130.0 818.3 L132.0 818.3 L134.0 818.3 L136.0 818.3 L138.0 818.2 L140.0 818.2 L142.0 818.2 L144.0 818.2 L146.0 818.2 L148.0 818.1 L150.0 818.1 L152.0 818.1 L154.0 818.0 L156.0 818.0 L158.0 818.0 L160.0 817.9 L162.0 817.9 L164.0 817.8 L166.0 817.8 L168.0 817.8 L170.0 817.7 L172.0 817.7 L174.0 817.6 L176.0 817.6 L178.0 817.5 L180.0 817.4 L182.0 817.4 L184.0 817.3 L186.0 817.3 L188.0 817.2 L190.0 817.1 L192.0 817.0 L194.0 816.9 L196.0 816.8 L198.0 816.7 L200.0 816.5 L202.0 816.4 L204.0 816.2 L206.0 816.1 L208.0 815.9 L210.0 815.7 L212.0 815.5 L214.0 815.3 L216.0 815.1 L218.0 814.8 L220.0 814.5 L222.0 814.2 L224.0 813.9 L226.0 813.5 L228.0 813.1 L230.0 812.7 L232.0 812.2 L234.0 811.7 L236.0 811.2 L238.0 810.7 L240.0 810.1 L242.0 809.5 L244.0 808.9 L246.0 808.2 L248.0 807.5 L250.0 806.7 L252.0 805.9 L254.0 805.1 L256.0 804.1 L258.0 803.2 L260.0 802.2 L262.0 801.2 L264.0 800.1 L266.0 799.1 L268.0 798.0 L270.0 796.8 L272.0 795.6 L274.0 794.4 L276.0 793.1 L278.0 791.7 L280.0 790.3 L282.0 788.9 L284.0 787.3 L286.0 785.7 L288.0 784.0 L290.0 782.1 L292.0 780.2 L294.0 778.0 L296.0 775.7 L298.0 773.2 L300.0 770.5 L302.0 767.6 L304.0 764.5 L306.0 761.4 L308.0 758.2 L310.0 754.9 L312.0 751.5 L314.0 748.0 L316.0 744.5 L318.0 740.9 L320.0 737.4 L322.0 734.0 L324.0 730.6 L326.0 727.3 L328.0 724.0 L330.0 720.8 L332.0 717.5 L334.0 714.0 L336.0 710.4 L338.0 706.6 L340.0 702.7 L342.0 698.5 L344.0 694.2 L346.0 689.8 L348.0 685.2 L350.0 680.6 L352.0 676.0 L354.0 671.5 L356.0 667.0 L358.0 662.4 L360.0 657.7 L362.0 652.8 L364.0 647.5 L366.0 641.9 L368.0 635.7 L370.0 629.0 L372.0 621.9 L374.0 614.3 L376.0 606.2 L378.0 597.8 L380.0 589.0 L382.0 580.2 L384.0 571.4 L386.0 562.8 L388.0 554.6 L390.0 546.9 L392.0 539.6 L394.0 532.7 L396.0 526.1 L398.0 520.0 L400.0 514.1 L402.0 508.6 L404.0 503.4 L406.0 498.5 L408.0 493.8 L410.0 489.5 L412.0 485.4 L414.0 481.7 L416.0 478.2 L418.0 475.0 L420.0 472.1 L422.0 469.4 L424.0 466.9 L426.0 464.5 L428.0 462.3 L430.0 460.3 L432.0 458.3 L434.0 456.5 L436.0 454.8 L438.0 453.3 L440.0 452.0 L442.0 450.8 L444.0 449.8 L446.0 448.9 L448.0 448.1 L450.0 447.4 L452.0 446.7 L454.0 446.1 L456.0 445.6 L458.0 445.1 L460.0 444.6 L462.0 444.2 L464.0 443.8 L466.0 443.5 L468.0 443.2 L470.0 442.9 L472.0 442.7 L474.0 442.6 L476.0 442.4 L478.0 442.2 L480.0 442.1 L482.0 442.0 L484.0 441.9 L486.0 441.7 L488.0 441.6 L490.0 441.5 L492.0 441.5 L494.0 441.4 L496.0 441.3 L498.0 441.2 L500.0 441.1 L502.0 441.1 L504.0 441.0 L506.0 440.9 L508.0 440.9 L510.0 440.8 L512.0 440.7 L514.0 440.7 L516.0 440.6 L518.0 440.5 L520.0 440.5 L522.0 440.4 L524.0 440.3 L526.0 440.3 L528.0 440.2 L530.0 440.2 L532.0 440.1 L534.0 440.1 L536.0 440.0 L538.0 440.0 L540.0 439.9 L542.0 439.9 L544.0 439.8 L546.0 439.8 L548.0 439.8 L550.0 439.7 L552.0 439.7 L554.0 439.7 L556.0 439.6 L558.0 439.6 L560.0 439.6 L562.0 439.6 L564.0 439.5 L566.0 439.5 L568.0 439.5 L570.0 439.5 L572.0 439.5 L574.0 439.5 L576.0 439.5 L578.0 439.5 L580.0 439.5 L582.0 439.5 L584.0 439.4 L586.0 439.4 L588.0 439.4 L590.0 439.4 L592.0 439.4 L594.0 439.4 L596.0 439.4 L598.0 439.4 L600.0 439.4 L602.0 439.4 L604.0 439.4 L606.0 439.4 L608.0 439.4 L610.0 439.4 L612.0 439.4 L614.0 439.3 L616.0 439.3 L618.0 439.3 L620.0 439.3 L622.0 439.3 L624.0 439.3 L626.0 439.3 L628.0 439.3 L630.0 439.3 L632.0 439.3 L634.0 439.3 L636.0 439.3 L638.0 439.3 L640.0 439.3 L642.0 439.3 L644.0 439.3 L646.0 439.3 L648.0 439.3 L650.0 439.3 L652.0 439.2 L654.0 439.2 L656.0 439.2 L658.0 439.2 L660.0 439.2 L662.0 439.2 L664.0 439.2 L666.0 439.2 L668.0 439.2 L670.0 439.2 L672.0 439.2 L674.0 439.2 L676.0 439.2 L678.0 439.2 L680.0 439.2 L682.0 439.2 L684.0 439.2 L686.0 439.2 L688.0 439.2 L690.0 439.2 L692.0 439.2 L694.0 439.2 L696.0 439.2 L698.0 439.2 L700.0 439.2 L702.0 439.2 L704.0 439.2 L706.0 439.2 L708.0 439.1 L710.0 439.1 L712.0 439.1 L714.0 439.1 L716.0 439.1 L718.0 439.1 L720.0 439.1 L722.0 439.1 L724.0 439.1 L726.0 439.1 L728.0 439.1 L730.0 439.1 L732.0 439.1 L734.0 439.1 L736.0 439.1 L738.0 439.1 L740.0 439.1 L742.0 439.1 L744.0 439.1 L746.0 439.1 L748.0 439.1 L750.0 439.1 L752.0 439.1 L754.0 439.1 L756.0 439.1 L758.0 439.1 L760.0 439.1 L762.0 439.1 L764.0 439.1 L766.0 439.1 L768.0 439.1 L770.0 439.1 L772.0 439.1 L774.0 439.1 L776.0 439.1 L778.0 439.1 L780.0 439.1 L782.0 439.1 L784.0 439.1 L786.0 439.1 L788.0 439.1 L790.0 439.1" stroke="#ffa500" stroke-width="5.6" stroke-dasharray="24 9.75 3.35 9.75 3.35 9.75"/>
<path d="M126.0 818.3 L128.0 818.3 L130.0 818.3 L132.0 818.3 L134.0 818.3 L136.0 818.3 L138.0 818.3 L140.0 818.3 L142.0 818.3 L144.0 818.3 L146.0 818.2 L148.0 818.2 L150.0 818.2 L152.0 818.2 L154.0 818.2 L156.0 818.2 L158.0 818.2 L160.0 818.2 L162.0 818.1 L164.0 818.1 L166.0 818.1 L168.0 818.1 L170.0 818.1 L172.0 818.0 L174.0 818.0 L176.0 818.0 L178.0 818.0 L180.0 817.9 L182.0 817.9 L184.0 817.9 L186.0 817.8 L188.0 817.8 L190.0 817.8 L192.0 817.8 L194.0 817.7 L196.0 817.7 L198.0 817.7 L200.0 817.6 L202.0 817.6 L204.0 817.5 L206.0 817.5 L208.0 817.5 L210.0 817.4 L212.0 817.3 L214.0 817.3 L216.0 817.2 L218.0 817.1 L220.0 817.0 L222.0 816.8 L224.0 816.7 L226.0 816.6 L228.0 816.4 L230.0 816.3 L232.0 816.1 L234.0 815.9 L236.0 815.7 L238.0 815.5 L240.0 815.3 L242.0 815.0 L244.0 814.7 L246.0 814.4 L248.0 814.0 L250.0 813.5 L252.0 813.0 L254.0 812.5 L256.0 811.9 L258.0 811.4 L260.0 810.8 L262.0 810.2 L264.0 809.6 L266.0 809.0 L268.0 808.4 L270.0 807.8 L272.0 807.3 L274.0 806.8 L276.0 806.3 L278.0 805.8 L280.0 805.3 L282.0 804.8 L284.0 804.3 L286.0 803.8 L288.0 803.3 L290.0 802.8 L292.0 802.4 L294.0 801.9 L296.0 801.4 L298.0 800.9 L300.0 800.4 L302.0 799.9 L304.0 799.3 L306.0 798.8 L308.0 798.3 L310.0 797.8 L312.0 797.3 L314.0 796.8 L316.0 796.3 L318.0 795.8 L320.0 795.3 L322.0 794.7 L324.0 794.2 L326.0 793.6 L328.0 793.0 L330.0 792.4 L332.0 791.7 L334.0 791.0 L336.0 790.2 L338.0 789.4 L340.0 788.5 L342.0 787.5 L344.0 786.5 L346.0 785.4 L348.0 784.2 L350.0 782.9 L352.0 781.6 L354.0 780.3 L356.0 778.8 L358.0 777.3 L360.0 775.7 L362.0 774.1 L364.0 772.3 L366.0 770.4 L368.0 768.4 L370.0 766.3 L372.0 764.0 L374.0 761.6 L376.0 759.0 L378.0 756.3 L380.0 753.3 L382.0 750.1 L384.0 746.7 L386.0 743.1 L388.0 739.4 L390.0 735.5 L392.0 731.4 L394.0 727.3 L396.0 723.1 L398.0 718.9 L400.0 714.7 L402.0 710.7 L404.0 706.8 L406.0 703.0 L408.0 699.4 L410.0 695.9 L412.0 692.6 L414.0 689.4 L416.0 686.0 L418.0 682.5 L420.0 678.6 L422.0 674.3 L424.0 669.6 L426.0 664.6 L428.0 659.3 L430.0 653.9 L432.0 648.5 L434.0 643.3 L436.0 638.3 L438.0 633.6 L440.0 629.4 L442.0 625.9 L444.0 623.2 L446.0 621.1 L448.0 619.5 L450.0 618.3 L452.0 617.4 L454.0 616.7 L456.0 616.1 L458.0 615.6 L460.0 615.1 L462.0 614.8 L464.0 614.4 L466.0 614.1 L468.0 613.8 L470.0 613.6 L472.0 613.4 L474.0 613.3 L476.0 613.2 L478.0 613.1 L480.0 613.0 L482.0 612.9 L484.0 612.8 L486.0 612.7 L488.0 612.6 L490.0 612.6 L492.0 612.5 L494.0 612.4 L496.0 612.4 L498.0 612.3 L500.0 612.3 L502.0 612.2 L504.0 612.2 L506.0 612.1 L508.0 612.1 L510.0 612.0 L512.0 612.0 L514.0 612.0 L516.0 611.9 L518.0 611.9 L520.0 611.9 L522.0 611.9 L524.0 611.8 L526.0 611.8 L528.0 611.8 L530.0 611.8 L532.0 611.8 L534.0 611.8 L536.0 611.8 L538.0 611.8 L540.0 611.7 L542.0 611.7 L544.0 611.7 L546.0 611.7 L548.0 611.7 L550.0 611.7 L552.0 611.7 L554.0 611.7 L556.0 611.7 L558.0 611.7 L560.0 611.7 L562.0 611.6 L564.0 611.6 L566.0 611.6 L568.0 611.6 L570.0 611.6 L572.0 611.6 L574.0 611.6 L576.0 611.6 L578.0 611.6 L580.0 611.6 L582.0 611.6 L584.0 611.6 L586.0 611.6 L588.0 611.5 L590.0 611.5 L592.0 611.5 L594.0 611.5 L596.0 611.5 L598.0 611.5 L600.0 611.5 L602.0 611.5 L604.0 611.5 L606.0 611.5 L608.0 611.5 L610.0 611.5 L612.0 611.5 L614.0 611.5 L616.0 611.4 L618.0 611.4 L620.0 611.4 L622.0 611.4 L624.0 611.4 L626.0 611.4 L628.0 611.4 L630.0 611.4 L632.0 611.4 L634.0 611.4 L636.0 611.4 L638.0 611.4 L640.0 611.4 L642.0 611.4 L644.0 611.4 L646.0 611.4 L648.0 611.4 L650.0 611.4 L652.0 611.4 L654.0 611.3 L656.0 611.3 L658.0 611.3 L660.0 611.3 L662.0 611.3 L664.0 611.3 L666.0 611.3 L668.0 611.3 L670.0 611.3 L672.0 611.3 L674.0 611.3 L676.0 611.3 L678.0 611.3 L680.0 611.3 L682.0 611.3 L684.0 611.3 L686.0 611.3 L688.0 611.3 L690.0 611.3 L692.0 611.3 L694.0 611.3 L696.0 611.3 L698.0 611.3 L700.0 611.3 L702.0 611.3 L704.0 611.3 L706.0 611.3 L708.0 611.3 L710.0 611.2 L712.0 611.2 L714.0 611.2 L716.0 611.2 L718.0 611.2 L720.0 611.2 L722.0 611.2 L724.0 611.2 L726.0 611.2 L728.0 611.2 L730.0 611.2 L732.0 611.2 L734.0 611.2 L736.0 611.2 L738.0 611.2 L740.0 611.2 L742.0 611.2 L744.0 611.2 L746.0 611.2 L748.0 611.2 L750.0 611.2 L752.0 611.2 L754.0 611.2 L756.0 611.2 L758.0 611.2 L760.0 611.2 L762.0 611.2 L764.0 611.2 L766.0 611.2 L768.0 611.2 L770.0 611.2 L772.0 611.2 L774.0 611.2 L776.0 611.2 L778.0 611.2 L780.0 611.2 L782.0 611.2 L784.0 611.2 L786.0 611.2 L788.0 611.2 L790.0 611.2" stroke="#00ffff" stroke-width="5.6" stroke-dasharray="24 9.75 3.35 9.75 3.35 9.75"/>
<path d="M126.0 818.3 L128.0 818.3 L130.0 818.3 L132.0 818.3 L134.0 818.3 L136.0 818.3 L138.0 818.3 L140.0 818.3 L142.0 818.3 L144.0 818.3 L146.0 818.3 L148.0 818.3 L150.0 818.3 L152.0 818.2 L154.0 818.2 L156.0 818.2 L158.0 818.2 L160.0 818.2 L162.0 818.2 L164.0 818.2 L166.0 818.2 L168.0 818.2 L170.0 818.1 L172.0 818.1 L174.0 818.1 L176.0 818.1 L178.0 818.1 L180.0 818.1 L182.0 818.1 L184.0 818.0 L186.0 818.0 L188.0 818.0 L190.0 818.0 L192.0 818.0 L194.0 817.9 L196.0 817.9 L198.0 817.9 L200.0 817.9 L202.0 817.9 L204.0 817.8 L206.0 817.8 L208.0 817.8 L210.0 817.7 L212.0 817.7 L214.0 817.6 L216.0 817.6 L218.0 817.5 L220.0 817.4 L222.0 817.4 L224.0 817.3 L226.0 817.2 L228.0 817.1 L230.0 817.0 L232.0 816.9 L234.0 816.7 L236.0 816.6 L238.0 816.5 L240.0 816.4 L242.0 816.2 L244.0 816.1 L246.0 815.9 L248.0 815.7 L250.0 815.5 L252.0 815.3 L254.0 815.1 L256.0 814.9 L258.0 814.6 L260.0 814.4 L262.0 814.1 L264.0 813.9 L266.0 813.6 L268.0 813.3 L270.0 813.0 L272.0 812.7 L274.0 812.4 L276.0 812.1 L278.0 811.8 L280.0 811.4 L282.0 811.1 L284.0 810.7 L286.0 810.3 L288.0 810.0 L290.0 809.6 L292.0 809.2 L294.0 808.8 L296.0 808.4 L298.0 807.9 L300.0 807.5 L302.0 807.0 L304.0 806.5 L306.0 806.1 L308.0 805.6 L310.0 805.0 L312.0 804.5 L314.0 804.0 L316.0 803.5 L318.0 802.9 L320.0 802.4 L322.0 801.8 L324.0 801.2 L326.0 800.6 L328.0 800.0 L330.0 799.4 L332.0 798.8 L334.0 798.2 L336.0 797.5 L338.0 796.9 L340.0 796.2 L342.0 795.5 L344.0 794.8 L346.0 794.1 L348.0 793.4 L350.0 792.7 L352.0 792.0 L354.0 791.3 L356.0 790.5 L358.0 789.8 L360.0 789.0 L362.0 788.1 L364.0 787.2 L366.0 786.3 L368.0 785.3 L370.0 784.2 L372.0 783.0 L374.0 781.8 L376.0 780.3 L378.0 778.8 L380.0 777.1 L382.0 775.3 L384.0 773.3 L386.0 771.2 L388.0 768.9 L390.0 766.3 L392.0 763.4 L394.0 760.3 L396.0 757.0 L398.0 753.5 L400.0 750.0 L402.0 746.4 L404.0 742.8 L406.0 739.4 L408.0 736.1 L410.0 733.1 L412.0 730.4 L414.0 727.9 L416.0 725.7 L418.0 723.4 L420.0 721.1 L422.0 718.6 L424.0 715.8 L426.0 712.8 L428.0 709.6 L430.0 706.4 L432.0 703.3 L434.0 700.3 L436.0 697.5 L438.0 694.8 L440.0 692.4 L442.0 690.2 L444.0 688.2 L446.0 686.5 L448.0 684.9 L450.0 683.6 L452.0 682.5 L454.0 681.6 L456.0 680.8 L458.0 680.1 L460.0 679.6 L462.0 679.2 L464.0 678.9 L466.0 678.6 L468.0 678.5 L470.0 678.4 L472.0 678.2 L474.0 678.2 L476.0 678.1 L478.0 678.0 L480.0 677.9 L482.0 677.8 L484.0 677.8 L486.0 677.7 L488.0 677.6 L490.0 677.6 L492.0 677.5 L494.0 677.5 L496.0 677.4 L498.0 677.4 L500.0 677.3 L502.0 677.3 L504.0 677.3 L506.0 677.2 L508.0 677.2 L510.0 677.2 L512.0 677.1 L514.0 677.1 L516.0 677.1 L518.0 677.1 L520.0 677.1 L522.0 677.0 L524.0 677.0 L526.0 677.0 L528.0 677.0 L530.0 677.0 L532.0 677.0 L534.0 677.0 L536.0 677.0 L538.0 677.0 L540.0 677.0 L542.0 677.0 L544.0 677.0 L546.0 676.9 L548.0 676.9 L550.0 676.9 L552.0 676.9 L554.0 676.9 L556.0 676.9 L558.0 676.9 L560.0 676.9 L562.0 676.9 L564.0 676.9 L566.0 676.9 L568.0 676.9 L570.0 676.9 L572.0 676.9 L574.0 676.9 L576.0 676.9 L578.0 676.9 L580.0 676.8 L582.0 676.8 L584.0 676.8 L586.0 676.8 L588.0 676.8 L590.0 676.8 L592.0 676.8 L594.0 676.8 L596.0 676.8 L598.0 676.8 L600.0 676.8 L602.0 676.8 L604.0 676.8 L606.0 676.8 L608.0 676.8 L610.0 676.8 L612.0 676.8 L614.0 676.8 L616.0 676.8 L618.0 676.8 L620.0 676.8 L622.0 676.8 L624.0 676.7 L626.0 676.7 L628.0 676.7 L630.0 676.7 L632.0 676.7 L634.0 676.7 L636.0 676.7 L638.0 676.7 L640.0 676.7 L642.0 676.7 L644.0 676.7 L646.0 676.7 L648.0 676.7 L650.0 676.7 L652.0 676.7 L654.0 676.7 L656.0 676.7 L658.0 676.7 L660.0 676.7 L662.0 676.7 L664.0 676.7 L666.0 676.7 L668.0 676.7 L670.0 676.7 L672.0 676.7 L674.0 676.7 L676.0 676.7 L678.0 676.7 L680.0 676.7 L682.0 676.7 L684.0 676.7 L686.0 676.7 L688.0 676.7 L690.0 676.6 L692.0 676.6 L694.0 676.6 L696.0 676.6 L698.0 676.6 L700.0 676.6 L702.0 676.6 L704.0 676.6 L706.0 676.6 L708.0 676.6 L710.0 676.6 L712.0 676.6 L714.0 676.6 L716.0 676.6 L718.0 676.6 L720.0 676.6 L722.0 676.6 L724.0 676.6 L726.0 676.6 L728.0 676.6 L730.0 676.6 L732.0 676.6 L734.0 676.6 L736.0 676.6 L738.0 676.6 L740.0 676.6 L742.0 676.6 L744.0 676.6 L746.0 676.6 L748.0 676.6 L750.0 676.6 L752.0 676.6 L754.0 676.6 L756.0 676.6 L758.0 676.6 L760.0 676.6 L762.0 676.6 L764.0 676.6 L766.0 676.6 L768.0 676.6 L770.0 676.6 L772.0 676.6 L774.0 676.6 L776.0 676.6 L778.0 676.6 L780.0 676.6 L782.0 676.6 L784.0 676.6 L786.0 676.6 L788.0 676.6 L790.0 676.6" stroke="#ffbfbf" stroke-width="5.6" stroke-dasharray="13.2 20.4"/>
<path d="M126.0 818.3 L128.0 818.3 L130.0 818.3 L132.0 818.3 L134.0 818.3 L136.0 818.3 L138.0 818.2 L140.0 818.2 L142.0 818.2 L144.0 818.2 L146.0 818.2 L148.0 818.1 L150.0 818.1 L152.0 818.1 L154.0 818.0 L156.0 818.0 L158.0 818.0 L160.0 817.9 L162.0 817.9 L164.0 817.8 L166.0 817.8 L168.0 817.8 L170.0 817.7 L172.0 817.7 L174.0 817.6 L176.0 817.6 L178.0 817.5 L180.0 817.4 L182.0 817.4 L184.0 817.3 L186.0 817.3 L188.0 817.2 L190.0 817.1 L192.0 817.0 L194.0 816.9 L196.0 816.8 L198.0 816.7 L200.0 816.5 L202.0 816.4 L204.0 816.2 L206.0 816.1 L208.0 815.9 L210.0 815.7 L212.0 815.5 L214.0 815.3 L216.0 815.1 L218.0 814.9 L220.0 814.6 L222.0 814.3 L224.0 814.0 L226.0 813.6 L228.0 813.2 L230.0 812.8 L232.0 812.3 L234.0 811.9 L236.0 811.4 L238.0 810.9 L240.0 810.4 L242.0 809.8 L244.0 809.2 L246.0 808.5 L248.0 807.8 L250.0 807.1 L252.0 806.3 L254.0 805.4 L256.0 804.5 L258.0 803.6 L260.0 802.7 L262.0 801.7 L264.0 800.7 L266.0 799.7 L268.0 798.7 L270.0 797.7 L272.0 796.6 L274.0 795.5 L276.0 794.4 L278.0 793.3 L280.0 792.1 L282.0 790.8 L284.0 789.6 L286.0 788.2 L288.0 786.9 L290.0 785.5 L292.0 784.1 L294.0 782.6 L296.0 781.0 L298.0 779.4 L300.0 777.7 L302.0 776.0 L304.0 774.1 L306.0 772.3 L308.0 770.3 L310.0 768.3 L312.0 766.3 L314.0 764.2 L316.0 762.1 L318.0 759.9 L320.0 757.6 L322.0 755.3 L324.0 752.8 L326.0 750.3 L328.0 747.6 L330.0 744.9 L332.0 742.0 L334.0 738.9 L336.0 735.7 L338.0 732.4 L340.0 729.0 L342.0 725.4 L344.0 721.6 L346.0 717.6 L348.0 713.4 L350.0 709.0 L352.0 704.4 L354.0 699.6 L356.0 694.7 L358.0 689.9 L360.0 685.0 L362.0 679.9 L364.0 674.7 L366.0 669.2 L368.0 663.3 L370.0 657.1 L372.0 650.6 L374.0 643.9 L376.0 636.9 L378.0 629.8 L380.0 622.4 L382.0 614.6 L384.0 606.5 L386.0 597.9 L388.0 589.0 L390.0 580.0 L392.0 571.7 L394.0 564.2 L396.0 557.6 L398.0 551.6 L400.0 546.2 L402.0 541.2 L404.0 536.7 L406.0 532.5 L408.0 528.5 L410.0 524.6 L412.0 520.6 L414.0 516.4 L416.0 512.1 L418.0 507.6 L420.0 503.1 L422.0 498.5 L424.0 493.9 L426.0 489.3 L428.0 484.7 L430.0 480.1 L432.0 475.5 L434.0 471.0 L436.0 466.8 L438.0 462.8 L440.0 459.2 L442.0 455.9 L444.0 453.1 L446.0 450.9 L448.0 449.2 L450.0 447.9 L452.0 446.8 L454.0 446.0 L456.0 445.3 L458.0 444.7 L460.0 444.3 L462.0 443.8 L464.0 443.5 L466.0 443.1 L468.0 442.8 L470.0 442.6 L472.0 442.3 L474.0 442.2 L476.0 442.0 L478.0 441.9 L480.0 441.8 L482.0 441.6 L484.0 441.5 L486.0 441.4 L488.0 441.3 L490.0 441.2 L492.0 441.1 L494.0 441.1 L496.0 441.0 L498.0 440.9 L500.0 440.8 L502.0 440.8 L504.0 440.7 L506.0 440.7 L508.0 440.6 L510.0 440.5 L512.0 440.5 L514.0 440.4 L516.0 440.4 L518.0 440.3 L520.0 440.3 L522.0 440.3 L524.0 440.2 L526.0 440.2 L528.0 440.1 L530.0 440.1 L532.0 440.0 L534.0 440.0 L536.0 440.0 L538.0 439.9 L540.0 439.9 L542.0 439.8 L544.0 439.8 L546.0 439.8 L548.0 439.7 L550.0 439.7 L552.0 439.7 L554.0 439.6 L556.0 439.6 L558.0 439.6 L560.0 439.6 L562.0 439.6 L564.0 439.5 L566.0 439.5 L568.0 439.5 L570.0 439.5 L572.0 439.5 L574.0 439.5 L576.0 439.5 L578.0 439.5 L580.0 439.5 L582.0 439.5 L584.0 439.4 L586.0 439.4 L588.0 439.4 L590.0 439.4 L592.0 439.4 L594.0 439.4 L596.0 439.4 L598.0 439.4 L600.0 439.4 L602.0 439.4 L604.0 439.4 L606.0 439.4 L608.0 439.4 L610.0 439.4 L612.0 439.4 L614.0 439.3 L616.0 439.3 L618.0 439.3 L620.0 439.3 L622.0 439.3 L624.0 439.3 L626.0 439.3 L628.0 439.3 L630.0 439.3 L632.0 439.3 L634.0 439.3 L636.0 439.3 L638.0 439.3 L640.0 439.3 L642.0 439.3 L644.0 439.3 L646.0 439.3 L648.0 439.3 L650.0 439.3 L652.0 439.2 L654.0 439.2 L656.0 439.2 L658.0 439.2 L660.0 439.2 L662.0 439.2 L664.0 439.2 L666.0 439.2 L668.0 439.2 L670.0 439.2 L672.0 439.2 L674.0 439.2 L676.0 439.2 L678.0 439.2 L680.0 439.2 L682.0 439.2 L684.0 439.2 L686.0 439.2 L688.0 439.2 L690.0 439.2 L692.0 439.2 L694.0 439.2 L696.0 439.2 L698.0 439.2 L700.0 439.2 L702.0 439.2 L704.0 439.2 L706.0 439.2 L708.0 439.2 L710.0 439.1 L712.0 439.1 L714.0 439.1 L716.0 439.1 L718.0 439.1 L720.0 439.1 L722.0 439.1 L724.0 439.1 L726.0 439.1 L728.0 439.1 L730.0 439.1 L732.0 439.1 L734.0 439.1 L736.0 439.1 L738.0 439.1 L740.0 439.1 L742.0 439.1 L744.0 439.1 L746.0 439.1 L748.0 439.1 L750.0 439.1 L752.0 439.1 L754.0 439.1 L756.0 439.1 L758.0 439.1 L760.0 439.1 L762.0 439.1 L764.0 439.1 L766.0 439.1 L768.0 439.1 L770.0 439.1 L772.0 439.1 L774.0 439.1 L776.0 439.1 L778.0 439.1 L780.0 439.1 L782.0 439.1 L784.0 439.1 L786.0 439.1 L788.0 439.1 L790.0 439.1" stroke="#ee82ee" stroke-width="5.6" stroke-dasharray="13.2 20.4"/>
<path d="M126.0 818.3 L128.0 818.3 L130.0 818.3 L132.0 818.2 L134.0 818.2 L136.0 818.2 L138.0 818.1 L140.0 818.0 L142.0 818.0 L144.0 817.9 L146.0 817.8 L148.0 817.7 L150.0 817.5 L152.0 817.4 L154.0 817.3 L156.0 817.1 L158.0 816.8 L160.0 816.5 L162.0 816.0 L164.0 815.4 L166.0 814.6 L168.0 813.6 L170.0 812.5 L172.0 811.1 L174.0 809.5 L176.0 807.6 L178.0 805.4 L180.0 803.0 L182.0 800.5 L184.0 797.9 L186.0 795.2 L188.0 792.5 L190.0 789.8 L192.0 787.1 L194.0 784.4 L196.0 782.0 L198.0 779.6 L200.0 777.5 L202.0 775.6 L204.0 773.9 L206.0 772.6 L208.0 771.6 L210.0 770.9 L212.0 770.4 L214.0 770.2 L216.0 770.0 L218.0 769.8 L220.0 769.7 L222.0 769.5 L224.0 769.3 L226.0 769.1 L228.0 768.7 L230.0 768.4 L232.0 767.8 L234.0 767.2 L236.0 766.2 L238.0 764.9 L240.0 763.3 L242.0 761.4 L244.0 759.1 L246.0 756.4 L248.0 753.3 L250.0 750.0 L252.0 746.4 L254.0 742.7 L256.0 739.0 L258.0 735.6 L260.0 732.5 L262.0 729.6 L264.0 727.0 L266.0 724.7 L268.0 722.6 L270.0 720.6 L272.0 718.9 L274.0 717.4 L276.0 715.9 L278.0 714.6 L280.0 713.5 L282.0 712.4 L284.0 711.4 L286.0 710.4 L288.0 709.6 L290.0 708.8 L292.0 708.0 L294.0 707.3 L296.0 706.6 L298.0 705.9 L300.0 705.2 L302.0 704.6 L304.0 704.0 L306.0 703.4 L308.0 702.9 L310.0 702.3 L312.0 701.8 L314.0 701.3 L316.0 700.7 L318.0 700.2 L320.0 699.6 L322.0 699.0 L324.0 698.3 L326.0 697.7 L328.0 697.0 L330.0 696.4 L332.0 695.8 L334.0 695.3 L336.0 694.9 L338.0 694.5 L340.0 694.2 L342.0 694.0 L344.0 693.7 L346.0 693.6 L348.0 693.5 L350.0 693.4 L352.0 693.3 L354.0 693.3 L356.0 693.3 L358.0 693.3 L360.0 693.3 L362.0 693.3 L364.0 693.3 L366.0 693.3 L368.0 693.3 L370.0 693.3 L372.0 693.3 L374.0 693.3 L376.0 693.2 L378.0 693.2 L380.0 693.2 L382.0 693.1 L384.0 693.1 L386.0 693.0 L388.0 692.9 L390.0 692.9 L392.0 692.7 L394.0 692.6 L396.0 692.4 L398.0 692.1 L400.0 691.7 L402.0 691.3 L404.0 690.9 L406.0 690.4 L408.0 690.0 L410.0 689.5 L412.0 689.0 L414.0 688.5 L416.0 688.0 L418.0 687.4 L420.0 686.9 L422.0 686.2 L424.0 685.5 L426.0 684.7 L428.0 683.9 L430.0 682.9 L432.0 681.9 L434.0 680.7 L436.0 679.6 L438.0 678.4 L440.0 677.1 L442.0 675.8 L444.0 674.4 L446.0 672.9 L448.0 671.2 L450.0 669.3 L452.0 667.2 L454.0 665.0 L456.0 662.7 L458.0 660.4 L460.0 658.2 L462.0 656.0 L464.0 653.9 L466.0 651.9 L468.0 650.1 L470.0 648.3 L472.0 646.8 L474.0 645.3 L476.0 644.0 L478.0 642.8 L480.0 641.7 L482.0 640.8 L484.0 639.9 L486.0 639.2 L488.0 638.6 L490.0 638.0 L492.0 637.5 L494.0 637.1 L496.0 636.7 L498.0 636.3 L500.0 636.0 L502.0 635.6 L504.0 635.4 L506.0 635.1 L508.0 634.8 L510.0 634.6 L512.0 634.4 L514.0 634.1 L516.0 633.9 L518.0 633.7 L520.0 633.5 L522.0 633.4 L524.0 633.2 L526.0 633.1 L528.0 633.0 L530.0 632.9 L532.0 632.8 L534.0 632.8 L536.0 632.7 L538.0 632.7 L540.0 632.6 L542.0 632.6 L544.0 632.5 L546.0 632.5 L548.0 632.5 L550.0 632.4 L552.0 632.4 L554.0 632.4 L556.0 632.3 L558.0 632.3 L560.0 632.3 L562.0 632.3 L564.0 632.2 L566.0 632.2 L568.0 632.2 L570.0 632.2 L572.0 632.1 L574.0 632.1 L576.0 632.1 L578.0 632.1 L580.0 632.1 L582.0 632.1 L584.0 632.1 L586.0 632.0 L588.0 632.0 L590.0 632.0 L592.0 632.0 L594.0 632.0 L596.0 632.0 L598.0 632.0 L600.0 632.0 L602.0 632.0 L604.0 632.0 L606.0 632.0 L608.0 632.0 L610.0 632.0 L612.0 632.0 L614.0 632.0 L616.0 632.0 L618.0 632.0 L620.0 632.0 L622.0 632.0 L624.0 632.0 L626.0 632.0 L628.0 632.0 L630.0 632.0 L632.0 632.0 L634.0 632.0 L636.0 632.0 L638.0 632.0 L640.0 632.0 L642.0 632.0 L644.0 632.0 L646.0 632.0 L648.0 632.0 L650.0 632.0 L652.0 631.9 L654.0 631.9 L656.0 631.9 L658.0 631.9 L660.0 631.9 L662.0 631.9 L664.0 631.9 L666.0 631.9 L668.0 631.9 L670.0 631.9 L672.0 631.9 L674.0 631.9 L676.0 631.9 L678.0 631.9 L680.0 631.9 L682.0 631.9 L684.0 631.9 L686.0 631.9 L688.0 631.9 L690.0 631.9 L692.0 631.9 L694.0 631.9 L696.0 631.9 L698.0 631.9 L700.0 631.9 L702.0 631.9 L704.0 631.9 L706.0 631.9 L708.0 631.9 L710.0 631.9 L712.0 631.9 L714.0 631.9 L716.0 631.9 L718.0 631.9 L720.0 631.9 L722.0 631.9 L724.0 631.9 L726.0 631.9 L728.0 631.9 L730.0 631.9 L732.0 631.9 L734.0 631.9 L736.0 631.9 L738.0 631.9 L740.0 631.9 L742.0 631.9 L744.0 631.9 L746.0 631.9 L748.0 631.9 L750.0 631.9 L752.0 631.9 L754.0 631.9 L756.0 631.9 L758.0 631.9 L760.0 631.9 L762.0 631.9 L764.0 631.9 L766.0 631.9 L768.0 631.9 L770.0 631.9 L772.0 631.9 L774.0 631.9 L776.0 631.9 L778.0 631.9 L780.0 631.9 L782.0 631.9 L784.0 631.9 L786.0 631.9 L788.0 631.9 L790.0 631.9" stroke="#b2b2b2" stroke-width="5.6" stroke-dasharray="13.2 20.4"/>
</g>
<clipPath id="c2"><rect x="125.7" y="859.9" width="664.1" height="429.1"/></clipPath>
<g clip-path="url(#c2)" fill="none" stroke-linejoin="round">
<path d="M126.0 1256.0 L128.0 1256.0 L130.0 1256.0 L132.0 1256.0 L134.0 1256.0 L136.0 1256.0 L138.0 1256.0 L140.0 1256.0 L142.0 1256.0 L144.0 1256.0 L146.0 1256.0 L148.0 1256.0 L150.0 1256.0 L152.0 1256.0 L154.0 1256.0 L156.0 1256.0 L158.0 1256.0 L160.0 1256.0 L162.0 1256.0 L164.0 1256.0 L166.0 1256.0 L168.0 1256.0 L170.0 1256.0 L172.0 1256.0 L174.0 1256.0 L176.0 1256.0 L178.0 1256.0 L180.0 1256.0 L182.0 1256.0 L184.0 1256.0 L186.0 1256.0 L188.0 1256.0 L190.0 1256.0 L192.0 1256.0 L194.0 1256.0 L196.0 1256.0 L198.0 1256.0 L200.0 1256.0 L202.0 1256.0 L204.0 1256.0 L206.0 1256.1 L208.0 1256.1 L210.0 1256.2 L212.0 1256.4 L214.0 1256.6 L216.0 1256.9 L218.0 1257.2 L220.0 1257.5 L222.0 1257.9 L224.0 1258.3 L226.0 1258.8 L228.0 1259.3 L230.0 1259.9 L232.0 1260.5 L234.0 1261.2 L236.0 1261.8 L238.0 1262.4 L240.0 1262.9 L242.0 1263.4 L244.0 1263.9 L246.0 1264.3 L248.0 1264.7 L250.0 1265.0 L252.0 1265.1 L254.0 1265.2 L256.0 1265.2 L258.0 1265.1 L260.0 1264.8 L262.0 1264.5 L264.0 1264.1 L266.0 1263.6 L268.0 1263.0 L270.0 1262.3 L272.0 1261.5 L274.0 1260.5 L276.0 1259.5 L278.0 1258.3 L280.0 1257.0 L282.0 1255.6 L284.0 1254.2 L286.0 1252.6 L288.0 1250.9 L290.0 1249.1 L292.0 1247.3 L294.0 1245.5 L296.0 1243.6 L298.0 1241.6 L300.0 1239.7 L302.0 1237.7 L304.0 1235.6 L306.0 1233.6 L308.0 1231.6 L310.0 1229.5 L312.0 1227.5 L314.0 1225.5 L316.0 1223.5 L318.0 1221.5 L320.0 1219.5 L322.0 1217.5 L324.0 1215.5 L326.0 1213.5 L328.0 1211.5 L330.0 1209.5 L332.0 1207.4 L334.0 1205.4 L336.0 1203.4 L338.0 1201.4 L340.0 1199.4 L342.0 1197.4 L344.0 1195.5 L346.0 1193.7 L348.0 1191.9 L350.0 1190.1 L352.0 1188.4 L354.0 1186.7 L356.0 1184.9 L358.0 1183.2 L360.0 1181.4 L362.0 1179.5 L364.0 1177.5 L366.0 1175.4 L368.0 1173.2 L370.0 1170.9 L372.0 1168.7 L374.0 1166.4 L376.0 1164.1 L378.0 1161.8 L380.0 1159.6 L382.0 1157.3 L384.0 1155.2 L386.0 1153.0 L388.0 1150.9 L390.0 1148.8 L392.0 1146.9 L394.0 1145.1 L396.0 1143.4 L398.0 1141.9 L400.0 1140.5 L402.0 1139.3 L404.0 1138.1 L406.0 1137.0 L408.0 1136.0 L410.0 1135.1 L412.0 1134.3 L414.0 1133.6 L416.0 1133.0 L418.0 1132.4 L420.0 1131.9 L422.0 1131.4 L424.0 1131.0 L426.0 1130.6 L428.0 1130.3 L430.0 1130.1 L432.0 1129.9 L434.0 1129.8 L436.0 1129.7 L438.0 1129.6 L440.0 1129.5 L442.0 1129.4 L444.0 1129.4 L446.0 1129.3 L448.0 1129.2 L450.0 1129.2 L452.0 1129.1 L454.0 1129.1 L456.0 1129.1 L458.0 1129.0 L460.0 1129.0 L462.0 1128.9 L464.0 1128.9 L466.0 1128.9 L468.0 1128.9 L470.0 1128.8 L472.0 1128.8 L474.0 1128.8 L476.0 1128.8 L478.0 1128.8 L480.0 1128.8 L482.0 1128.8 L484.0 1128.8 L486.0 1128.9 L488.0 1128.9 L490.0 1128.9 L492.0 1129.0 L494.0 1129.0 L496.0 1129.1 L498.0 1129.2 L500.0 1129.2 L502.0 1129.3 L504.0 1129.4 L506.0 1129.4 L508.0 1129.5 L510.0 1129.6 L512.0 1129.7 L514.0 1129.7 L516.0 1129.8 L518.0 1129.9 L520.0 1129.9 L522.0 1130.0 L524.0 1130.0 L526.0 1130.1 L528.0 1130.1 L530.0 1130.2 L532.0 1130.2 L534.0 1130.2 L536.0 1130.2 L538.0 1130.3 L540.0 1130.3 L542.0 1130.3 L544.0 1130.3 L546.0 1130.3 L548.0 1130.4 L550.0 1130.4 L552.0 1130.4 L554.0 1130.4 L556.0 1130.4 L558.0 1130.4 L560.0 1130.5 L562.0 1130.5 L564.0 1130.5 L566.0 1130.5 L568.0 1130.5 L570.0 1130.6 L572.0 1130.6 L574.0 1130.6 L576.0 1130.6 L578.0 1130.6 L580.0 1130.6 L582.0 1130.7 L584.0 1130.7 L586.0 1130.7 L588.0 1130.7 L590.0 1130.7 L592.0 1130.7 L594.0 1130.7 L596.0 1130.8 L598.0 1130.8 L600.0 1130.8 L602.0 1130.8 L604.0 1130.8 L606.0 1130.8 L608.0 1130.9 L610.0 1130.9 L612.0 1130.9 L614.0 1130.9 L616.0 1130.9 L618.0 1130.9 L620.0 1130.9 L622.0 1130.9 L624.0 1131.0 L626.0 1131.0 L628.0 1131.0 L630.0 1131.0 L632.0 1131.0 L634.0 1131.0 L636.0 1131.0 L638.0 1131.0 L640.0 1131.1 L642.0 1131.1 L644.0 1131.1 L646.0 1131.1 L648.0 1131.1 L650.0 1131.1 L652.0 1131.1 L654.0 1131.1 L656.0 1131.1 L658.0 1131.2 L660.0 1131.2 L662.0 1131.2 L664.0 1131.2 L666.0 1131.2 L668.0 1131.2 L670.0 1131.2 L672.0 1131.2 L674.0 1131.2 L676.0 1131.2 L678.0 1131.3 L680.0 1131.3 L682.0 1131.3 L684.0 1131.3 L686.0 1131.3 L688.0 1131.3 L690.0 1131.3 L692.0 1131.3 L694.0 1131.3 L696.0 1131.3 L698.0 1131.3 L700.0 1131.3 L702.0 1131.3 L704.0 1131.4 L706.0 1131.4 L708.0 1131.4 L710.0 1131.4 L712.0 1131.4 L714.0 1131.4 L716.0 1131.4 L718.0 1131.4 L720.0 1131.4 L722.0 1131.4 L724.0 1131.4 L726.0 1131.4 L728.0 1131.4 L730.0 1131.4 L732.0 1131.4 L734.0 1131.4 L736.0 1131.4 L738.0 1131.4 L740.0 1131.5 L742.0 1131.5 L744.0 1131.5 L746.0 1131.5 L748.0 1131.5 L750.0 1131.5 L752.0 1131.5 L754.0 1131.5 L756.0 1131.5 L758.0 1131.5 L760.0 1131.5 L762.0 1131.5 L764.0 1131.5 L766.0 1131.5 L768.0 1131.5 L770.0 1131.5 L772.0 1131.5 L774.0 1131.5 L776.0 1131.5 L778.0 1131.5 L780.0 1131.5 L782.0 1131.5 L784.0 1131.5 L786.0 1131.5 L788.0 1131.5 L790.0 1131.5" stroke="#000000" stroke-width="5.6"/>
<path d="M126.0 1256.0 L128.0 1256.0 L130.0 1256.0 L132.0 1256.0 L134.0 1256.0 L136.0 1256.0 L138.0 1256.0 L140.0 1256.0 L142.0 1256.0 L144.0 1256.0 L146.0 1256.0 L148.0 1256.0 L150.0 1256.0 L152.0 1256.0 L154.0 1256.0 L156.0 1256.0 L158.0 1256.0 L160.0 1256.0 L162.0 1256.0 L164.0 1256.0 L166.0 1256.0 L168.0 1256.0 L170.0 1256.0 L172.0 1256.0 L174.0 1256.0 L176.0 1256.0 L178.0 1256.0 L180.0 1255.9 L182.0 1255.9 L184.0 1255.9 L186.0 1255.9 L188.0 1255.9 L190.0 1255.9 L192.0 1255.9 L194.0 1255.9 L196.0 1255.9 L198.0 1255.9 L200.0 1255.9 L202.0 1255.9 L204.0 1255.9 L206.0 1255.9 L208.0 1255.9 L210.0 1255.8 L212.0 1255.8 L214.0 1255.8 L216.0 1255.8 L218.0 1255.8 L220.0 1255.8 L222.0 1255.8 L224.0 1255.8 L226.0 1255.8 L228.0 1255.8 L230.0 1255.7 L232.0 1255.7 L234.0 1255.7 L236.0 1255.7 L238.0 1255.7 L240.0 1255.7 L242.0 1255.7 L244.0 1255.6 L246.0 1255.6 L248.0 1255.6 L250.0 1255.5 L252.0 1255.5 L254.0 1255.4 L256.0 1255.2 L258.0 1255.1 L260.0 1254.8 L262.0 1254.6 L264.0 1254.3 L266.0 1253.9 L268.0 1253.5 L270.0 1252.9 L272.0 1252.3 L274.0 1251.5 L276.0 1250.6 L278.0 1249.7 L280.0 1248.6 L282.0 1247.5 L284.0 1246.4 L286.0 1245.2 L288.0 1243.9 L290.0 1242.5 L292.0 1241.1 L294.0 1239.6 L296.0 1238.1 L298.0 1236.4 L300.0 1234.8 L302.0 1233.0 L304.0 1231.2 L306.0 1229.4 L308.0 1227.4 L310.0 1225.5 L312.0 1223.4 L314.0 1221.4 L316.0 1219.3 L318.0 1217.3 L320.0 1215.2 L322.0 1213.2 L324.0 1211.1 L326.0 1209.1 L328.0 1207.1 L330.0 1205.1 L332.0 1203.1 L334.0 1201.2 L336.0 1199.3 L338.0 1197.4 L340.0 1195.6 L342.0 1193.9 L344.0 1192.1 L346.0 1190.4 L348.0 1188.7 L350.0 1186.9 L352.0 1185.0 L354.0 1183.1 L356.0 1181.1 L358.0 1178.9 L360.0 1176.7 L362.0 1174.5 L364.0 1172.2 L366.0 1169.9 L368.0 1167.7 L370.0 1165.4 L372.0 1163.3 L374.0 1161.1 L376.0 1159.0 L378.0 1156.9 L380.0 1154.9 L382.0 1152.9 L384.0 1150.9 L386.0 1149.0 L388.0 1147.2 L390.0 1145.4 L392.0 1143.7 L394.0 1142.0 L396.0 1140.4 L398.0 1138.8 L400.0 1137.4 L402.0 1136.0 L404.0 1134.7 L406.0 1133.6 L408.0 1132.5 L410.0 1131.5 L412.0 1130.6 L414.0 1129.8 L416.0 1129.1 L418.0 1128.4 L420.0 1127.8 L422.0 1127.2 L424.0 1126.7 L426.0 1126.3 L428.0 1125.9 L430.0 1125.5 L432.0 1125.2 L434.0 1124.9 L436.0 1124.6 L438.0 1124.4 L440.0 1124.2 L442.0 1124.0 L444.0 1123.8 L446.0 1123.7 L448.0 1123.6 L450.0 1123.5 L452.0 1123.3 L454.0 1123.3 L456.0 1123.2 L458.0 1123.1 L460.0 1123.0 L462.0 1122.9 L464.0 1122.8 L466.0 1122.8 L468.0 1122.7 L470.0 1122.7 L472.0 1122.6 L474.0 1122.6 L476.0 1122.6 L478.0 1122.5 L480.0 1122.5 L482.0 1122.5 L484.0 1122.5 L486.0 1122.5 L488.0 1122.4 L490.0 1122.4 L492.0 1122.4 L494.0 1122.4 L496.0 1122.4 L498.0 1122.4 L500.0 1122.4 L502.0 1122.4 L504.0 1122.4 L506.0 1122.4 L508.0 1122.3 L510.0 1122.3 L512.0 1122.3 L514.0 1122.3 L516.0 1122.3 L518.0 1122.3 L520.0 1122.3 L522.0 1122.3 L524.0 1122.3 L526.0 1122.3 L528.0 1122.3 L530.0 1122.3 L532.0 1122.3 L534.0 1122.3 L536.0 1122.3 L538.0 1122.3 L540.0 1122.3 L542.0 1122.3 L544.0 1122.3 L546.0 1122.3 L548.0 1122.3 L550.0 1122.3 L552.0 1122.3 L554.0 1122.3 L556.0 1122.3 L558.0 1122.3 L560.0 1122.3 L562.0 1122.3 L564.0 1122.3 L566.0 1122.3 L568.0 1122.3 L570.0 1122.3 L572.0 1122.3 L574.0 1122.3 L576.0 1122.3 L578.0 1122.3 L580.0 1122.3 L582.0 1122.3 L584.0 1122.3 L586.0 1122.3 L588.0 1122.3 L590.0 1122.3 L592.0 1122.3 L594.0 1122.3 L596.0 1122.3 L598.0 1122.3 L600.0 1122.3 L602.0 1122.3 L604.0 1122.3 L606.0 1122.3 L608.0 1122.3 L610.0 1122.3 L612.0 1122.3 L614.0 1122.3 L616.0 1122.3 L618.0 1122.3 L620.0 1122.3 L622.0 1122.3 L624.0 1122.3 L626.0 1122.3 L628.0 1122.3 L630.0 1122.3 L632.0 1122.3 L634.0 1122.3 L636.0 1122.3 L638.0 1122.3 L640.0 1122.3 L642.0 1122.3 L644.0 1122.3 L646.0 1122.3 L648.0 1122.3 L650.0 1122.3 L652.0 1122.3 L654.0 1122.3 L656.0 1122.3 L658.0 1122.3 L660.0 1122.4 L662.0 1122.4 L664.0 1122.4 L666.0 1122.4 L668.0 1122.4 L670.0 1122.4 L672.0 1122.4 L674.0 1122.4 L676.0 1122.4 L678.0 1122.4 L680.0 1122.4 L682.0 1122.4 L684.0 1122.4 L686.0 1122.4 L688.0 1122.4 L690.0 1122.4 L692.0 1122.4 L694.0 1122.4 L696.0 1122.4 L698.0 1122.4 L700.0 1122.4 L702.0 1122.4 L704.0 1122.4 L706.0 1122.4 L708.0 1122.4 L710.0 1122.4 L712.0 1122.4 L714.0 1122.4 L716.0 1122.4 L718.0 1122.5 L720.0 1122.5 L722.0 1122.5 L724.0 1122.5 L726.0 1122.5 L728.0 1122.5 L730.0 1122.5 L732.0 1122.5 L734.0 1122.5 L736.0 1122.5 L738.0 1122.5 L740.0 1122.5 L742.0 1122.5 L744.0 1122.5 L746.0 1122.5 L748.0 1122.5 L750.0 1122.5 L752.0 1122.5 L754.0 1122.6 L756.0 1122.6 L758.0 1122.6 L760.0 1122.6 L762.0 1122.6 L764.0 1122.6 L766.0 1122.6 L768.0 1122.6 L770.0 1122.6 L772.0 1122.6 L774.0 1122.6 L776.0 1122.6 L778.0 1122.6 L780.0 1122.7 L782.0 1122.7 L784.0 1122.7 L786.0 1122.7 L788.0 1122.7 L790.0 1122.7" stroke="#a52a2a" stroke-width="5.6"/>
<path d="M126.0 1256.0 L128.0 1256.0 L130.0 1256.0 L132.0 1256.0 L134.0 1256.0 L136.0 1256.0 L138.0 1256.0 L140.0 1256.0 L142.0 1256.0 L144.0 1256.0 L146.0 1256.0 L148.0 1256.0 L150.0 1256.0 L152.0 1256.0 L154.0 1256.0 L156.0 1256.0 L158.0 1256.0 L160.0 1256.0 L162.0 1256.0 L164.0 1256.0 L166.0 1256.0 L168.0 1256.0 L170.0 1256.0 L172.0 1256.0 L174.0 1256.0 L176.0 1256.0 L178.0 1256.0 L180.0 1256.0 L182.0 1256.0 L184.0 1256.0 L186.0 1256.0 L188.0 1256.0 L190.0 1256.0 L192.0 1256.0 L194.0 1256.0 L196.0 1256.0 L198.0 1256.0 L200.0 1256.0 L202.0 1256.0 L204.0 1255.9 L206.0 1255.9 L208.0 1255.9 L210.0 1255.9 L212.0 1255.9 L214.0 1255.9 L216.0 1255.9 L218.0 1255.9 L220.0 1255.9 L222.0 1255.9 L224.0 1255.9 L226.0 1255.9 L228.0 1255.9 L230.0 1255.9 L232.0 1255.9 L234.0 1255.9 L236.0 1255.9 L238.0 1255.9 L240.0 1255.9 L242.0 1255.9 L244.0 1255.9 L246.0 1255.9 L248.0 1255.9 L250.0 1255.8 L252.0 1255.8 L254.0 1255.8 L256.0 1255.8 L258.0 1255.8 L260.0 1255.8 L262.0 1255.8 L264.0 1255.8 L266.0 1255.8 L268.0 1255.8 L270.0 1255.7 L272.0 1255.7 L274.0 1255.7 L276.0 1255.6 L278.0 1255.5 L280.0 1255.5 L282.0 1255.4 L284.0 1255.3 L286.0 1255.2 L288.0 1255.1 L290.0 1255.0 L292.0 1254.9 L294.0 1254.7 L296.0 1254.5 L298.0 1254.2 L300.0 1254.0 L302.0 1253.6 L304.0 1253.3 L306.0 1252.9 L308.0 1252.5 L310.0 1252.0 L312.0 1251.6 L314.0 1251.1 L316.0 1250.7 L318.0 1250.2 L320.0 1249.6 L322.0 1249.1 L324.0 1248.5 L326.0 1247.9 L328.0 1247.2 L330.0 1246.6 L332.0 1245.9 L334.0 1245.3 L336.0 1244.6 L338.0 1243.9 L340.0 1243.3 L342.0 1242.6 L344.0 1242.0 L346.0 1241.4 L348.0 1240.7 L350.0 1240.0 L352.0 1239.4 L354.0 1238.6 L356.0 1237.9 L358.0 1237.1 L360.0 1236.3 L362.0 1235.4 L364.0 1234.5 L366.0 1233.5 L368.0 1232.5 L370.0 1231.4 L372.0 1230.2 L374.0 1229.0 L376.0 1227.8 L378.0 1226.4 L380.0 1224.9 L382.0 1223.4 L384.0 1221.7 L386.0 1219.8 L388.0 1217.8 L390.0 1215.6 L392.0 1213.1 L394.0 1210.3 L396.0 1207.3 L398.0 1203.9 L400.0 1200.2 L402.0 1196.2 L404.0 1191.9 L406.0 1187.5 L408.0 1183.0 L410.0 1178.5 L412.0 1174.3 L414.0 1170.2 L416.0 1166.3 L418.0 1162.7 L420.0 1159.2 L422.0 1155.9 L424.0 1152.8 L426.0 1149.9 L428.0 1147.2 L430.0 1144.6 L432.0 1142.3 L434.0 1140.2 L436.0 1138.3 L438.0 1136.6 L440.0 1135.2 L442.0 1134.0 L444.0 1133.0 L446.0 1132.1 L448.0 1131.4 L450.0 1130.9 L452.0 1130.4 L454.0 1130.0 L456.0 1129.7 L458.0 1129.5 L460.0 1129.3 L462.0 1129.1 L464.0 1129.0 L466.0 1128.8 L468.0 1128.7 L470.0 1128.6 L472.0 1128.6 L474.0 1128.5 L476.0 1128.4 L478.0 1128.4 L480.0 1128.3 L482.0 1128.3 L484.0 1128.2 L486.0 1128.2 L488.0 1128.1 L490.0 1128.1 L492.0 1128.0 L494.0 1128.0 L496.0 1128.0 L498.0 1127.9 L500.0 1127.9 L502.0 1127.9 L504.0 1127.8 L506.0 1127.8 L508.0 1127.8 L510.0 1127.8 L512.0 1127.7 L514.0 1127.7 L516.0 1127.7 L518.0 1127.7 L520.0 1127.7 L522.0 1127.6 L524.0 1127.6 L526.0 1127.6 L528.0 1127.6 L530.0 1127.6 L532.0 1127.6 L534.0 1127.6 L536.0 1127.6 L538.0 1127.6 L540.0 1127.6 L542.0 1127.6 L544.0 1127.6 L546.0 1127.6 L548.0 1127.6 L550.0 1127.6 L552.0 1127.6 L554.0 1127.6 L556.0 1127.6 L558.0 1127.6 L560.0 1127.6 L562.0 1127.6 L564.0 1127.6 L566.0 1127.6 L568.0 1127.6 L570.0 1127.6 L572.0 1127.6 L574.0 1127.6 L576.0 1127.6 L578.0 1127.6 L580.0 1127.6 L582.0 1127.6 L584.0 1127.6 L586.0 1127.6 L588.0 1127.6 L590.0 1127.6 L592.0 1127.6 L594.0 1127.6 L596.0 1127.6 L598.0 1127.5 L600.0 1127.5 L602.0 1127.5 L604.0 1127.5 L606.0 1127.5 L608.0 1127.5 L610.0 1127.5 L612.0 1127.5 L614.0 1127.5 L616.0 1127.5 L618.0 1127.5 L620.0 1127.5 L622.0 1127.5 L624.0 1127.5 L626.0 1127.5 L628.0 1127.5 L630.0 1127.5 L632.0 1127.5 L634.0 1127.5 L636.0 1127.5 L638.0 1127.5 L640.0 1127.5 L642.0 1127.5 L644.0 1127.5 L646.0 1127.5 L648.0 1127.5 L650.0 1127.5 L652.0 1127.5 L654.0 1127.5 L656.0 1127.5 L658.0 1127.5 L660.0 1127.5 L662.0 1127.5 L664.0 1127.5 L666.0 1127.5 L668.0 1127.5 L670.0 1127.5 L672.0 1127.5 L674.0 1127.5 L676.0 1127.5 L678.0 1127.5 L680.0 1127.5 L682.0 1127.5 L684.0 1127.5 L686.0 1127.5 L688.0 1127.5 L690.0 1127.5 L692.0 1127.5 L694.0 1127.5 L696.0 1127.5 L698.0 1127.5 L700.0 1127.5 L702.0 1127.5 L704.0 1127.5 L706.0 1127.5 L708.0 1127.5 L710.0 1127.5 L712.0 1127.5 L714.0 1127.5 L716.0 1127.5 L718.0 1127.5 L720.0 1127.5 L722.0 1127.5 L724.0 1127.5 L726.0 1127.5 L728.0 1127.5 L730.0 1127.5 L732.0 1127.5 L734.0 1127.5 L736.0 1127.5 L738.0 1127.5 L740.0 1127.5 L742.0 1127.5 L744.0 1127.5 L746.0 1127.5 L748.0 1127.5 L750.0 1127.5 L752.0 1127.5 L754.0 1127.5 L756.0 1127.5 L758.0 1127.5 L760.0 1127.5 L762.0 1127.5 L764.0 1127.5 L766.0 1127.5 L768.0 1127.5 L770.0 1127.5 L772.0 1127.5 L774.0 1127.5 L776.0 1127.5 L778.0 1127.5 L780.0 1127.5 L782.0 1127.5 L784.0 1127.5 L786.0 1127.5 L788.0 1127.5 L790.0 1127.5" stroke="#ff0000" stroke-width="5.6"/>
<path d="M126.0 1256.0 L128.0 1256.0 L130.0 1256.0 L132.0 1256.0 L134.0 1256.0 L136.0 1256.0 L138.0 1256.0 L140.0 1256.0 L142.0 1256.0 L144.0 1256.0 L146.0 1256.0 L148.0 1256.0 L150.0 1256.0 L152.0 1256.0 L154.0 1256.0 L156.0 1256.0 L158.0 1256.0 L160.0 1256.0 L162.0 1256.0 L164.0 1256.0 L166.0 1256.0 L168.0 1256.0 L170.0 1256.0 L172.0 1256.0 L174.0 1256.0 L176.0 1256.0 L178.0 1255.9 L180.0 1255.9 L182.0 1255.9 L184.0 1255.9 L186.0 1255.9 L188.0 1255.9 L190.0 1255.9 L192.0 1255.9 L194.0 1255.9 L196.0 1255.9 L198.0 1255.9 L200.0 1255.9 L202.0 1255.9 L204.0 1255.9 L206.0 1255.9 L208.0 1255.9 L210.0 1255.8 L212.0 1255.8 L214.0 1255.8 L216.0 1255.8 L218.0 1255.8 L220.0 1255.8 L222.0 1255.8 L224.0 1255.8 L226.0 1255.8 L228.0 1255.8 L230.0 1255.7 L232.0 1255.7 L234.0 1255.7 L236.0 1255.7 L238.0 1255.7 L240.0 1255.7 L242.0 1255.7 L244.0 1255.6 L246.0 1255.6 L248.0 1255.6 L250.0 1255.6 L252.0 1255.5 L254.0 1255.4 L256.0 1255.3 L258.0 1255.2 L260.0 1255.1 L262.0 1254.9 L264.0 1254.7 L266.0 1254.5 L268.0 1254.2 L270.0 1254.0 L272.0 1253.7 L274.0 1253.4 L276.0 1253.1 L278.0 1252.7 L280.0 1252.2 L282.0 1251.7 L284.0 1251.2 L286.0 1250.6 L288.0 1250.0 L290.0 1249.3 L292.0 1248.6 L294.0 1247.8 L296.0 1246.9 L298.0 1245.9 L300.0 1244.8 L302.0 1243.5 L304.0 1242.2 L306.0 1240.8 L308.0 1239.3 L310.0 1237.8 L312.0 1236.1 L314.0 1234.4 L316.0 1232.6 L318.0 1230.7 L320.0 1228.7 L322.0 1226.7 L324.0 1224.5 L326.0 1222.4 L328.0 1220.2 L330.0 1217.9 L332.0 1215.6 L334.0 1213.2 L336.0 1210.8 L338.0 1208.3 L340.0 1205.7 L342.0 1203.0 L344.0 1200.2 L346.0 1197.3 L348.0 1194.3 L350.0 1191.1 L352.0 1187.8 L354.0 1184.4 L356.0 1180.8 L358.0 1177.2 L360.0 1173.4 L362.0 1169.4 L364.0 1165.3 L366.0 1161.1 L368.0 1156.7 L370.0 1152.1 L372.0 1147.2 L374.0 1142.1 L376.0 1136.7 L378.0 1131.0 L380.0 1125.0 L382.0 1118.6 L384.0 1111.7 L386.0 1104.4 L388.0 1096.5 L390.0 1088.1 L392.0 1079.2 L394.0 1069.9 L396.0 1060.3 L398.0 1050.5 L400.0 1040.9 L402.0 1031.6 L404.0 1022.9 L406.0 1014.9 L408.0 1007.6 L410.0 1000.9 L412.0 994.6 L414.0 988.6 L416.0 982.8 L418.0 977.1 L420.0 971.8 L422.0 966.8 L424.0 962.3 L426.0 958.3 L428.0 954.9 L430.0 951.9 L432.0 949.4 L434.0 947.4 L436.0 945.8 L438.0 944.5 L440.0 943.6 L442.0 942.9 L444.0 942.3 L446.0 941.8 L448.0 941.4 L450.0 941.0 L452.0 940.7 L454.0 940.5 L456.0 940.3 L458.0 940.1 L460.0 939.9 L462.0 939.8 L464.0 939.6 L466.0 939.5 L468.0 939.4 L470.0 939.3 L472.0 939.2 L474.0 939.1 L476.0 939.0 L478.0 939.0 L480.0 938.9 L482.0 938.9 L484.0 938.8 L486.0 938.8 L488.0 938.7 L490.0 938.7 L492.0 938.6 L494.0 938.6 L496.0 938.5 L498.0 938.5 L500.0 938.5 L502.0 938.4 L504.0 938.4 L506.0 938.3 L508.0 938.3 L510.0 938.3 L512.0 938.3 L514.0 938.2 L516.0 938.2 L518.0 938.2 L520.0 938.2 L522.0 938.2 L524.0 938.1 L526.0 938.1 L528.0 938.1 L530.0 938.1 L532.0 938.1 L534.0 938.1 L536.0 938.1 L538.0 938.1 L540.0 938.1 L542.0 938.1 L544.0 938.1 L546.0 938.1 L548.0 938.1 L550.0 938.1 L552.0 938.1 L554.0 938.1 L556.0 938.1 L558.0 938.1 L560.0 938.1 L562.0 938.0 L564.0 938.0 L566.0 938.0 L568.0 938.0 L570.0 938.0 L572.0 938.0 L574.0 938.0 L576.0 938.0 L578.0 938.0 L580.0 938.0 L582.0 938.0 L584.0 938.0 L586.0 938.0 L588.0 938.0 L590.0 938.0 L592.0 938.0 L594.0 938.0 L596.0 938.0 L598.0 938.0 L600.0 938.0 L602.0 938.0 L604.0 938.0 L606.0 938.0 L608.0 938.0 L610.0 938.0 L612.0 938.0 L614.0 938.0 L616.0 938.0 L618.0 938.0 L620.0 938.0 L622.0 938.0 L624.0 938.0 L626.0 938.0 L628.0 938.0 L630.0 938.0 L632.0 938.0 L634.0 938.0 L636.0 938.0 L638.0 938.0 L640.0 938.0 L642.0 938.0 L644.0 938.0 L646.0 938.0 L648.0 938.0 L650.0 937.9 L652.0 937.9 L654.0 937.9 L656.0 937.9 L658.0 937.9 L660.0 937.9 L662.0 937.9 L664.0 937.9 L666.0 937.9 L668.0 937.9 L670.0 937.9 L672.0 937.9 L674.0 937.9 L676.0 937.9 L678.0 937.9 L680.0 937.9 L682.0 937.9 L684.0 937.9 L686.0 937.9 L688.0 937.9 L690.0 937.9 L692.0 937.9 L694.0 937.9 L696.0 937.9 L698.0 937.9 L700.0 937.9 L702.0 937.9 L704.0 937.9 L706.0 937.9 L708.0 937.9 L710.0 937.9 L712.0 937.9 L714.0 937.9 L716.0 937.9 L718.0 937.9 L720.0 937.9 L722.0 937.9 L724.0 937.9 L726.0 937.9 L728.0 937.9 L730.0 937.9 L732.0 937.9 L734.0 937.9 L736.0 937.9 L738.0 937.9 L740.0 937.9 L742.0 937.9 L744.0 937.9 L746.0 937.9 L748.0 937.9 L750.0 937.9 L752.0 937.9 L754.0 937.9 L756.0 937.9 L758.0 937.9 L760.0 937.9 L762.0 937.9 L764.0 937.9 L766.0 937.9 L768.0 937.9 L770.0 937.9 L772.0 937.9 L774.0 937.9 L776.0 937.9 L778.0 937.9 L780.0 937.9 L782.0 937.9 L784.0 937.9 L786.0 937.9 L788.0 937.9 L790.0 937.9" stroke="#0000ff" stroke-width="5.6"/>
<path d="M126.0 1256.0 L128.0 1256.0 L130.0 1256.0 L132.0 1256.0 L134.0 1256.0 L136.0 1256.0 L138.0 1256.0 L140.0 1256.0 L142.0 1256.0 L144.0 1256.0 L146.0 1256.0 L148.0 1256.0 L150.0 1256.0 L152.0 1256.0 L154.0 1256.0 L156.0 1256.0 L158.0 1256.0 L160.0 1256.0 L162.0 1256.0 L164.0 1256.0 L166.0 1256.0 L168.0 1256.0 L170.0 1256.0 L172.0 1256.0 L174.0 1256.0 L176.0 1256.0 L178.0 1255.9 L180.0 1255.9 L182.0 1255.9 L184.0 1255.9 L186.0 1255.9 L188.0 1255.9 L190.0 1255.9 L192.0 1255.9 L194.0 1255.9 L196.0 1255.9 L198.0 1255.9 L200.0 1255.9 L202.0 1255.9 L204.0 1255.9 L206.0 1255.9 L208.0 1255.9 L210.0 1255.8 L212.0 1255.8 L214.0 1255.8 L216.0 1255.8 L218.0 1255.8 L220.0 1255.8 L222.0 1255.8 L224.0 1255.8 L226.0 1255.8 L228.0 1255.8 L230.0 1255.7 L232.0 1255.7 L234.0 1255.7 L236.0 1255.7 L238.0 1255.7 L240.0 1255.7 L242.0 1255.7 L244.0 1255.6 L246.0 1255.6 L248.0 1255.6 L250.0 1255.6 L252.0 1255.5 L254.0 1255.4 L256.0 1255.3 L258.0 1255.1 L260.0 1255.0 L262.0 1254.8 L264.0 1254.5 L266.0 1254.3 L268.0 1254.0 L270.0 1253.7 L272.0 1253.4 L274.0 1253.0 L276.0 1252.6 L278.0 1252.2 L280.0 1251.7 L282.0 1251.1 L284.0 1250.5 L286.0 1249.9 L288.0 1249.2 L290.0 1248.4 L292.0 1247.6 L294.0 1246.6 L296.0 1245.5 L298.0 1244.4 L300.0 1243.1 L302.0 1241.7 L304.0 1240.3 L306.0 1238.7 L308.0 1237.1 L310.0 1235.5 L312.0 1233.7 L314.0 1231.9 L316.0 1229.9 L318.0 1227.9 L320.0 1225.8 L322.0 1223.7 L324.0 1221.5 L326.0 1219.2 L328.0 1217.0 L330.0 1214.6 L332.0 1212.3 L334.0 1209.8 L336.0 1207.3 L338.0 1204.6 L340.0 1201.9 L342.0 1199.1 L344.0 1196.1 L346.0 1193.1 L348.0 1189.9 L350.0 1186.6 L352.0 1183.2 L354.0 1179.7 L356.0 1176.0 L358.0 1172.3 L360.0 1168.4 L362.0 1164.5 L364.0 1160.4 L366.0 1156.1 L368.0 1151.6 L370.0 1147.0 L372.0 1142.2 L374.0 1137.1 L376.0 1131.7 L378.0 1126.1 L380.0 1120.2 L382.0 1113.8 L384.0 1107.0 L386.0 1099.8 L388.0 1092.1 L390.0 1084.2 L392.0 1076.2 L394.0 1068.5 L396.0 1061.2 L398.0 1054.4 L400.0 1048.1 L402.0 1042.3 L404.0 1037.0 L406.0 1032.0 L408.0 1027.5 L410.0 1023.3 L412.0 1019.4 L414.0 1015.8 L416.0 1012.4 L418.0 1009.2 L420.0 1006.4 L422.0 1003.8 L424.0 1001.4 L426.0 999.4 L428.0 997.6 L430.0 996.0 L432.0 994.6 L434.0 993.3 L436.0 992.2 L438.0 991.1 L440.0 990.3 L442.0 989.5 L444.0 988.8 L446.0 988.2 L448.0 987.8 L450.0 987.4 L452.0 987.0 L454.0 986.7 L456.0 986.4 L458.0 986.2 L460.0 985.9 L462.0 985.7 L464.0 985.5 L466.0 985.3 L468.0 985.1 L470.0 984.9 L472.0 984.7 L474.0 984.6 L476.0 984.4 L478.0 984.3 L480.0 984.2 L482.0 984.1 L484.0 984.1 L486.0 984.0 L488.0 984.0 L490.0 983.9 L492.0 983.8 L494.0 983.8 L496.0 983.7 L498.0 983.7 L500.0 983.7 L502.0 983.6 L504.0 983.6 L506.0 983.5 L508.0 983.5 L510.0 983.5 L512.0 983.4 L514.0 983.4 L516.0 983.4 L518.0 983.4 L520.0 983.3 L522.0 983.3 L524.0 983.3 L526.0 983.3 L528.0 983.2 L530.0 983.2 L532.0 983.2 L534.0 983.2 L536.0 983.2 L538.0 983.1 L540.0 983.1 L542.0 983.1 L544.0 983.1 L546.0 983.1 L548.0 983.1 L550.0 983.1 L552.0 983.0 L554.0 983.0 L556.0 983.0 L558.0 983.0 L560.0 983.0 L562.0 983.0 L564.0 983.0 L566.0 982.9 L568.0 982.9 L570.0 982.9 L572.0 982.9 L574.0 982.9 L576.0 982.9 L578.0 982.9 L580.0 982.9 L582.0 982.9 L584.0 982.9 L586.0 982.8 L588.0 982.8 L590.0 982.8 L592.0 982.8 L594.0 982.8 L596.0 982.8 L598.0 982.8 L600.0 982.8 L602.0 982.8 L604.0 982.8 L606.0 982.8 L608.0 982.8 L610.0 982.8 L612.0 982.8 L614.0 982.8 L616.0 982.8 L618.0 982.8 L620.0 982.7 L622.0 982.7 L624.0 982.7 L626.0 982.7 L628.0 982.7 L630.0 982.7 L632.0 982.7 L634.0 982.7 L636.0 982.7 L638.0 982.7 L640.0 982.7 L642.0 982.7 L644.0 982.7 L646.0 982.7 L648.0 982.7 L650.0 982.7 L652.0 982.7 L654.0 982.7 L656.0 982.7 L658.0 982.7 L660.0 982.7 L662.0 982.6 L664.0 982.6 L666.0 982.6 L668.0 982.6 L670.0 982.6 L672.0 982.6 L674.0 982.6 L676.0 982.6 L678.0 982.6 L680.0 982.6 L682.0 982.6 L684.0 982.6 L686.0 982.6 L688.0 982.6 L690.0 982.6 L692.0 982.6 L694.0 982.6 L696.0 982.6 L698.0 982.6 L700.0 982.6 L702.0 982.6 L704.0 982.6 L706.0 982.6 L708.0 982.6 L710.0 982.6 L712.0 982.6 L714.0 982.6 L716.0 982.6 L718.0 982.6 L720.0 982.5 L722.0 982.5 L724.0 982.5 L726.0 982.5 L728.0 982.5 L730.0 982.5 L732.0 982.5 L734.0 982.5 L736.0 982.5 L738.0 982.5 L740.0 982.5 L742.0 982.5 L744.0 982.5 L746.0 982.5 L748.0 982.5 L750.0 982.5 L752.0 982.5 L754.0 982.5 L756.0 982.5 L758.0 982.5 L760.0 982.5 L762.0 982.5 L764.0 982.5 L766.0 982.5 L768.0 982.5 L770.0 982.5 L772.0 982.5 L774.0 982.5 L776.0 982.5 L778.0 982.5 L780.0 982.5 L782.0 982.5 L784.0 982.5 L786.0 982.5 L788.0 982.5 L790.0 982.5" stroke="#ffa500" stroke-width="5.6" stroke-dasharray="24 9.75 3.35 9.75 3.35 9.75"/>
<path d="M126.0 1256.0 L128.0 1256.0 L130.0 1256.0 L132.0 1256.0 L134.0 1256.0 L136.0 1256.0 L138.0 1256.0 L140.0 1256.0 L142.0 1256.0 L144.0 1256.0 L146.0 1256.0 L148.0 1256.0 L150.0 1256.0 L152.0 1256.0 L154.0 1256.0 L156.0 1256.0 L158.0 1256.0 L160.0 1256.0 L162.0 1256.0 L164.0 1256.0 L166.0 1256.0 L168.0 1256.0 L170.0 1256.0 L172.0 1256.0 L174.0 1255.9 L176.0 1255.9 L178.0 1255.9 L180.0 1255.9 L182.0 1255.9 L184.0 1255.9 L186.0 1255.9 L188.0 1255.9 L190.0 1255.9 L192.0 1255.9 L194.0 1255.9 L196.0 1255.9 L198.0 1255.9 L200.0 1255.9 L202.0 1255.9 L204.0 1255.9 L206.0 1255.8 L208.0 1255.8 L210.0 1255.8 L212.0 1255.8 L214.0 1255.8 L216.0 1255.8 L218.0 1255.8 L220.0 1255.8 L222.0 1255.8 L224.0 1255.8 L226.0 1255.8 L228.0 1255.7 L230.0 1255.7 L232.0 1255.7 L234.0 1255.7 L236.0 1255.7 L238.0 1255.7 L240.0 1255.7 L242.0 1255.7 L244.0 1255.6 L246.0 1255.6 L248.0 1255.6 L250.0 1255.6 L252.0 1255.6 L254.0 1255.5 L256.0 1255.5 L258.0 1255.5 L260.0 1255.4 L262.0 1255.3 L264.0 1255.3 L266.0 1255.2 L268.0 1255.1 L270.0 1255.0 L272.0 1254.9 L274.0 1254.8 L276.0 1254.7 L278.0 1254.5 L280.0 1254.4 L282.0 1254.2 L284.0 1253.9 L286.0 1253.7 L288.0 1253.4 L290.0 1253.0 L292.0 1252.7 L294.0 1252.3 L296.0 1251.8 L298.0 1251.3 L300.0 1250.7 L302.0 1250.1 L304.0 1249.5 L306.0 1248.8 L308.0 1248.2 L310.0 1247.5 L312.0 1246.8 L314.0 1246.1 L316.0 1245.4 L318.0 1244.7 L320.0 1243.9 L322.0 1243.1 L324.0 1242.3 L326.0 1241.5 L328.0 1240.6 L330.0 1239.7 L332.0 1238.7 L334.0 1237.8 L336.0 1236.8 L338.0 1235.7 L340.0 1234.7 L342.0 1233.7 L344.0 1232.6 L346.0 1231.6 L348.0 1230.5 L350.0 1229.5 L352.0 1228.5 L354.0 1227.4 L356.0 1226.3 L358.0 1225.2 L360.0 1224.0 L362.0 1222.7 L364.0 1221.2 L366.0 1219.6 L368.0 1217.8 L370.0 1215.8 L372.0 1213.6 L374.0 1211.2 L376.0 1208.7 L378.0 1206.0 L380.0 1203.1 L382.0 1200.1 L384.0 1196.9 L386.0 1193.4 L388.0 1189.7 L390.0 1185.8 L392.0 1181.4 L394.0 1176.8 L396.0 1171.7 L398.0 1166.4 L400.0 1160.8 L402.0 1155.1 L404.0 1149.3 L406.0 1143.3 L408.0 1137.3 L410.0 1131.3 L412.0 1125.3 L414.0 1119.3 L416.0 1113.5 L418.0 1107.7 L420.0 1102.1 L422.0 1096.8 L424.0 1091.8 L426.0 1087.3 L428.0 1083.2 L430.0 1079.5 L432.0 1076.4 L434.0 1073.6 L436.0 1071.3 L438.0 1069.4 L440.0 1067.8 L442.0 1066.5 L444.0 1065.5 L446.0 1064.7 L448.0 1064.0 L450.0 1063.4 L452.0 1062.9 L454.0 1062.5 L456.0 1062.1 L458.0 1061.8 L460.0 1061.6 L462.0 1061.3 L464.0 1061.2 L466.0 1061.0 L468.0 1060.8 L470.0 1060.7 L472.0 1060.6 L474.0 1060.4 L476.0 1060.4 L478.0 1060.3 L480.0 1060.2 L482.0 1060.2 L484.0 1060.1 L486.0 1060.1 L488.0 1060.0 L490.0 1060.0 L492.0 1060.0 L494.0 1059.9 L496.0 1059.9 L498.0 1059.9 L500.0 1059.8 L502.0 1059.8 L504.0 1059.8 L506.0 1059.8 L508.0 1059.7 L510.0 1059.7 L512.0 1059.7 L514.0 1059.7 L516.0 1059.7 L518.0 1059.7 L520.0 1059.6 L522.0 1059.6 L524.0 1059.6 L526.0 1059.6 L528.0 1059.6 L530.0 1059.6 L532.0 1059.6 L534.0 1059.6 L536.0 1059.6 L538.0 1059.6 L540.0 1059.6 L542.0 1059.6 L544.0 1059.6 L546.0 1059.6 L548.0 1059.6 L550.0 1059.6 L552.0 1059.6 L554.0 1059.6 L556.0 1059.6 L558.0 1059.6 L560.0 1059.6 L562.0 1059.6 L564.0 1059.5 L566.0 1059.5 L568.0 1059.5 L570.0 1059.5 L572.0 1059.5 L574.0 1059.5 L576.0 1059.5 L578.0 1059.5 L580.0 1059.5 L582.0 1059.5 L584.0 1059.5 L586.0 1059.5 L588.0 1059.5 L590.0 1059.5 L592.0 1059.5 L594.0 1059.5 L596.0 1059.5 L598.0 1059.5 L600.0 1059.5 L602.0 1059.5 L604.0 1059.5 L606.0 1059.5 L608.0 1059.5 L610.0 1059.5 L612.0 1059.5 L614.0 1059.5 L616.0 1059.5 L618.0 1059.5 L620.0 1059.5 L622.0 1059.5 L624.0 1059.5 L626.0 1059.5 L628.0 1059.5 L630.0 1059.5 L632.0 1059.5 L634.0 1059.5 L636.0 1059.5 L638.0 1059.5 L640.0 1059.5 L642.0 1059.5 L644.0 1059.5 L646.0 1059.5 L648.0 1059.5 L650.0 1059.5 L652.0 1059.4 L654.0 1059.4 L656.0 1059.4 L658.0 1059.4 L660.0 1059.4 L662.0 1059.4 L664.0 1059.4 L666.0 1059.4 L668.0 1059.4 L670.0 1059.4 L672.0 1059.4 L674.0 1059.4 L676.0 1059.4 L678.0 1059.4 L680.0 1059.4 L682.0 1059.4 L684.0 1059.4 L686.0 1059.4 L688.0 1059.4 L690.0 1059.4 L692.0 1059.4 L694.0 1059.4 L696.0 1059.4 L698.0 1059.4 L700.0 1059.4 L702.0 1059.4 L704.0 1059.4 L706.0 1059.4 L708.0 1059.4 L710.0 1059.4 L712.0 1059.4 L714.0 1059.4 L716.0 1059.4 L718.0 1059.4 L720.0 1059.4 L722.0 1059.4 L724.0 1059.4 L726.0 1059.4 L728.0 1059.4 L730.0 1059.4 L732.0 1059.4 L734.0 1059.4 L736.0 1059.4 L738.0 1059.4 L740.0 1059.4 L742.0 1059.4 L744.0 1059.4 L746.0 1059.4 L748.0 1059.4 L750.0 1059.4 L752.0 1059.4 L754.0 1059.4 L756.0 1059.4 L758.0 1059.4 L760.0 1059.4 L762.0 1059.4 L764.0 1059.4 L766.0 1059.4 L768.0 1059.4 L770.0 1059.4 L772.0 1059.4 L774.0 1059.4 L776.0 1059.4 L778.0 1059.4 L780.0 1059.4 L782.0 1059.4 L784.0 1059.4 L786.0 1059.4 L788.0 1059.4 L790.0 1059.4" stroke="#00ffff" stroke-width="5.6" stroke-dasharray="24 9.75 3.35 9.75 3.35 9.75"/>
<path d="M126.0 1256.0 L128.0 1256.0 L130.0 1256.0 L132.0 1256.0 L134.0 1256.0 L136.0 1256.0 L138.0 1256.0 L140.0 1256.0 L142.0 1256.0 L144.0 1256.0 L146.0 1256.0 L148.0 1256.0 L150.0 1256.0 L152.0 1256.0 L154.0 1256.0 L156.0 1256.0 L158.0 1256.0 L160.0 1256.0 L162.0 1256.0 L164.0 1256.0 L166.0 1256.0 L168.0 1256.0 L170.0 1256.0 L172.0 1256.0 L174.0 1256.0 L176.0 1256.0 L178.0 1256.0 L180.0 1256.0 L182.0 1256.0 L184.0 1256.0 L186.0 1256.0 L188.0 1256.0 L190.0 1256.0 L192.0 1256.0 L194.0 1256.0 L196.0 1256.0 L198.0 1256.0 L200.0 1256.0 L202.0 1256.0 L204.0 1255.9 L206.0 1255.9 L208.0 1255.9 L210.0 1255.9 L212.0 1255.9 L214.0 1255.9 L216.0 1255.9 L218.0 1255.9 L220.0 1255.9 L222.0 1255.9 L224.0 1255.9 L226.0 1255.9 L228.0 1255.9 L230.0 1255.9 L232.0 1255.9 L234.0 1255.9 L236.0 1255.9 L238.0 1255.9 L240.0 1255.9 L242.0 1255.9 L244.0 1255.9 L246.0 1255.9 L248.0 1255.9 L250.0 1255.8 L252.0 1255.8 L254.0 1255.8 L256.0 1255.8 L258.0 1255.8 L260.0 1255.8 L262.0 1255.8 L264.0 1255.8 L266.0 1255.8 L268.0 1255.8 L270.0 1255.7 L272.0 1255.7 L274.0 1255.7 L276.0 1255.6 L278.0 1255.5 L280.0 1255.5 L282.0 1255.4 L284.0 1255.3 L286.0 1255.2 L288.0 1255.1 L290.0 1255.0 L292.0 1254.9 L294.0 1254.7 L296.0 1254.5 L298.0 1254.2 L300.0 1254.0 L302.0 1253.6 L304.0 1253.3 L306.0 1252.9 L308.0 1252.5 L310.0 1252.0 L312.0 1251.6 L314.0 1251.1 L316.0 1250.7 L318.0 1250.2 L320.0 1249.6 L322.0 1249.1 L324.0 1248.5 L326.0 1247.9 L328.0 1247.2 L330.0 1246.6 L332.0 1245.9 L334.0 1245.3 L336.0 1244.6 L338.0 1243.9 L340.0 1243.3 L342.0 1242.6 L344.0 1242.0 L346.0 1241.4 L348.0 1240.7 L350.0 1240.0 L352.0 1239.4 L354.0 1238.6 L356.0 1237.9 L358.0 1237.1 L360.0 1236.3 L362.0 1235.4 L364.0 1234.5 L366.0 1233.5 L368.0 1232.5 L370.0 1231.4 L372.0 1230.2 L374.0 1229.0 L376.0 1227.8 L378.0 1226.4 L380.0 1224.9 L382.0 1223.4 L384.0 1221.7 L386.0 1219.8 L388.0 1217.8 L390.0 1215.6 L392.0 1213.1 L394.0 1210.3 L396.0 1207.3 L398.0 1203.9 L400.0 1200.2 L402.0 1196.2 L404.0 1191.9 L406.0 1187.5 L408.0 1183.0 L410.0 1178.5 L412.0 1174.3 L414.0 1170.2 L416.0 1166.3 L418.0 1162.7 L420.0 1159.2 L422.0 1155.9 L424.0 1152.8 L426.0 1149.9 L428.0 1147.1 L430.0 1144.6 L432.0 1142.3 L434.0 1140.1 L436.0 1138.2 L438.0 1136.5 L440.0 1135.2 L442.0 1134.2 L444.0 1133.4 L446.0 1132.7 L448.0 1132.2 L450.0 1131.8 L452.0 1131.5 L454.0 1131.3 L456.0 1131.1 L458.0 1130.9 L460.0 1130.8 L462.0 1130.7 L464.0 1130.6 L466.0 1130.5 L468.0 1130.4 L470.0 1130.4 L472.0 1130.3 L474.0 1130.3 L476.0 1130.3 L478.0 1130.2 L480.0 1130.2 L482.0 1130.2 L484.0 1130.2 L486.0 1130.2 L488.0 1130.2 L490.0 1130.2 L492.0 1130.2 L494.0 1130.2 L496.0 1130.1 L498.0 1130.1 L500.0 1130.1 L502.0 1130.1 L504.0 1130.1 L506.0 1130.1 L508.0 1130.1 L510.0 1130.1 L512.0 1130.1 L514.0 1130.1 L516.0 1130.1 L518.0 1130.1 L520.0 1130.1 L522.0 1130.1 L524.0 1130.1 L526.0 1130.1 L528.0 1130.1 L530.0 1130.1 L532.0 1130.1 L534.0 1130.1 L536.0 1130.1 L538.0 1130.1 L540.0 1130.1 L542.0 1130.1 L544.0 1130.1 L546.0 1130.1 L548.0 1130.1 L550.0 1130.1 L552.0 1130.1 L554.0 1130.1 L556.0 1130.1 L558.0 1130.1 L560.0 1130.1 L562.0 1130.1 L564.0 1130.1 L566.0 1130.1 L568.0 1130.1 L570.0 1130.1 L572.0 1130.1 L574.0 1130.1 L576.0 1130.1 L578.0 1130.1 L580.0 1130.1 L582.0 1130.1 L584.0 1130.1 L586.0 1130.1 L588.0 1130.1 L590.0 1130.1 L592.0 1130.1 L594.0 1130.1 L596.0 1130.1 L598.0 1130.1 L600.0 1130.1 L602.0 1130.1 L604.0 1130.1 L606.0 1130.1 L608.0 1130.1 L610.0 1130.1 L612.0 1130.1 L614.0 1130.1 L616.0 1130.1 L618.0 1130.1 L620.0 1130.1 L622.0 1130.1 L624.0 1130.1 L626.0 1130.1 L628.0 1130.1 L630.0 1130.1 L632.0 1130.1 L634.0 1130.1 L636.0 1130.1 L638.0 1130.1 L640.0 1130.1 L642.0 1130.1 L644.0 1130.1 L646.0 1130.1 L648.0 1130.1 L650.0 1130.1 L652.0 1130.1 L654.0 1130.1 L656.0 1130.1 L658.0 1130.1 L660.0 1130.1 L662.0 1130.1 L664.0 1130.1 L666.0 1130.1 L668.0 1130.1 L670.0 1130.1 L672.0 1130.1 L674.0 1130.1 L676.0 1130.1 L678.0 1130.1 L680.0 1130.1 L682.0 1130.1 L684.0 1130.1 L686.0 1130.1 L688.0 1130.1 L690.0 1130.1 L692.0 1130.1 L694.0 1130.1 L696.0 1130.1 L698.0 1130.1 L700.0 1130.1 L702.0 1130.1 L704.0 1130.1 L706.0 1130.1 L708.0 1130.1 L710.0 1130.1 L712.0 1130.1 L714.0 1130.1 L716.0 1130.1 L718.0 1130.1 L720.0 1130.1 L722.0 1130.1 L724.0 1130.1 L726.0 1130.1 L728.0 1130.1 L730.0 1130.1 L732.0 1130.1 L734.0 1130.1 L736.0 1130.1 L738.0 1130.1 L740.0 1130.1 L742.0 1130.1 L744.0 1130.1 L746.0 1130.1 L748.0 1130.1 L750.0 1130.1 L752.0 1130.1 L754.0 1130.1 L756.0 1130.1 L758.0 1130.1 L760.0 1130.1 L762.0 1130.1 L764.0 1130.1 L766.0 1130.1 L768.0 1130.1 L770.0 1130.1 L772.0 1130.1 L774.0 1130.1 L776.0 1130.1 L778.0 1130.1 L780.0 1130.1 L782.0 1130.1 L784.0 1130.1 L786.0 1130.1 L788.0 1130.1 L790.0 1130.1" stroke="#ffbfbf" stroke-width="5.6" stroke-dasharray="13.2 20.4"/>
<path d="M126.0 1256.0 L128.0 1256.0 L130.0 1256.0 L132.0 1256.0 L134.0 1256.0 L136.0 1256.0 L138.0 1256.0 L140.0 1256.0 L142.0 1256.0 L144.0 1256.0 L146.0 1256.0 L148.0 1256.0 L150.0 1256.0 L152.0 1256.0 L154.0 1256.0 L156.0 1256.0 L158.0 1256.0 L160.0 1256.0 L162.0 1256.0 L164.0 1256.0 L166.0 1256.0 L168.0 1256.0 L170.0 1256.0 L172.0 1256.0 L174.0 1256.0 L176.0 1256.0 L178.0 1255.9 L180.0 1255.9 L182.0 1255.9 L184.0 1255.9 L186.0 1255.9 L188.0 1255.9 L190.0 1255.9 L192.0 1255.9 L194.0 1255.9 L196.0 1255.9 L198.0 1255.9 L200.0 1255.9 L202.0 1255.9 L204.0 1255.9 L206.0 1255.9 L208.0 1255.9 L210.0 1255.8 L212.0 1255.8 L214.0 1255.8 L216.0 1255.8 L218.0 1255.8 L220.0 1255.8 L222.0 1255.8 L224.0 1255.8 L226.0 1255.8 L228.0 1255.8 L230.0 1255.7 L232.0 1255.7 L234.0 1255.7 L236.0 1255.7 L238.0 1255.7 L240.0 1255.7 L242.0 1255.7 L244.0 1255.6 L246.0 1255.6 L248.0 1255.6 L250.0 1255.6 L252.0 1255.5 L254.0 1255.4 L256.0 1255.3 L258.0 1255.2 L260.0 1255.1 L262.0 1254.9 L264.0 1254.7 L266.0 1254.5 L268.0 1254.2 L270.0 1254.0 L272.0 1253.7 L274.0 1253.4 L276.0 1253.1 L278.0 1252.7 L280.0 1252.2 L282.0 1251.7 L284.0 1251.2 L286.0 1250.6 L288.0 1250.0 L290.0 1249.3 L292.0 1248.6 L294.0 1247.8 L296.0 1246.9 L298.0 1245.9 L300.0 1244.8 L302.0 1243.5 L304.0 1242.2 L306.0 1240.8 L308.0 1239.3 L310.0 1237.8 L312.0 1236.1 L314.0 1234.4 L316.0 1232.6 L318.0 1230.7 L320.0 1228.7 L322.0 1226.7 L324.0 1224.5 L326.0 1222.4 L328.0 1220.2 L330.0 1217.9 L332.0 1215.6 L334.0 1213.2 L336.0 1210.8 L338.0 1208.3 L340.0 1205.7 L342.0 1203.0 L344.0 1200.2 L346.0 1197.3 L348.0 1194.3 L350.0 1191.1 L352.0 1187.8 L354.0 1184.4 L356.0 1180.8 L358.0 1177.2 L360.0 1173.4 L362.0 1169.4 L364.0 1165.3 L366.0 1161.1 L368.0 1156.7 L370.0 1152.1 L372.0 1147.2 L374.0 1142.1 L376.0 1136.7 L378.0 1131.0 L380.0 1125.0 L382.0 1118.6 L384.0 1111.7 L386.0 1104.4 L388.0 1096.5 L390.0 1088.1 L392.0 1079.2 L394.0 1069.9 L396.0 1060.3 L398.0 1050.5 L400.0 1040.9 L402.0 1031.6 L404.0 1022.9 L406.0 1014.9 L408.0 1007.6 L410.0 1000.9 L412.0 994.6 L414.0 988.6 L416.0 982.8 L418.0 977.1 L420.0 971.8 L422.0 966.8 L424.0 962.3 L426.0 958.4 L428.0 954.9 L430.0 952.0 L432.0 949.5 L434.0 947.4 L436.0 945.8 L438.0 944.5 L440.0 943.5 L442.0 942.6 L444.0 942.0 L446.0 941.4 L448.0 940.9 L450.0 940.5 L452.0 940.2 L454.0 939.9 L456.0 939.6 L458.0 939.4 L460.0 939.2 L462.0 939.0 L464.0 938.9 L466.0 938.7 L468.0 938.6 L470.0 938.5 L472.0 938.3 L474.0 938.2 L476.0 938.2 L478.0 938.1 L480.0 938.0 L482.0 937.9 L484.0 937.9 L486.0 937.8 L488.0 937.8 L490.0 937.7 L492.0 937.7 L494.0 937.6 L496.0 937.6 L498.0 937.5 L500.0 937.5 L502.0 937.4 L504.0 937.4 L506.0 937.4 L508.0 937.3 L510.0 937.3 L512.0 937.3 L514.0 937.2 L516.0 937.2 L518.0 937.2 L520.0 937.2 L522.0 937.2 L524.0 937.1 L526.0 937.1 L528.0 937.1 L530.0 937.1 L532.0 937.1 L534.0 937.1 L536.0 937.1 L538.0 937.1 L540.0 937.1 L542.0 937.1 L544.0 937.1 L546.0 937.1 L548.0 937.1 L550.0 937.1 L552.0 937.1 L554.0 937.1 L556.0 937.1 L558.0 937.1 L560.0 937.1 L562.0 937.0 L564.0 937.0 L566.0 937.0 L568.0 937.0 L570.0 937.0 L572.0 937.0 L574.0 937.0 L576.0 937.0 L578.0 937.0 L580.0 937.0 L582.0 937.0 L584.0 937.0 L586.0 937.0 L588.0 937.0 L590.0 937.0 L592.0 937.0 L594.0 937.0 L596.0 937.0 L598.0 937.0 L600.0 937.0 L602.0 937.0 L604.0 937.0 L606.0 937.0 L608.0 937.0 L610.0 937.0 L612.0 937.0 L614.0 937.0 L616.0 937.0 L618.0 937.0 L620.0 937.0 L622.0 937.0 L624.0 937.0 L626.0 937.0 L628.0 937.0 L630.0 937.0 L632.0 937.0 L634.0 937.0 L636.0 937.0 L638.0 937.0 L640.0 937.0 L642.0 937.0 L644.0 937.0 L646.0 937.0 L648.0 936.9 L650.0 936.9 L652.0 936.9 L654.0 936.9 L656.0 936.9 L658.0 936.9 L660.0 936.9 L662.0 936.9 L664.0 936.9 L666.0 936.9 L668.0 936.9 L670.0 936.9 L672.0 936.9 L674.0 936.9 L676.0 936.9 L678.0 936.9 L680.0 936.9 L682.0 936.9 L684.0 936.9 L686.0 936.9 L688.0 936.9 L690.0 936.9 L692.0 936.9 L694.0 936.9 L696.0 936.9 L698.0 936.9 L700.0 936.9 L702.0 936.9 L704.0 936.9 L706.0 936.9 L708.0 936.9 L710.0 936.9 L712.0 936.9 L714.0 936.9 L716.0 936.9 L718.0 936.9 L720.0 936.9 L722.0 936.9 L724.0 936.9 L726.0 936.9 L728.0 936.9 L730.0 936.9 L732.0 936.9 L734.0 936.9 L736.0 936.9 L738.0 936.9 L740.0 936.9 L742.0 936.9 L744.0 936.9 L746.0 936.9 L748.0 936.9 L750.0 936.9 L752.0 936.9 L754.0 936.9 L756.0 936.9 L758.0 936.9 L760.0 936.9 L762.0 936.9 L764.0 936.9 L766.0 936.9 L768.0 936.9 L770.0 936.9 L772.0 936.9 L774.0 936.9 L776.0 936.9 L778.0 936.9 L780.0 936.9 L782.0 936.9 L784.0 936.9 L786.0 936.9 L788.0 936.9 L790.0 936.9" stroke="#ee82ee" stroke-width="5.6" stroke-dasharray="13.2 20.4"/>
<path d="M126.0 1256.0 L128.0 1256.0 L130.0 1256.0 L132.0 1256.0 L134.0 1256.0 L136.0 1256.0 L138.0 1256.0 L140.0 1256.0 L142.0 1256.0 L144.0 1256.0 L146.0 1256.0 L148.0 1256.0 L150.0 1256.0 L152.0 1256.0 L154.0 1256.0 L156.0 1256.0 L158.0 1256.0 L160.0 1256.0 L162.0 1256.0 L164.0 1256.0 L166.0 1256.0 L168.0 1256.0 L170.0 1256.0 L172.0 1256.0 L174.0 1256.0 L176.0 1256.0 L178.0 1256.0 L180.0 1255.9 L182.0 1255.9 L184.0 1255.9 L186.0 1255.9 L188.0 1255.9 L190.0 1255.9 L192.0 1255.9 L194.0 1255.9 L196.0 1255.9 L198.0 1255.9 L200.0 1255.9 L202.0 1255.9 L204.0 1255.9 L206.0 1255.9 L208.0 1255.9 L210.0 1255.8 L212.0 1255.8 L214.0 1255.8 L216.0 1255.8 L218.0 1255.8 L220.0 1255.8 L222.0 1255.8 L224.0 1255.8 L226.0 1255.8 L228.0 1255.8 L230.0 1255.7 L232.0 1255.7 L234.0 1255.7 L236.0 1255.7 L238.0 1255.7 L240.0 1255.7 L242.0 1255.7 L244.0 1255.6 L246.0 1255.6 L248.0 1255.6 L250.0 1255.5 L252.0 1255.5 L254.0 1255.4 L256.0 1255.2 L258.0 1255.1 L260.0 1254.8 L262.0 1254.6 L264.0 1254.3 L266.0 1253.9 L268.0 1253.5 L270.0 1252.9 L272.0 1252.3 L274.0 1251.5 L276.0 1250.6 L278.0 1249.7 L280.0 1248.6 L282.0 1247.5 L284.0 1246.4 L286.0 1245.2 L288.0 1243.9 L290.0 1242.5 L292.0 1241.1 L294.0 1239.6 L296.0 1238.1 L298.0 1236.4 L300.0 1234.8 L302.0 1233.0 L304.0 1231.2 L306.0 1229.4 L308.0 1227.4 L310.0 1225.5 L312.0 1223.4 L314.0 1221.4 L316.0 1219.3 L318.0 1217.3 L320.0 1215.2 L322.0 1213.2 L324.0 1211.1 L326.0 1209.1 L328.0 1207.1 L330.0 1205.1 L332.0 1203.1 L334.0 1201.2 L336.0 1199.3 L338.0 1197.4 L340.0 1195.6 L342.0 1193.9 L344.0 1192.1 L346.0 1190.4 L348.0 1188.7 L350.0 1186.9 L352.0 1185.0 L354.0 1183.1 L356.0 1181.1 L358.0 1178.9 L360.0 1176.7 L362.0 1174.5 L364.0 1172.2 L366.0 1169.9 L368.0 1167.7 L370.0 1165.5 L372.0 1163.4 L374.0 1161.4 L376.0 1159.5 L378.0 1157.6 L380.0 1155.7 L382.0 1153.7 L384.0 1151.6 L386.0 1149.3 L388.0 1146.7 L390.0 1143.7 L392.0 1140.4 L394.0 1136.7 L396.0 1132.7 L398.0 1128.5 L400.0 1124.3 L402.0 1120.1 L404.0 1116.0 L406.0 1111.9 L408.0 1107.8 L410.0 1103.8 L412.0 1099.9 L414.0 1096.0 L416.0 1092.3 L418.0 1088.6 L420.0 1085.0 L422.0 1081.6 L424.0 1078.5 L426.0 1075.6 L428.0 1073.0 L430.0 1070.7 L432.0 1068.7 L434.0 1066.9 L436.0 1065.3 L438.0 1063.8 L440.0 1062.5 L442.0 1061.4 L444.0 1060.4 L446.0 1059.4 L448.0 1058.6 L450.0 1057.8 L452.0 1057.1 L454.0 1056.5 L456.0 1055.9 L458.0 1055.4 L460.0 1054.9 L462.0 1054.4 L464.0 1054.0 L466.0 1053.6 L468.0 1053.2 L470.0 1052.9 L472.0 1052.6 L474.0 1052.3 L476.0 1052.1 L478.0 1051.9 L480.0 1051.7 L482.0 1051.6 L484.0 1051.5 L486.0 1051.4 L488.0 1051.3 L490.0 1051.2 L492.0 1051.1 L494.0 1051.0 L496.0 1050.9 L498.0 1050.8 L500.0 1050.7 L502.0 1050.6 L504.0 1050.5 L506.0 1050.5 L508.0 1050.4 L510.0 1050.4 L512.0 1050.3 L514.0 1050.2 L516.0 1050.2 L518.0 1050.2 L520.0 1050.1 L522.0 1050.1 L524.0 1050.1 L526.0 1050.0 L528.0 1050.0 L530.0 1050.0 L532.0 1050.0 L534.0 1050.0 L536.0 1050.0 L538.0 1050.0 L540.0 1050.0 L542.0 1050.0 L544.0 1050.0 L546.0 1050.0 L548.0 1050.0 L550.0 1050.0 L552.0 1050.0 L554.0 1050.0 L556.0 1050.0 L558.0 1050.0 L560.0 1050.0 L562.0 1049.9 L564.0 1049.9 L566.0 1049.9 L568.0 1049.9 L570.0 1049.9 L572.0 1049.9 L574.0 1049.9 L576.0 1049.9 L578.0 1049.9 L580.0 1049.9 L582.0 1049.9 L584.0 1049.9 L586.0 1049.9 L588.0 1049.9 L590.0 1049.9 L592.0 1049.9 L594.0 1049.9 L596.0 1049.9 L598.0 1049.9 L600.0 1049.9 L602.0 1049.9 L604.0 1049.9 L606.0 1049.9 L608.0 1049.9 L610.0 1049.9 L612.0 1049.9 L614.0 1049.9 L616.0 1049.9 L618.0 1049.9 L620.0 1049.9 L622.0 1049.9 L624.0 1049.9 L626.0 1049.9 L628.0 1049.9 L630.0 1049.9 L632.0 1049.9 L634.0 1049.9 L636.0 1049.9 L638.0 1049.9 L640.0 1049.9 L642.0 1049.9 L644.0 1049.9 L646.0 1049.8 L648.0 1049.8 L650.0 1049.8 L652.0 1049.8 L654.0 1049.8 L656.0 1049.8 L658.0 1049.8 L660.0 1049.8 L662.0 1049.8 L664.0 1049.8 L666.0 1049.8 L668.0 1049.8 L670.0 1049.8 L672.0 1049.8 L674.0 1049.8 L676.0 1049.8 L678.0 1049.8 L680.0 1049.8 L682.0 1049.8 L684.0 1049.8 L686.0 1049.8 L688.0 1049.8 L690.0 1049.8 L692.0 1049.8 L694.0 1049.8 L696.0 1049.8 L698.0 1049.8 L700.0 1049.8 L702.0 1049.8 L704.0 1049.8 L706.0 1049.8 L708.0 1049.8 L710.0 1049.8 L712.0 1049.8 L714.0 1049.8 L716.0 1049.8 L718.0 1049.8 L720.0 1049.8 L722.0 1049.8 L724.0 1049.8 L726.0 1049.8 L728.0 1049.8 L730.0 1049.8 L732.0 1049.8 L734.0 1049.8 L736.0 1049.8 L738.0 1049.8 L740.0 1049.8 L742.0 1049.8 L744.0 1049.8 L746.0 1049.8 L748.0 1049.8 L750.0 1049.8 L752.0 1049.8 L754.0 1049.8 L756.0 1049.8 L758.0 1049.8 L760.0 1049.8 L762.0 1049.8 L764.0 1049.8 L766.0 1049.8 L768.0 1049.8 L770.0 1049.8 L772.0 1049.8 L774.0 1049.8 L776.0 1049.8 L778.0 1049.8 L780.0 1049.8 L782.0 1049.8 L784.0 1049.8 L786.0 1049.8 L788.0 1049.8 L790.0 1049.8" stroke="#b2b2b2" stroke-width="5.6" stroke-dasharray="13.2 20.4"/>
</g>
<clipPath id="c3"><rect x="125.7" y="1289.0" width="664.1" height="429.1"/></clipPath>
<g clip-path="url(#c3)" fill="none" stroke-linejoin="round">
<path d="M126.0 1673.0 L128.0 1673.0 L130.0 1673.0 L132.0 1673.0 L134.0 1673.0 L136.0 1673.0 L138.0 1673.0 L140.0 1673.0 L142.0 1673.0 L144.0 1673.0 L146.0 1673.0 L148.0 1673.0 L150.0 1673.0 L152.0 1673.0 L154.0 1673.0 L156.0 1673.0 L158.0 1673.0 L160.0 1673.0 L162.0 1673.1 L164.0 1673.1 L166.0 1673.1 L168.0 1673.1 L170.0 1673.1 L172.0 1673.1 L174.0 1673.1 L176.0 1673.1 L178.0 1673.1 L180.0 1673.1 L182.0 1673.1 L184.0 1673.2 L186.0 1673.2 L188.0 1673.2 L190.0 1673.2 L192.0 1673.3 L194.0 1673.3 L196.0 1673.5 L198.0 1673.6 L200.0 1674.0 L202.0 1674.5 L204.0 1675.2 L206.0 1676.1 L208.0 1677.1 L210.0 1678.4 L212.0 1679.8 L214.0 1681.4 L216.0 1683.2 L218.0 1685.5 L220.0 1687.8 L222.0 1690.3 L224.0 1692.6 L226.0 1695.0 L228.0 1697.3 L230.0 1699.4 L232.0 1701.0 L234.0 1702.1 L236.0 1702.6 L238.0 1702.3 L240.0 1700.9 L242.0 1698.9 L244.0 1696.3 L246.0 1693.0 L248.0 1689.2 L250.0 1684.9 L252.0 1680.1 L254.0 1674.9 L256.0 1669.6 L258.0 1664.3 L260.0 1658.9 L262.0 1653.5 L264.0 1648.0 L266.0 1642.5 L268.0 1637.0 L270.0 1631.4 L272.0 1625.9 L274.0 1620.3 L276.0 1614.7 L278.0 1609.3 L280.0 1603.9 L282.0 1598.7 L284.0 1593.6 L286.0 1588.5 L288.0 1583.6 L290.0 1578.7 L292.0 1573.9 L294.0 1569.2 L296.0 1564.4 L298.0 1559.6 L300.0 1554.8 L302.0 1550.1 L304.0 1545.5 L306.0 1541.2 L308.0 1537.1 L310.0 1533.3 L312.0 1529.8 L314.0 1526.4 L316.0 1523.3 L318.0 1520.3 L320.0 1517.4 L322.0 1514.6 L324.0 1511.9 L326.0 1509.4 L328.0 1506.9 L330.0 1504.5 L332.0 1502.2 L334.0 1499.8 L336.0 1497.3 L338.0 1494.9 L340.0 1492.3 L342.0 1489.8 L344.0 1487.4 L346.0 1485.0 L348.0 1482.7 L350.0 1480.4 L352.0 1478.1 L354.0 1475.8 L356.0 1473.8 L358.0 1472.0 L360.0 1470.7 L362.0 1469.6 L364.0 1468.7 L366.0 1467.9 L368.0 1467.4 L370.0 1467.2 L372.0 1467.1 L374.0 1467.2 L376.0 1467.3 L378.0 1467.4 L380.0 1467.5 L382.0 1467.6 L384.0 1467.7 L386.0 1467.8 L388.0 1467.9 L390.0 1468.0 L392.0 1468.1 L394.0 1468.2 L396.0 1468.4 L398.0 1468.5 L400.0 1468.6 L402.0 1468.7 L404.0 1468.8 L406.0 1468.9 L408.0 1469.0 L410.0 1469.1 L412.0 1469.2 L414.0 1469.2 L416.0 1469.2 L418.0 1469.3 L420.0 1469.3 L422.0 1469.3 L424.0 1469.4 L426.0 1469.4 L428.0 1469.4 L430.0 1469.4 L432.0 1469.5 L434.0 1469.5 L436.0 1469.5 L438.0 1469.5 L440.0 1469.6 L442.0 1469.6 L444.0 1469.6 L446.0 1469.6 L448.0 1469.6 L450.0 1469.6 L452.0 1469.7 L454.0 1469.7 L456.0 1469.7 L458.0 1469.7 L460.0 1469.7 L462.0 1469.7 L464.0 1469.7 L466.0 1469.7 L468.0 1469.8 L470.0 1469.8 L472.0 1469.8 L474.0 1469.8 L476.0 1469.8 L478.0 1469.8 L480.0 1469.8 L482.0 1469.8 L484.0 1469.8 L486.0 1469.8 L488.0 1469.8 L490.0 1469.8 L492.0 1469.8 L494.0 1469.8 L496.0 1469.8 L498.0 1469.8 L500.0 1469.9 L502.0 1469.9 L504.0 1469.9 L506.0 1469.9 L508.0 1469.9 L510.0 1469.9 L512.0 1469.9 L514.0 1469.9 L516.0 1469.9 L518.0 1469.9 L520.0 1469.9 L522.0 1469.9 L524.0 1469.9 L526.0 1469.9 L528.0 1469.9 L530.0 1469.9 L532.0 1469.9 L534.0 1469.9 L536.0 1469.9 L538.0 1469.9 L540.0 1469.9 L542.0 1469.9 L544.0 1470.0 L546.0 1470.0 L548.0 1470.0 L550.0 1470.0 L552.0 1470.0 L554.0 1470.0 L556.0 1470.0 L558.0 1470.0 L560.0 1470.0 L562.0 1470.0 L564.0 1470.0 L566.0 1470.0 L568.0 1470.0 L570.0 1470.0 L572.0 1470.0 L574.0 1470.0 L576.0 1470.0 L578.0 1470.0 L580.0 1470.0 L582.0 1470.0 L584.0 1470.0 L586.0 1470.0 L588.0 1470.0 L590.0 1470.0 L592.0 1470.0 L594.0 1470.0 L596.0 1470.0 L598.0 1470.1 L600.0 1470.1 L602.0 1470.1 L604.0 1470.1 L606.0 1470.1 L608.0 1470.1 L610.0 1470.1 L612.0 1470.1 L614.0 1470.1 L616.0 1470.1 L618.0 1470.1 L620.0 1470.1 L622.0 1470.1 L624.0 1470.1 L626.0 1470.1 L628.0 1470.1 L630.0 1470.1 L632.0 1470.1 L634.0 1470.1 L636.0 1470.1 L638.0 1470.1 L640.0 1470.1 L642.0 1470.1 L644.0 1470.1 L646.0 1470.1 L648.0 1470.1 L650.0 1470.1 L652.0 1470.1 L654.0 1470.1 L656.0 1470.1 L658.0 1470.1 L660.0 1470.1 L662.0 1470.1 L664.0 1470.1 L666.0 1470.1 L668.0 1470.1 L670.0 1470.1 L672.0 1470.1 L674.0 1470.1 L676.0 1470.1 L678.0 1470.2 L680.0 1470.2 L682.0 1470.2 L684.0 1470.2 L686.0 1470.2 L688.0 1470.2 L690.0 1470.2 L692.0 1470.2 L694.0 1470.2 L696.0 1470.2 L698.0 1470.2 L700.0 1470.2 L702.0 1470.2 L704.0 1470.2 L706.0 1470.2 L708.0 1470.2 L710.0 1470.2 L712.0 1470.2 L714.0 1470.2 L716.0 1470.2 L718.0 1470.2 L720.0 1470.2 L722.0 1470.2 L724.0 1470.2 L726.0 1470.2 L728.0 1470.2 L730.0 1470.2 L732.0 1470.2 L734.0 1470.2 L736.0 1470.2 L738.0 1470.2 L740.0 1470.2 L742.0 1470.2 L744.0 1470.2 L746.0 1470.2 L748.0 1470.2 L750.0 1470.2 L752.0 1470.2 L754.0 1470.2 L756.0 1470.2 L758.0 1470.2 L760.0 1470.2 L762.0 1470.2 L764.0 1470.2 L766.0 1470.2 L768.0 1470.2 L770.0 1470.2 L772.0 1470.2 L774.0 1470.2 L776.0 1470.2 L778.0 1470.2 L780.0 1470.2 L782.0 1470.2 L784.0 1470.2 L786.0 1470.2 L788.0 1470.2 L790.0 1470.2" stroke="#000000" stroke-width="5.6"/>
<path d="M126.0 1673.0 L128.0 1673.0 L130.0 1673.0 L132.0 1673.0 L134.0 1673.0 L136.0 1673.0 L138.0 1673.0 L140.0 1673.0 L142.0 1673.0 L144.0 1673.0 L146.0 1673.0 L148.0 1673.0 L150.0 1673.0 L152.0 1673.0 L154.0 1673.0 L156.0 1673.0 L158.0 1673.0 L160.0 1673.0 L162.0 1673.0 L164.0 1673.0 L166.0 1673.0 L168.0 1673.0 L170.0 1673.0 L172.0 1673.0 L174.0 1673.0 L176.0 1673.0 L178.0 1673.0 L180.0 1673.0 L182.0 1673.0 L184.0 1673.0 L186.0 1673.0 L188.0 1673.0 L190.0 1673.0 L192.0 1673.0 L194.0 1673.0 L196.0 1673.0 L198.0 1673.0 L200.0 1673.0 L202.0 1673.0 L204.0 1673.0 L206.0 1673.0 L208.0 1673.0 L210.0 1673.0 L212.0 1673.0 L214.0 1673.0 L216.0 1673.0 L218.0 1673.0 L220.0 1673.0 L222.0 1673.0 L224.0 1673.0 L226.0 1673.0 L228.0 1672.9 L230.0 1672.8 L232.0 1672.5 L234.0 1671.9 L236.0 1671.2 L238.0 1670.1 L240.0 1668.7 L242.0 1666.7 L244.0 1664.1 L246.0 1660.6 L248.0 1656.6 L250.0 1652.3 L252.0 1647.6 L254.0 1642.4 L256.0 1636.8 L258.0 1630.8 L260.0 1624.8 L262.0 1618.9 L264.0 1613.1 L266.0 1607.2 L268.0 1601.4 L270.0 1595.7 L272.0 1590.0 L274.0 1584.3 L276.0 1578.7 L278.0 1573.1 L280.0 1567.7 L282.0 1562.5 L284.0 1557.4 L286.0 1552.3 L288.0 1547.4 L290.0 1542.6 L292.0 1537.9 L294.0 1533.4 L296.0 1529.0 L298.0 1524.8 L300.0 1520.8 L302.0 1516.8 L304.0 1513.0 L306.0 1509.2 L308.0 1505.4 L310.0 1501.8 L312.0 1498.2 L314.0 1494.7 L316.0 1491.4 L318.0 1488.3 L320.0 1485.3 L322.0 1482.5 L324.0 1479.9 L326.0 1477.5 L328.0 1475.3 L330.0 1473.3 L332.0 1471.6 L334.0 1470.0 L336.0 1468.6 L338.0 1467.4 L340.0 1466.3 L342.0 1465.4 L344.0 1464.6 L346.0 1463.9 L348.0 1463.2 L350.0 1462.4 L352.0 1461.5 L354.0 1460.5 L356.0 1459.4 L358.0 1458.3 L360.0 1457.1 L362.0 1455.9 L364.0 1454.6 L366.0 1453.3 L368.0 1452.0 L370.0 1450.8 L372.0 1449.5 L374.0 1448.4 L376.0 1447.2 L378.0 1446.2 L380.0 1445.2 L382.0 1444.2 L384.0 1443.4 L386.0 1442.6 L388.0 1441.9 L390.0 1441.2 L392.0 1440.7 L394.0 1440.3 L396.0 1440.0 L398.0 1439.9 L400.0 1439.8 L402.0 1439.7 L404.0 1439.7 L406.0 1439.7 L408.0 1439.6 L410.0 1439.6 L412.0 1439.6 L414.0 1439.6 L416.0 1439.6 L418.0 1439.6 L420.0 1439.6 L422.0 1439.6 L424.0 1439.6 L426.0 1439.6 L428.0 1439.6 L430.0 1439.6 L432.0 1439.6 L434.0 1439.6 L436.0 1439.7 L438.0 1439.7 L440.0 1439.7 L442.0 1439.7 L444.0 1439.7 L446.0 1439.7 L448.0 1439.7 L450.0 1439.7 L452.0 1439.7 L454.0 1439.7 L456.0 1439.7 L458.0 1439.7 L460.0 1439.8 L462.0 1439.8 L464.0 1439.8 L466.0 1439.8 L468.0 1439.8 L470.0 1439.8 L472.0 1439.8 L474.0 1439.8 L476.0 1439.8 L478.0 1439.8 L480.0 1439.8 L482.0 1439.8 L484.0 1439.8 L486.0 1439.8 L488.0 1439.8 L490.0 1439.8 L492.0 1439.8 L494.0 1439.8 L496.0 1439.8 L498.0 1439.8 L500.0 1439.8 L502.0 1439.8 L504.0 1439.8 L506.0 1439.8 L508.0 1439.8 L510.0 1439.8 L512.0 1439.8 L514.0 1439.8 L516.0 1439.8 L518.0 1439.8 L520.0 1439.8 L522.0 1439.8 L524.0 1439.8 L526.0 1439.8 L528.0 1439.8 L530.0 1439.8 L532.0 1439.8 L534.0 1439.8 L536.0 1439.8 L538.0 1439.8 L540.0 1439.8 L542.0 1439.8 L544.0 1439.8 L546.0 1439.8 L548.0 1439.8 L550.0 1439.8 L552.0 1439.8 L554.0 1439.8 L556.0 1439.8 L558.0 1439.8 L560.0 1439.8 L562.0 1439.8 L564.0 1439.8 L566.0 1439.8 L568.0 1439.8 L570.0 1439.8 L572.0 1439.8 L574.0 1439.8 L576.0 1439.8 L578.0 1439.8 L580.0 1439.8 L582.0 1439.8 L584.0 1439.8 L586.0 1439.8 L588.0 1439.8 L590.0 1439.8 L592.0 1439.8 L594.0 1439.8 L596.0 1439.8 L598.0 1439.8 L600.0 1439.8 L602.0 1439.8 L604.0 1439.8 L606.0 1439.8 L608.0 1439.8 L610.0 1439.8 L612.0 1439.8 L614.0 1439.8 L616.0 1439.8 L618.0 1439.8 L620.0 1439.8 L622.0 1439.8 L624.0 1439.8 L626.0 1439.8 L628.0 1439.8 L630.0 1439.8 L632.0 1439.8 L634.0 1439.8 L636.0 1439.8 L638.0 1439.8 L640.0 1439.8 L642.0 1439.8 L644.0 1439.8 L646.0 1439.8 L648.0 1439.8 L650.0 1439.8 L652.0 1439.8 L654.0 1439.8 L656.0 1439.8 L658.0 1439.8 L660.0 1439.8 L662.0 1439.8 L664.0 1439.8 L666.0 1439.8 L668.0 1439.8 L670.0 1439.8 L672.0 1439.8 L674.0 1439.8 L676.0 1439.8 L678.0 1439.8 L680.0 1439.8 L682.0 1439.8 L684.0 1439.8 L686.0 1439.8 L688.0 1439.8 L690.0 1439.8 L692.0 1439.8 L694.0 1439.8 L696.0 1439.8 L698.0 1439.8 L700.0 1439.8 L702.0 1439.8 L704.0 1439.8 L706.0 1439.8 L708.0 1439.8 L710.0 1439.8 L712.0 1439.8 L714.0 1439.8 L716.0 1439.8 L718.0 1439.8 L720.0 1439.8 L722.0 1439.8 L724.0 1439.8 L726.0 1439.8 L728.0 1439.8 L730.0 1439.8 L732.0 1439.8 L734.0 1439.8 L736.0 1439.8 L738.0 1439.8 L740.0 1439.8 L742.0 1439.8 L744.0 1439.8 L746.0 1439.8 L748.0 1439.8 L750.0 1439.8 L752.0 1439.8 L754.0 1439.8 L756.0 1439.8 L758.0 1439.8 L760.0 1439.8 L762.0 1439.8 L764.0 1439.8 L766.0 1439.8 L768.0 1439.8 L770.0 1439.8 L772.0 1439.8 L774.0 1439.8 L776.0 1439.8 L778.0 1439.8 L780.0 1439.8 L782.0 1439.8 L784.0 1439.8 L786.0 1439.8 L788.0 1439.8 L790.0 1439.8" stroke="#a52a2a" stroke-width="5.6"/>
<path d="M126.0 1673.0 L128.0 1673.0 L130.0 1673.0 L132.0 1673.0 L134.0 1673.0 L136.0 1673.0 L138.0 1673.0 L140.0 1673.0 L142.0 1673.0 L144.0 1673.0 L146.0 1673.0 L148.0 1673.0 L150.0 1673.0 L152.0 1673.0 L154.0 1673.0 L156.0 1673.0 L158.0 1673.0 L160.0 1673.0 L162.0 1673.0 L164.0 1673.0 L166.0 1673.0 L168.0 1673.0 L170.0 1673.0 L172.0 1673.0 L174.0 1673.0 L176.0 1672.9 L178.0 1672.9 L180.0 1672.9 L182.0 1672.9 L184.0 1672.9 L186.0 1672.9 L188.0 1672.9 L190.0 1672.9 L192.0 1672.9 L194.0 1672.9 L196.0 1672.9 L198.0 1672.9 L200.0 1672.9 L202.0 1672.9 L204.0 1672.8 L206.0 1672.8 L208.0 1672.8 L210.0 1672.8 L212.0 1672.8 L214.0 1672.8 L216.0 1672.8 L218.0 1672.8 L220.0 1672.8 L222.0 1672.7 L224.0 1672.7 L226.0 1672.7 L228.0 1672.7 L230.0 1672.7 L232.0 1672.7 L234.0 1672.7 L236.0 1672.6 L238.0 1672.6 L240.0 1672.6 L242.0 1672.5 L244.0 1672.4 L246.0 1672.3 L248.0 1672.1 L250.0 1671.8 L252.0 1671.5 L254.0 1671.2 L256.0 1670.8 L258.0 1670.4 L260.0 1670.1 L262.0 1669.7 L264.0 1669.3 L266.0 1668.9 L268.0 1668.4 L270.0 1667.9 L272.0 1667.4 L274.0 1666.9 L276.0 1666.3 L278.0 1665.8 L280.0 1665.1 L282.0 1664.5 L284.0 1663.8 L286.0 1663.1 L288.0 1662.4 L290.0 1661.6 L292.0 1660.7 L294.0 1659.9 L296.0 1659.0 L298.0 1658.0 L300.0 1657.1 L302.0 1656.1 L304.0 1655.1 L306.0 1654.0 L308.0 1652.9 L310.0 1651.7 L312.0 1650.5 L314.0 1649.3 L316.0 1648.0 L318.0 1646.7 L320.0 1645.3 L322.0 1643.9 L324.0 1642.6 L326.0 1641.2 L328.0 1639.8 L330.0 1638.4 L332.0 1637.0 L334.0 1635.6 L336.0 1634.2 L338.0 1632.8 L340.0 1631.3 L342.0 1629.8 L344.0 1628.2 L346.0 1626.5 L348.0 1624.8 L350.0 1622.9 L352.0 1621.0 L354.0 1618.9 L356.0 1616.7 L358.0 1614.4 L360.0 1612.1 L362.0 1609.7 L364.0 1607.3 L366.0 1604.7 L368.0 1602.1 L370.0 1599.5 L372.0 1596.9 L374.0 1594.4 L376.0 1592.1 L378.0 1589.9 L380.0 1587.9 L382.0 1586.1 L384.0 1584.6 L386.0 1583.4 L388.0 1582.5 L390.0 1581.8 L392.0 1581.1 L394.0 1580.7 L396.0 1580.3 L398.0 1580.0 L400.0 1579.8 L402.0 1579.7 L404.0 1579.7 L406.0 1579.6 L408.0 1579.6 L410.0 1579.6 L412.0 1579.5 L414.0 1579.5 L416.0 1579.5 L418.0 1579.5 L420.0 1579.5 L422.0 1579.5 L424.0 1579.5 L426.0 1579.5 L428.0 1579.5 L430.0 1579.5 L432.0 1579.5 L434.0 1579.5 L436.0 1579.5 L438.0 1579.5 L440.0 1579.5 L442.0 1579.5 L444.0 1579.5 L446.0 1579.5 L448.0 1579.5 L450.0 1579.5 L452.0 1579.5 L454.0 1579.5 L456.0 1579.5 L458.0 1579.5 L460.0 1579.5 L462.0 1579.5 L464.0 1579.5 L466.0 1579.5 L468.0 1579.5 L470.0 1579.5 L472.0 1579.5 L474.0 1579.5 L476.0 1579.5 L478.0 1579.5 L480.0 1579.5 L482.0 1579.5 L484.0 1579.5 L486.0 1579.5 L488.0 1579.5 L490.0 1579.5 L492.0 1579.5 L494.0 1579.5 L496.0 1579.5 L498.0 1579.5 L500.0 1579.5 L502.0 1579.5 L504.0 1579.5 L506.0 1579.5 L508.0 1579.5 L510.0 1579.5 L512.0 1579.5 L514.0 1579.5 L516.0 1579.5 L518.0 1579.5 L520.0 1579.5 L522.0 1579.5 L524.0 1579.5 L526.0 1579.5 L528.0 1579.5 L530.0 1579.5 L532.0 1579.5 L534.0 1579.5 L536.0 1579.5 L538.0 1579.5 L540.0 1579.5 L542.0 1579.5 L544.0 1579.5 L546.0 1579.5 L548.0 1579.5 L550.0 1579.5 L552.0 1579.5 L554.0 1579.5 L556.0 1579.5 L558.0 1579.5 L560.0 1579.5 L562.0 1579.5 L564.0 1579.5 L566.0 1579.5 L568.0 1579.5 L570.0 1579.5 L572.0 1579.5 L574.0 1579.5 L576.0 1579.5 L578.0 1579.5 L580.0 1579.5 L582.0 1579.5 L584.0 1579.5 L586.0 1579.5 L588.0 1579.5 L590.0 1579.5 L592.0 1579.5 L594.0 1579.5 L596.0 1579.5 L598.0 1579.5 L600.0 1579.5 L602.0 1579.5 L604.0 1579.5 L606.0 1579.5 L608.0 1579.5 L610.0 1579.5 L612.0 1579.5 L614.0 1579.5 L616.0 1579.5 L618.0 1579.5 L620.0 1579.5 L622.0 1579.5 L624.0 1579.5 L626.0 1579.5 L628.0 1579.5 L630.0 1579.5 L632.0 1579.5 L634.0 1579.5 L636.0 1579.5 L638.0 1579.5 L640.0 1579.5 L642.0 1579.5 L644.0 1579.5 L646.0 1579.5 L648.0 1579.5 L650.0 1579.5 L652.0 1579.5 L654.0 1579.5 L656.0 1579.5 L658.0 1579.5 L660.0 1579.5 L662.0 1579.5 L664.0 1579.5 L666.0 1579.5 L668.0 1579.5 L670.0 1579.5 L672.0 1579.5 L674.0 1579.5 L676.0 1579.5 L678.0 1579.5 L680.0 1579.5 L682.0 1579.5 L684.0 1579.5 L686.0 1579.5 L688.0 1579.5 L690.0 1579.5 L692.0 1579.5 L694.0 1579.5 L696.0 1579.5 L698.0 1579.5 L700.0 1579.5 L702.0 1579.5 L704.0 1579.5 L706.0 1579.5 L708.0 1579.5 L710.0 1579.5 L712.0 1579.5 L714.0 1579.5 L716.0 1579.5 L718.0 1579.5 L720.0 1579.5 L722.0 1579.5 L724.0 1579.5 L726.0 1579.5 L728.0 1579.5 L730.0 1579.5 L732.0 1579.5 L734.0 1579.5 L736.0 1579.5 L738.0 1579.5 L740.0 1579.5 L742.0 1579.5 L744.0 1579.5 L746.0 1579.5 L748.0 1579.5 L750.0 1579.5 L752.0 1579.5 L754.0 1579.5 L756.0 1579.5 L758.0 1579.5 L760.0 1579.5 L762.0 1579.5 L764.0 1579.5 L766.0 1579.5 L768.0 1579.5 L770.0 1579.5 L772.0 1579.5 L774.0 1579.5 L776.0 1579.5 L778.0 1579.5 L780.0 1579.5 L782.0 1579.5 L784.0 1579.5 L786.0 1579.5 L788.0 1579.5 L790.0 1579.5" stroke="#ff0000" stroke-width="5.6"/>
<path d="M126.0 1673.0 L128.0 1673.0 L130.0 1673.0 L132.0 1673.0 L134.0 1673.0 L136.0 1673.0 L138.0 1673.0 L140.0 1673.0 L142.0 1673.0 L144.0 1673.0 L146.0 1673.0 L148.0 1673.0 L150.0 1673.0 L152.0 1673.0 L154.0 1673.0 L156.0 1673.0 L158.0 1673.0 L160.0 1673.0 L162.0 1673.0 L164.0 1673.0 L166.0 1673.0 L168.0 1673.0 L170.0 1673.0 L172.0 1673.0 L174.0 1673.0 L176.0 1673.0 L178.0 1673.0 L180.0 1673.0 L182.0 1673.0 L184.0 1673.0 L186.0 1673.0 L188.0 1673.0 L190.0 1673.0 L192.0 1673.0 L194.0 1673.0 L196.0 1673.0 L198.0 1673.0 L200.0 1673.0 L202.0 1673.0 L204.0 1673.0 L206.0 1673.0 L208.0 1673.0 L210.0 1673.0 L212.0 1673.0 L214.0 1673.0 L216.0 1673.0 L218.0 1673.0 L220.0 1673.0 L222.0 1673.0 L224.0 1673.0 L226.0 1673.0 L228.0 1673.0 L230.0 1673.0 L232.0 1673.0 L234.0 1673.0 L236.0 1673.0 L238.0 1673.0 L240.0 1673.0 L242.0 1673.0 L244.0 1673.0 L246.0 1673.0 L248.0 1673.0 L250.0 1673.0 L252.0 1673.0 L254.0 1673.0 L256.0 1673.0 L258.0 1673.0 L260.0 1673.0 L262.0 1673.0 L264.0 1673.0 L266.0 1672.9 L268.0 1672.9 L270.0 1672.8 L272.0 1672.7 L274.0 1672.6 L276.0 1672.4 L278.0 1672.3 L280.0 1672.1 L282.0 1671.9 L284.0 1671.6 L286.0 1671.4 L288.0 1671.0 L290.0 1670.7 L292.0 1670.3 L294.0 1669.9 L296.0 1669.5 L298.0 1669.1 L300.0 1668.6 L302.0 1668.2 L304.0 1667.7 L306.0 1667.2 L308.0 1666.7 L310.0 1666.2 L312.0 1665.6 L314.0 1665.1 L316.0 1664.5 L318.0 1663.9 L320.0 1663.3 L322.0 1662.6 L324.0 1662.0 L326.0 1661.3 L328.0 1660.6 L330.0 1659.9 L332.0 1659.1 L334.0 1658.3 L336.0 1657.5 L338.0 1656.6 L340.0 1655.7 L342.0 1654.7 L344.0 1653.7 L346.0 1652.6 L348.0 1651.5 L350.0 1650.3 L352.0 1649.0 L354.0 1647.8 L356.0 1646.5 L358.0 1645.1 L360.0 1643.7 L362.0 1642.3 L364.0 1640.9 L366.0 1639.3 L368.0 1637.8 L370.0 1636.1 L372.0 1634.4 L374.0 1632.6 L376.0 1630.7 L378.0 1628.7 L380.0 1626.4 L382.0 1624.0 L384.0 1621.4 L386.0 1618.6 L388.0 1615.7 L390.0 1612.8 L392.0 1610.0 L394.0 1607.1 L396.0 1604.3 L398.0 1601.5 L400.0 1598.7 L402.0 1595.9 L404.0 1593.3 L406.0 1590.6 L408.0 1588.1 L410.0 1585.6 L412.0 1583.1 L414.0 1580.8 L416.0 1578.7 L418.0 1576.9 L420.0 1575.3 L422.0 1573.9 L424.0 1572.7 L426.0 1571.6 L428.0 1570.7 L430.0 1569.8 L432.0 1569.1 L434.0 1568.5 L436.0 1568.0 L438.0 1567.5 L440.0 1567.1 L442.0 1566.7 L444.0 1566.4 L446.0 1566.1 L448.0 1565.8 L450.0 1565.6 L452.0 1565.4 L454.0 1565.2 L456.0 1565.0 L458.0 1564.9 L460.0 1564.8 L462.0 1564.8 L464.0 1564.7 L466.0 1564.7 L468.0 1564.7 L470.0 1564.6 L472.0 1564.6 L474.0 1564.6 L476.0 1564.6 L478.0 1564.5 L480.0 1564.5 L482.0 1564.5 L484.0 1564.5 L486.0 1564.4 L488.0 1564.4 L490.0 1564.4 L492.0 1564.4 L494.0 1564.4 L496.0 1564.4 L498.0 1564.4 L500.0 1564.3 L502.0 1564.3 L504.0 1564.3 L506.0 1564.3 L508.0 1564.3 L510.0 1564.3 L512.0 1564.3 L514.0 1564.3 L516.0 1564.3 L518.0 1564.3 L520.0 1564.3 L522.0 1564.3 L524.0 1564.3 L526.0 1564.3 L528.0 1564.3 L530.0 1564.3 L532.0 1564.3 L534.0 1564.3 L536.0 1564.3 L538.0 1564.3 L540.0 1564.3 L542.0 1564.3 L544.0 1564.3 L546.0 1564.3 L548.0 1564.3 L550.0 1564.3 L552.0 1564.3 L554.0 1564.3 L556.0 1564.3 L558.0 1564.3 L560.0 1564.3 L562.0 1564.3 L564.0 1564.3 L566.0 1564.3 L568.0 1564.3 L570.0 1564.3 L572.0 1564.3 L574.0 1564.3 L576.0 1564.3 L578.0 1564.3 L580.0 1564.3 L582.0 1564.3 L584.0 1564.3 L586.0 1564.3 L588.0 1564.3 L590.0 1564.3 L592.0 1564.3 L594.0 1564.3 L596.0 1564.3 L598.0 1564.3 L600.0 1564.3 L602.0 1564.3 L604.0 1564.3 L606.0 1564.3 L608.0 1564.3 L610.0 1564.3 L612.0 1564.3 L614.0 1564.3 L616.0 1564.3 L618.0 1564.3 L620.0 1564.3 L622.0 1564.3 L624.0 1564.3 L626.0 1564.3 L628.0 1564.3 L630.0 1564.3 L632.0 1564.3 L634.0 1564.3 L636.0 1564.3 L638.0 1564.3 L640.0 1564.3 L642.0 1564.3 L644.0 1564.3 L646.0 1564.3 L648.0 1564.3 L650.0 1564.3 L652.0 1564.3 L654.0 1564.3 L656.0 1564.3 L658.0 1564.3 L660.0 1564.3 L662.0 1564.3 L664.0 1564.3 L666.0 1564.3 L668.0 1564.3 L670.0 1564.3 L672.0 1564.3 L674.0 1564.3 L676.0 1564.3 L678.0 1564.3 L680.0 1564.3 L682.0 1564.3 L684.0 1564.3 L686.0 1564.3 L688.0 1564.3 L690.0 1564.3 L692.0 1564.3 L694.0 1564.3 L696.0 1564.3 L698.0 1564.3 L700.0 1564.3 L702.0 1564.3 L704.0 1564.3 L706.0 1564.3 L708.0 1564.3 L710.0 1564.3 L712.0 1564.3 L714.0 1564.3 L716.0 1564.3 L718.0 1564.3 L720.0 1564.3 L722.0 1564.3 L724.0 1564.3 L726.0 1564.3 L728.0 1564.3 L730.0 1564.3 L732.0 1564.3 L734.0 1564.3 L736.0 1564.3 L738.0 1564.3 L740.0 1564.3 L742.0 1564.3 L744.0 1564.3 L746.0 1564.3 L748.0 1564.3 L750.0 1564.3 L752.0 1564.3 L754.0 1564.3 L756.0 1564.3 L758.0 1564.3 L760.0 1564.3 L762.0 1564.3 L764.0 1564.3 L766.0 1564.3 L768.0 1564.3 L770.0 1564.3 L772.0 1564.3 L774.0 1564.3 L776.0 1564.3 L778.0 1564.3 L780.0 1564.3 L782.0 1564.3 L784.0 1564.3 L786.0 1564.3 L788.0 1564.3 L790.0 1564.3" stroke="#0000ff" stroke-width="5.6"/>
<path d="M126.0 1673.0 L128.0 1673.0 L130.0 1673.0 L132.0 1673.0 L134.0 1673.0 L136.0 1673.0 L138.0 1673.0 L140.0 1673.0 L142.0 1673.0 L144.0 1673.0 L146.0 1673.0 L148.0 1673.0 L150.0 1673.0 L152.0 1673.0 L154.0 1673.0 L156.0 1673.0 L158.0 1673.0 L160.0 1673.0 L162.0 1673.0 L164.0 1673.0 L166.0 1673.0 L168.0 1673.0 L170.0 1673.0 L172.0 1673.0 L174.0 1673.0 L176.0 1673.0 L178.0 1673.0 L180.0 1673.0 L182.0 1673.0 L184.0 1673.0 L186.0 1673.0 L188.0 1673.0 L190.0 1673.0 L192.0 1673.0 L194.0 1673.0 L196.0 1673.0 L198.0 1673.0 L200.0 1673.0 L202.0 1673.0 L204.0 1673.0 L206.0 1673.0 L208.0 1673.0 L210.0 1673.0 L212.0 1673.0 L214.0 1673.0 L216.0 1673.0 L218.0 1673.0 L220.0 1673.0 L222.0 1673.0 L224.0 1673.0 L226.0 1673.0 L228.0 1673.0 L230.0 1672.9 L232.0 1672.7 L234.0 1672.5 L236.0 1672.1 L238.0 1671.7 L240.0 1671.2 L242.0 1670.6 L244.0 1669.8 L246.0 1668.9 L248.0 1667.9 L250.0 1666.9 L252.0 1665.7 L254.0 1664.5 L256.0 1663.2 L258.0 1661.8 L260.0 1660.5 L262.0 1659.1 L264.0 1657.7 L266.0 1656.3 L268.0 1654.9 L270.0 1653.4 L272.0 1651.7 L274.0 1650.0 L276.0 1648.2 L278.0 1646.3 L280.0 1644.3 L282.0 1642.2 L284.0 1639.9 L286.0 1637.4 L288.0 1634.5 L290.0 1631.3 L292.0 1627.4 L294.0 1622.5 L296.0 1617.0 L298.0 1611.5 L300.0 1606.3 L302.0 1601.5 L304.0 1596.7 L306.0 1591.7 L308.0 1586.5 L310.0 1581.1 L312.0 1575.5 L314.0 1569.9 L316.0 1564.3 L318.0 1558.7 L320.0 1553.1 L322.0 1547.3 L324.0 1541.1 L326.0 1534.2 L328.0 1526.6 L330.0 1518.5 L332.0 1510.4 L334.0 1502.5 L336.0 1494.6 L338.0 1486.6 L340.0 1477.9 L342.0 1468.5 L344.0 1458.5 L346.0 1448.3 L348.0 1438.0 L350.0 1428.1 L352.0 1418.9 L354.0 1410.4 L356.0 1402.4 L358.0 1394.8 L360.0 1387.3 L362.0 1379.9 L364.0 1372.8 L366.0 1366.0 L368.0 1359.7 L370.0 1353.8 L372.0 1348.3 L374.0 1343.3 L376.0 1338.7 L378.0 1335.0 L380.0 1332.0 L382.0 1329.7 L384.0 1328.0 L386.0 1326.8 L388.0 1326.2 L390.0 1325.7 L392.0 1325.4 L394.0 1325.1 L396.0 1325.0 L398.0 1324.9 L400.0 1324.9 L402.0 1324.8 L404.0 1324.8 L406.0 1324.8 L408.0 1324.8 L410.0 1324.8 L412.0 1324.7 L414.0 1324.7 L416.0 1324.7 L418.0 1324.7 L420.0 1324.7 L422.0 1324.7 L424.0 1324.7 L426.0 1324.6 L428.0 1324.6 L430.0 1324.6 L432.0 1324.6 L434.0 1324.6 L436.0 1324.6 L438.0 1324.6 L440.0 1324.6 L442.0 1324.6 L444.0 1324.6 L446.0 1324.6 L448.0 1324.5 L450.0 1324.5 L452.0 1324.5 L454.0 1324.5 L456.0 1324.5 L458.0 1324.5 L460.0 1324.5 L462.0 1324.5 L464.0 1324.5 L466.0 1324.5 L468.0 1324.5 L470.0 1324.5 L472.0 1324.5 L474.0 1324.5 L476.0 1324.5 L478.0 1324.5 L480.0 1324.5 L482.0 1324.5 L484.0 1324.5 L486.0 1324.5 L488.0 1324.5 L490.0 1324.5 L492.0 1324.5 L494.0 1324.5 L496.0 1324.5 L498.0 1324.5 L500.0 1324.5 L502.0 1324.5 L504.0 1324.5 L506.0 1324.5 L508.0 1324.5 L510.0 1324.5 L512.0 1324.5 L514.0 1324.5 L516.0 1324.5 L518.0 1324.5 L520.0 1324.5 L522.0 1324.5 L524.0 1324.5 L526.0 1324.5 L528.0 1324.5 L530.0 1324.5 L532.0 1324.5 L534.0 1324.5 L536.0 1324.5 L538.0 1324.5 L540.0 1324.5 L542.0 1324.5 L544.0 1324.5 L546.0 1324.5 L548.0 1324.5 L550.0 1324.5 L552.0 1324.5 L554.0 1324.5 L556.0 1324.5 L558.0 1324.5 L560.0 1324.5 L562.0 1324.5 L564.0 1324.4 L566.0 1324.4 L568.0 1324.4 L570.0 1324.4 L572.0 1324.4 L574.0 1324.4 L576.0 1324.4 L578.0 1324.4 L580.0 1324.4 L582.0 1324.4 L584.0 1324.4 L586.0 1324.4 L588.0 1324.4 L590.0 1324.4 L592.0 1324.4 L594.0 1324.4 L596.0 1324.4 L598.0 1324.4 L600.0 1324.4 L602.0 1324.4 L604.0 1324.4 L606.0 1324.4 L608.0 1324.4 L610.0 1324.4 L612.0 1324.4 L614.0 1324.4 L616.0 1324.4 L618.0 1324.4 L620.0 1324.4 L622.0 1324.4 L624.0 1324.4 L626.0 1324.4 L628.0 1324.4 L630.0 1324.4 L632.0 1324.4 L634.0 1324.4 L636.0 1324.4 L638.0 1324.4 L640.0 1324.4 L642.0 1324.4 L644.0 1324.4 L646.0 1324.4 L648.0 1324.4 L650.0 1324.4 L652.0 1324.4 L654.0 1324.4 L656.0 1324.4 L658.0 1324.4 L660.0 1324.4 L662.0 1324.4 L664.0 1324.4 L666.0 1324.4 L668.0 1324.4 L670.0 1324.4 L672.0 1324.4 L674.0 1324.4 L676.0 1324.4 L678.0 1324.4 L680.0 1324.4 L682.0 1324.4 L684.0 1324.4 L686.0 1324.4 L688.0 1324.4 L690.0 1324.4 L692.0 1324.4 L694.0 1324.4 L696.0 1324.4 L698.0 1324.4 L700.0 1324.4 L702.0 1324.4 L704.0 1324.4 L706.0 1324.4 L708.0 1324.4 L710.0 1324.4 L712.0 1324.4 L714.0 1324.4 L716.0 1324.4 L718.0 1324.4 L720.0 1324.4 L722.0 1324.4 L724.0 1324.4 L726.0 1324.4 L728.0 1324.4 L730.0 1324.4 L732.0 1324.4 L734.0 1324.4 L736.0 1324.4 L738.0 1324.4 L740.0 1324.4 L742.0 1324.4 L744.0 1324.4 L746.0 1324.4 L748.0 1324.4 L750.0 1324.4 L752.0 1324.4 L754.0 1324.4 L756.0 1324.4 L758.0 1324.4 L760.0 1324.4 L762.0 1324.4 L764.0 1324.4 L766.0 1324.4 L768.0 1324.4 L770.0 1324.4 L772.0 1324.4 L774.0 1324.4 L776.0 1324.4 L778.0 1324.4 L780.0 1324.4 L782.0 1324.4 L784.0 1324.4 L786.0 1324.4 L788.0 1324.4 L790.0 1324.4" stroke="#ffa500" stroke-width="5.6" stroke-dasharray="24 9.75 3.35 9.75 3.35 9.75" stroke-dashoffset="3"/>
<path d="M126.0 1673.0 L128.0 1673.0 L130.0 1673.0 L132.0 1673.0 L134.0 1673.0 L136.0 1673.0 L138.0 1673.0 L140.0 1673.0 L142.0 1673.0 L144.0 1673.0 L146.0 1673.0 L148.0 1673.0 L150.0 1673.0 L152.0 1673.0 L154.0 1673.0 L156.0 1673.0 L158.0 1673.0 L160.0 1673.0 L162.0 1673.0 L164.0 1673.0 L166.0 1673.0 L168.0 1673.0 L170.0 1673.0 L172.0 1673.0 L174.0 1673.0 L176.0 1673.0 L178.0 1673.0 L180.0 1673.0 L182.0 1673.0 L184.0 1673.0 L186.0 1673.0 L188.0 1673.0 L190.0 1673.0 L192.0 1673.0 L194.0 1673.0 L196.0 1673.0 L198.0 1673.0 L200.0 1672.9 L202.0 1672.9 L204.0 1672.9 L206.0 1672.9 L208.0 1672.9 L210.0 1672.9 L212.0 1672.9 L214.0 1672.9 L216.0 1672.9 L218.0 1672.9 L220.0 1672.9 L222.0 1672.9 L224.0 1672.9 L226.0 1672.9 L228.0 1672.9 L230.0 1672.9 L232.0 1672.9 L234.0 1672.9 L236.0 1672.9 L238.0 1672.9 L240.0 1672.8 L242.0 1672.8 L244.0 1672.8 L246.0 1672.8 L248.0 1672.8 L250.0 1672.8 L252.0 1672.8 L254.0 1672.8 L256.0 1672.8 L258.0 1672.8 L260.0 1672.8 L262.0 1672.8 L264.0 1672.8 L266.0 1672.7 L268.0 1672.7 L270.0 1672.7 L272.0 1672.7 L274.0 1672.7 L276.0 1672.7 L278.0 1672.7 L280.0 1672.7 L282.0 1672.7 L284.0 1672.7 L286.0 1672.6 L288.0 1672.6 L290.0 1672.6 L292.0 1672.6 L294.0 1672.6 L296.0 1672.5 L298.0 1672.4 L300.0 1672.3 L302.0 1672.2 L304.0 1672.1 L306.0 1671.9 L308.0 1671.8 L310.0 1671.6 L312.0 1671.4 L314.0 1671.3 L316.0 1671.1 L318.0 1670.9 L320.0 1670.7 L322.0 1670.4 L324.0 1670.2 L326.0 1669.9 L328.0 1669.6 L330.0 1669.3 L332.0 1669.0 L334.0 1668.6 L336.0 1668.1 L338.0 1667.7 L340.0 1667.2 L342.0 1666.7 L344.0 1666.2 L346.0 1665.7 L348.0 1665.1 L350.0 1664.6 L352.0 1664.0 L354.0 1663.5 L356.0 1662.9 L358.0 1662.3 L360.0 1661.8 L362.0 1661.2 L364.0 1660.5 L366.0 1659.9 L368.0 1659.2 L370.0 1658.5 L372.0 1657.8 L374.0 1657.0 L376.0 1656.2 L378.0 1655.4 L380.0 1654.5 L382.0 1653.5 L384.0 1652.6 L386.0 1651.5 L388.0 1650.4 L390.0 1649.2 L392.0 1648.0 L394.0 1646.7 L396.0 1645.3 L398.0 1643.7 L400.0 1642.1 L402.0 1640.3 L404.0 1638.4 L406.0 1636.4 L408.0 1634.3 L410.0 1632.3 L412.0 1630.2 L414.0 1628.1 L416.0 1625.9 L418.0 1623.8 L420.0 1621.7 L422.0 1619.7 L424.0 1617.8 L426.0 1616.0 L428.0 1614.4 L430.0 1613.0 L432.0 1611.7 L434.0 1610.7 L436.0 1609.8 L438.0 1609.1 L440.0 1608.6 L442.0 1608.2 L444.0 1607.8 L446.0 1607.5 L448.0 1607.3 L450.0 1607.1 L452.0 1606.9 L454.0 1606.8 L456.0 1606.7 L458.0 1606.7 L460.0 1606.6 L462.0 1606.5 L464.0 1606.5 L466.0 1606.5 L468.0 1606.4 L470.0 1606.4 L472.0 1606.4 L474.0 1606.3 L476.0 1606.3 L478.0 1606.3 L480.0 1606.3 L482.0 1606.3 L484.0 1606.3 L486.0 1606.3 L488.0 1606.3 L490.0 1606.3 L492.0 1606.3 L494.0 1606.3 L496.0 1606.3 L498.0 1606.3 L500.0 1606.3 L502.0 1606.3 L504.0 1606.3 L506.0 1606.3 L508.0 1606.3 L510.0 1606.3 L512.0 1606.3 L514.0 1606.3 L516.0 1606.3 L518.0 1606.3 L520.0 1606.3 L522.0 1606.3 L524.0 1606.3 L526.0 1606.3 L528.0 1606.3 L530.0 1606.3 L532.0 1606.3 L534.0 1606.3 L536.0 1606.3 L538.0 1606.3 L540.0 1606.3 L542.0 1606.3 L544.0 1606.3 L546.0 1606.3 L548.0 1606.3 L550.0 1606.3 L552.0 1606.3 L554.0 1606.3 L556.0 1606.3 L558.0 1606.3 L560.0 1606.3 L562.0 1606.3 L564.0 1606.3 L566.0 1606.3 L568.0 1606.3 L570.0 1606.3 L572.0 1606.3 L574.0 1606.3 L576.0 1606.3 L578.0 1606.3 L580.0 1606.3 L582.0 1606.3 L584.0 1606.3 L586.0 1606.3 L588.0 1606.3 L590.0 1606.3 L592.0 1606.3 L594.0 1606.3 L596.0 1606.3 L598.0 1606.3 L600.0 1606.3 L602.0 1606.3 L604.0 1606.3 L606.0 1606.3 L608.0 1606.3 L610.0 1606.3 L612.0 1606.3 L614.0 1606.3 L616.0 1606.3 L618.0 1606.3 L620.0 1606.3 L622.0 1606.3 L624.0 1606.3 L626.0 1606.3 L628.0 1606.3 L630.0 1606.3 L632.0 1606.3 L634.0 1606.3 L636.0 1606.3 L638.0 1606.3 L640.0 1606.3 L642.0 1606.3 L644.0 1606.3 L646.0 1606.3 L648.0 1606.3 L650.0 1606.3 L652.0 1606.3 L654.0 1606.3 L656.0 1606.3 L658.0 1606.3 L660.0 1606.3 L662.0 1606.3 L664.0 1606.3 L666.0 1606.3 L668.0 1606.3 L670.0 1606.3 L672.0 1606.3 L674.0 1606.3 L676.0 1606.3 L678.0 1606.3 L680.0 1606.3 L682.0 1606.3 L684.0 1606.3 L686.0 1606.3 L688.0 1606.3 L690.0 1606.3 L692.0 1606.3 L694.0 1606.3 L696.0 1606.3 L698.0 1606.3 L700.0 1606.3 L702.0 1606.3 L704.0 1606.3 L706.0 1606.3 L708.0 1606.3 L710.0 1606.3 L712.0 1606.3 L714.0 1606.3 L716.0 1606.3 L718.0 1606.3 L720.0 1606.3 L722.0 1606.3 L724.0 1606.3 L726.0 1606.3 L728.0 1606.3 L730.0 1606.3 L732.0 1606.3 L734.0 1606.3 L736.0 1606.3 L738.0 1606.3 L740.0 1606.3 L742.0 1606.3 L744.0 1606.3 L746.0 1606.3 L748.0 1606.3 L750.0 1606.3 L752.0 1606.3 L754.0 1606.3 L756.0 1606.3 L758.0 1606.3 L760.0 1606.3 L762.0 1606.3 L764.0 1606.3 L766.0 1606.3 L768.0 1606.3 L770.0 1606.3 L772.0 1606.3 L774.0 1606.3 L776.0 1606.3 L778.0 1606.3 L780.0 1606.3 L782.0 1606.3 L784.0 1606.3 L786.0 1606.3 L788.0 1606.3 L790.0 1606.3" stroke="#00ffff" stroke-width="5.6" stroke-dasharray="24 9.75 3.35 9.75 3.35 9.75" stroke-dashoffset="3.8"/>
<path d="M126.0 1673.0 L128.0 1673.0 L130.0 1673.0 L132.0 1673.0 L134.0 1673.0 L136.0 1673.0 L138.0 1673.0 L140.0 1673.0 L142.0 1673.0 L144.0 1673.0 L146.0 1673.0 L148.0 1673.0 L150.0 1673.0 L152.0 1673.0 L154.0 1673.0 L156.0 1673.0 L158.0 1673.0 L160.0 1673.0 L162.0 1673.0 L164.0 1673.0 L166.0 1673.0 L168.0 1673.0 L170.0 1673.0 L172.0 1673.0 L174.0 1673.0 L176.0 1672.9 L178.0 1672.9 L180.0 1672.9 L182.0 1672.9 L184.0 1672.9 L186.0 1672.9 L188.0 1672.9 L190.0 1672.9 L192.0 1672.9 L194.0 1672.9 L196.0 1672.9 L198.0 1672.9 L200.0 1672.9 L202.0 1672.9 L204.0 1672.8 L206.0 1672.8 L208.0 1672.8 L210.0 1672.8 L212.0 1672.8 L214.0 1672.8 L216.0 1672.8 L218.0 1672.8 L220.0 1672.8 L222.0 1672.7 L224.0 1672.7 L226.0 1672.7 L228.0 1672.7 L230.0 1672.7 L232.0 1672.7 L234.0 1672.7 L236.0 1672.6 L238.0 1672.6 L240.0 1672.6 L242.0 1672.5 L244.0 1672.4 L246.0 1672.3 L248.0 1672.1 L250.0 1671.8 L252.0 1671.5 L254.0 1671.2 L256.0 1670.8 L258.0 1670.4 L260.0 1670.1 L262.0 1669.7 L264.0 1669.3 L266.0 1668.9 L268.0 1668.4 L270.0 1667.9 L272.0 1667.4 L274.0 1666.9 L276.0 1666.3 L278.0 1665.8 L280.0 1665.1 L282.0 1664.5 L284.0 1663.8 L286.0 1663.1 L288.0 1662.4 L290.0 1661.6 L292.0 1660.7 L294.0 1659.9 L296.0 1659.0 L298.0 1658.0 L300.0 1657.1 L302.0 1656.1 L304.0 1655.1 L306.0 1654.0 L308.0 1652.9 L310.0 1651.7 L312.0 1650.5 L314.0 1649.3 L316.0 1648.0 L318.0 1646.7 L320.0 1645.3 L322.0 1643.9 L324.0 1642.6 L326.0 1641.2 L328.0 1639.8 L330.0 1638.4 L332.0 1637.0 L334.0 1635.6 L336.0 1634.2 L338.0 1632.8 L340.0 1631.3 L342.0 1629.8 L344.0 1628.2 L346.0 1626.5 L348.0 1624.8 L350.0 1622.9 L352.0 1621.0 L354.0 1618.9 L356.0 1616.7 L358.0 1614.4 L360.0 1612.1 L362.0 1609.7 L364.0 1607.3 L366.0 1604.7 L368.0 1602.1 L370.0 1599.5 L372.0 1596.9 L374.0 1594.4 L376.0 1592.1 L378.0 1589.9 L380.0 1587.9 L382.0 1586.1 L384.0 1584.6 L386.0 1583.4 L388.0 1582.5 L390.0 1581.8 L392.0 1581.1 L394.0 1580.7 L396.0 1580.3 L398.0 1580.0 L400.0 1579.8 L402.0 1579.7 L404.0 1579.7 L406.0 1579.6 L408.0 1579.6 L410.0 1579.6 L412.0 1579.5 L414.0 1579.5 L416.0 1579.5 L418.0 1579.5 L420.0 1579.5 L422.0 1579.5 L424.0 1579.5 L426.0 1579.5 L428.0 1579.5 L430.0 1579.5 L432.0 1579.5 L434.0 1579.5 L436.0 1579.5 L438.0 1579.5 L440.0 1579.5 L442.0 1579.5 L444.0 1579.5 L446.0 1579.5 L448.0 1579.5 L450.0 1579.5 L452.0 1579.5 L454.0 1579.5 L456.0 1579.5 L458.0 1579.5 L460.0 1579.5 L462.0 1579.5 L464.0 1579.5 L466.0 1579.5 L468.0 1579.5 L470.0 1579.5 L472.0 1579.5 L474.0 1579.5 L476.0 1579.5 L478.0 1579.5 L480.0 1579.5 L482.0 1579.5 L484.0 1579.5 L486.0 1579.5 L488.0 1579.5 L490.0 1579.5 L492.0 1579.5 L494.0 1579.5 L496.0 1579.5 L498.0 1579.5 L500.0 1579.5 L502.0 1579.5 L504.0 1579.5 L506.0 1579.5 L508.0 1579.5 L510.0 1579.5 L512.0 1579.5 L514.0 1579.5 L516.0 1579.5 L518.0 1579.5 L520.0 1579.5 L522.0 1579.5 L524.0 1579.5 L526.0 1579.5 L528.0 1579.5 L530.0 1579.5 L532.0 1579.5 L534.0 1579.5 L536.0 1579.5 L538.0 1579.5 L540.0 1579.5 L542.0 1579.5 L544.0 1579.5 L546.0 1579.5 L548.0 1579.5 L550.0 1579.5 L552.0 1579.5 L554.0 1579.5 L556.0 1579.5 L558.0 1579.5 L560.0 1579.5 L562.0 1579.5 L564.0 1579.5 L566.0 1579.5 L568.0 1579.5 L570.0 1579.5 L572.0 1579.5 L574.0 1579.5 L576.0 1579.5 L578.0 1579.5 L580.0 1579.5 L582.0 1579.5 L584.0 1579.5 L586.0 1579.5 L588.0 1579.5 L590.0 1579.5 L592.0 1579.5 L594.0 1579.5 L596.0 1579.5 L598.0 1579.5 L600.0 1579.5 L602.0 1579.5 L604.0 1579.5 L606.0 1579.5 L608.0 1579.5 L610.0 1579.5 L612.0 1579.5 L614.0 1579.5 L616.0 1579.5 L618.0 1579.5 L620.0 1579.5 L622.0 1579.5 L624.0 1579.5 L626.0 1579.5 L628.0 1579.5 L630.0 1579.5 L632.0 1579.5 L634.0 1579.5 L636.0 1579.5 L638.0 1579.5 L640.0 1579.5 L642.0 1579.5 L644.0 1579.5 L646.0 1579.5 L648.0 1579.5 L650.0 1579.5 L652.0 1579.5 L654.0 1579.5 L656.0 1579.5 L658.0 1579.5 L660.0 1579.5 L662.0 1579.5 L664.0 1579.5 L666.0 1579.5 L668.0 1579.5 L670.0 1579.5 L672.0 1579.5 L674.0 1579.5 L676.0 1579.5 L678.0 1579.5 L680.0 1579.5 L682.0 1579.5 L684.0 1579.5 L686.0 1579.5 L688.0 1579.5 L690.0 1579.5 L692.0 1579.5 L694.0 1579.5 L696.0 1579.5 L698.0 1579.5 L700.0 1579.5 L702.0 1579.5 L704.0 1579.5 L706.0 1579.5 L708.0 1579.5 L710.0 1579.5 L712.0 1579.5 L714.0 1579.5 L716.0 1579.5 L718.0 1579.5 L720.0 1579.5 L722.0 1579.5 L724.0 1579.5 L726.0 1579.5 L728.0 1579.5 L730.0 1579.5 L732.0 1579.5 L734.0 1579.5 L736.0 1579.5 L738.0 1579.5 L740.0 1579.5 L742.0 1579.5 L744.0 1579.5 L746.0 1579.5 L748.0 1579.5 L750.0 1579.5 L752.0 1579.5 L754.0 1579.5 L756.0 1579.5 L758.0 1579.5 L760.0 1579.5 L762.0 1579.5 L764.0 1579.5 L766.0 1579.5 L768.0 1579.5 L770.0 1579.5 L772.0 1579.5 L774.0 1579.5 L776.0 1579.5 L778.0 1579.5 L780.0 1579.5 L782.0 1579.5 L784.0 1579.5 L786.0 1579.5 L788.0 1579.5 L790.0 1579.5" stroke="#ffbfbf" stroke-width="5.6" stroke-dasharray="13.2 20.4"/>
<path d="M126.0 1673.0 L128.0 1673.0 L130.0 1673.0 L132.0 1673.0 L134.0 1673.0 L136.0 1673.0 L138.0 1673.0 L140.0 1673.0 L142.0 1673.0 L144.0 1673.0 L146.0 1673.0 L148.0 1673.0 L150.0 1673.0 L152.0 1673.0 L154.0 1673.0 L156.0 1673.0 L158.0 1673.0 L160.0 1673.0 L162.0 1673.0 L164.0 1673.0 L166.0 1673.0 L168.0 1673.0 L170.0 1673.0 L172.0 1673.0 L174.0 1673.0 L176.0 1673.0 L178.0 1673.0 L180.0 1673.0 L182.0 1673.0 L184.0 1673.0 L186.0 1673.0 L188.0 1673.0 L190.0 1673.0 L192.0 1673.0 L194.0 1673.0 L196.0 1673.0 L198.0 1673.0 L200.0 1673.0 L202.0 1673.0 L204.0 1673.0 L206.0 1673.0 L208.0 1673.0 L210.0 1673.0 L212.0 1673.0 L214.0 1673.0 L216.0 1673.0 L218.0 1673.0 L220.0 1673.0 L222.0 1673.0 L224.0 1673.0 L226.0 1673.0 L228.0 1673.0 L230.0 1673.0 L232.0 1673.0 L234.0 1673.0 L236.0 1673.0 L238.0 1673.0 L240.0 1673.0 L242.0 1673.0 L244.0 1673.0 L246.0 1673.0 L248.0 1673.0 L250.0 1673.0 L252.0 1673.0 L254.0 1673.0 L256.0 1673.0 L258.0 1673.0 L260.0 1673.0 L262.0 1673.0 L264.0 1673.0 L266.0 1672.9 L268.0 1672.9 L270.0 1672.8 L272.0 1672.7 L274.0 1672.6 L276.0 1672.4 L278.0 1672.3 L280.0 1672.1 L282.0 1671.9 L284.0 1671.6 L286.0 1671.4 L288.0 1671.0 L290.0 1670.7 L292.0 1670.3 L294.0 1669.9 L296.0 1669.5 L298.0 1669.1 L300.0 1668.6 L302.0 1668.2 L304.0 1667.7 L306.0 1667.2 L308.0 1666.7 L310.0 1666.2 L312.0 1665.6 L314.0 1665.1 L316.0 1664.5 L318.0 1663.9 L320.0 1663.3 L322.0 1662.6 L324.0 1662.0 L326.0 1661.3 L328.0 1660.6 L330.0 1659.9 L332.0 1659.1 L334.0 1658.3 L336.0 1657.5 L338.0 1656.6 L340.0 1655.7 L342.0 1654.7 L344.0 1653.7 L346.0 1652.6 L348.0 1651.5 L350.0 1650.3 L352.0 1649.0 L354.0 1647.8 L356.0 1646.5 L358.0 1645.1 L360.0 1643.7 L362.0 1642.3 L364.0 1640.9 L366.0 1639.3 L368.0 1637.8 L370.0 1636.1 L372.0 1634.4 L374.0 1632.6 L376.0 1630.7 L378.0 1628.7 L380.0 1626.4 L382.0 1624.0 L384.0 1621.4 L386.0 1618.6 L388.0 1615.7 L390.0 1612.8 L392.0 1610.0 L394.0 1607.1 L396.0 1604.3 L398.0 1601.5 L400.0 1598.7 L402.0 1595.9 L404.0 1593.3 L406.0 1590.6 L408.0 1588.1 L410.0 1585.6 L412.0 1583.1 L414.0 1580.8 L416.0 1578.7 L418.0 1576.9 L420.0 1575.3 L422.0 1573.9 L424.0 1572.7 L426.0 1571.6 L428.0 1570.7 L430.0 1569.8 L432.0 1569.1 L434.0 1568.5 L436.0 1568.0 L438.0 1567.5 L440.0 1567.1 L442.0 1566.7 L444.0 1566.4 L446.0 1566.1 L448.0 1565.8 L450.0 1565.6 L452.0 1565.4 L454.0 1565.2 L456.0 1565.0 L458.0 1564.9 L460.0 1564.8 L462.0 1564.8 L464.0 1564.7 L466.0 1564.7 L468.0 1564.7 L470.0 1564.6 L472.0 1564.6 L474.0 1564.6 L476.0 1564.6 L478.0 1564.5 L480.0 1564.5 L482.0 1564.5 L484.0 1564.5 L486.0 1564.4 L488.0 1564.4 L490.0 1564.4 L492.0 1564.4 L494.0 1564.4 L496.0 1564.4 L498.0 1564.4 L500.0 1564.3 L502.0 1564.3 L504.0 1564.3 L506.0 1564.3 L508.0 1564.3 L510.0 1564.3 L512.0 1564.3 L514.0 1564.3 L516.0 1564.3 L518.0 1564.3 L520.0 1564.3 L522.0 1564.3 L524.0 1564.3 L526.0 1564.3 L528.0 1564.3 L530.0 1564.3 L532.0 1564.3 L534.0 1564.3 L536.0 1564.3 L538.0 1564.3 L540.0 1564.3 L542.0 1564.3 L544.0 1564.3 L546.0 1564.3 L548.0 1564.3 L550.0 1564.3 L552.0 1564.3 L554.0 1564.3 L556.0 1564.3 L558.0 1564.3 L560.0 1564.3 L562.0 1564.3 L564.0 1564.3 L566.0 1564.3 L568.0 1564.3 L570.0 1564.3 L572.0 1564.3 L574.0 1564.3 L576.0 1564.3 L578.0 1564.3 L580.0 1564.3 L582.0 1564.3 L584.0 1564.3 L586.0 1564.3 L588.0 1564.3 L590.0 1564.3 L592.0 1564.3 L594.0 1564.3 L596.0 1564.3 L598.0 1564.3 L600.0 1564.3 L602.0 1564.3 L604.0 1564.3 L606.0 1564.3 L608.0 1564.3 L610.0 1564.3 L612.0 1564.3 L614.0 1564.3 L616.0 1564.3 L618.0 1564.3 L620.0 1564.3 L622.0 1564.3 L624.0 1564.3 L626.0 1564.3 L628.0 1564.3 L630.0 1564.3 L632.0 1564.3 L634.0 1564.3 L636.0 1564.3 L638.0 1564.3 L640.0 1564.3 L642.0 1564.3 L644.0 1564.3 L646.0 1564.3 L648.0 1564.3 L650.0 1564.3 L652.0 1564.3 L654.0 1564.3 L656.0 1564.3 L658.0 1564.3 L660.0 1564.3 L662.0 1564.3 L664.0 1564.3 L666.0 1564.3 L668.0 1564.3 L670.0 1564.3 L672.0 1564.3 L674.0 1564.3 L676.0 1564.3 L678.0 1564.3 L680.0 1564.3 L682.0 1564.3 L684.0 1564.3 L686.0 1564.3 L688.0 1564.3 L690.0 1564.3 L692.0 1564.3 L694.0 1564.3 L696.0 1564.3 L698.0 1564.3 L700.0 1564.3 L702.0 1564.3 L704.0 1564.3 L706.0 1564.3 L708.0 1564.3 L710.0 1564.3 L712.0 1564.3 L714.0 1564.3 L716.0 1564.3 L718.0 1564.3 L720.0 1564.3 L722.0 1564.3 L724.0 1564.3 L726.0 1564.3 L728.0 1564.3 L730.0 1564.3 L732.0 1564.3 L734.0 1564.3 L736.0 1564.3 L738.0 1564.3 L740.0 1564.3 L742.0 1564.3 L744.0 1564.3 L746.0 1564.3 L748.0 1564.3 L750.0 1564.3 L752.0 1564.3 L754.0 1564.3 L756.0 1564.3 L758.0 1564.3 L760.0 1564.3 L762.0 1564.3 L764.0 1564.3 L766.0 1564.3 L768.0 1564.3 L770.0 1564.3 L772.0 1564.3 L774.0 1564.3 L776.0 1564.3 L778.0 1564.3 L780.0 1564.3 L782.0 1564.3 L784.0 1564.3 L786.0 1564.3 L788.0 1564.3 L790.0 1564.3" stroke="#ee82ee" stroke-width="5.6" stroke-dasharray="13.2 20.4"/>
<path d="M126.0 1673.0 L128.0 1673.0 L130.0 1673.0 L132.0 1673.0 L134.0 1673.0 L136.0 1673.0 L138.0 1673.0 L140.0 1673.0 L142.0 1673.0 L144.0 1673.0 L146.0 1673.0 L148.0 1673.0 L150.0 1673.0 L152.0 1673.0 L154.0 1673.0 L156.0 1673.0 L158.0 1673.0 L160.0 1673.0 L162.0 1673.0 L164.0 1673.0 L166.0 1673.0 L168.0 1673.0 L170.0 1673.0 L172.0 1673.0 L174.0 1673.0 L176.0 1673.0 L178.0 1673.0 L180.0 1673.0 L182.0 1673.0 L184.0 1673.0 L186.0 1673.0 L188.0 1673.0 L190.0 1673.0 L192.0 1673.0 L194.0 1673.0 L196.0 1673.0 L198.0 1673.0 L200.0 1673.0 L202.0 1673.0 L204.0 1673.0 L206.0 1673.0 L208.0 1673.0 L210.0 1673.0 L212.0 1673.0 L214.0 1673.0 L216.0 1673.0 L218.0 1673.0 L220.0 1673.0 L222.0 1673.0 L224.0 1673.0 L226.0 1673.0 L228.0 1672.9 L230.0 1672.8 L232.0 1672.5 L234.0 1671.9 L236.0 1671.2 L238.0 1670.1 L240.0 1668.7 L242.0 1666.7 L244.0 1664.1 L246.0 1660.6 L248.0 1656.6 L250.0 1652.3 L252.0 1647.6 L254.0 1642.4 L256.0 1636.8 L258.0 1630.8 L260.0 1624.8 L262.0 1618.9 L264.0 1613.1 L266.0 1607.2 L268.0 1601.4 L270.0 1595.7 L272.0 1590.0 L274.0 1584.3 L276.0 1578.7 L278.0 1573.1 L280.0 1567.7 L282.0 1562.5 L284.0 1557.4 L286.0 1552.3 L288.0 1547.4 L290.0 1542.6 L292.0 1537.9 L294.0 1533.4 L296.0 1529.0 L298.0 1524.8 L300.0 1520.8 L302.0 1516.8 L304.0 1513.0 L306.0 1509.2 L308.0 1505.4 L310.0 1501.8 L312.0 1498.2 L314.0 1494.7 L316.0 1491.4 L318.0 1488.3 L320.0 1485.3 L322.0 1482.5 L324.0 1479.9 L326.0 1477.5 L328.0 1475.3 L330.0 1473.3 L332.0 1471.6 L334.0 1470.0 L336.0 1468.6 L338.0 1467.4 L340.0 1466.3 L342.0 1465.4 L344.0 1464.6 L346.0 1463.9 L348.0 1463.2 L350.0 1462.4 L352.0 1461.5 L354.0 1460.5 L356.0 1459.4 L358.0 1458.3 L360.0 1457.1 L362.0 1455.9 L364.0 1454.6 L366.0 1453.3 L368.0 1452.0 L370.0 1450.8 L372.0 1449.5 L374.0 1448.4 L376.0 1447.2 L378.0 1446.2 L380.0 1445.2 L382.0 1444.2 L384.0 1443.4 L386.0 1442.6 L388.0 1441.9 L390.0 1441.2 L392.0 1440.7 L394.0 1440.3 L396.0 1440.0 L398.0 1439.9 L400.0 1439.8 L402.0 1439.7 L404.0 1439.7 L406.0 1439.7 L408.0 1439.6 L410.0 1439.6 L412.0 1439.6 L414.0 1439.6 L416.0 1439.6 L418.0 1439.6 L420.0 1439.6 L422.0 1439.6 L424.0 1439.6 L426.0 1439.6 L428.0 1439.6 L430.0 1439.6 L432.0 1439.6 L434.0 1439.6 L436.0 1439.7 L438.0 1439.7 L440.0 1439.7 L442.0 1439.7 L444.0 1439.7 L446.0 1439.7 L448.0 1439.7 L450.0 1439.7 L452.0 1439.7 L454.0 1439.7 L456.0 1439.7 L458.0 1439.7 L460.0 1439.8 L462.0 1439.8 L464.0 1439.8 L466.0 1439.8 L468.0 1439.8 L470.0 1439.8 L472.0 1439.8 L474.0 1439.8 L476.0 1439.8 L478.0 1439.8 L480.0 1439.8 L482.0 1439.8 L484.0 1439.8 L486.0 1439.8 L488.0 1439.8 L490.0 1439.8 L492.0 1439.8 L494.0 1439.8 L496.0 1439.8 L498.0 1439.8 L500.0 1439.8 L502.0 1439.8 L504.0 1439.8 L506.0 1439.8 L508.0 1439.8 L510.0 1439.8 L512.0 1439.8 L514.0 1439.8 L516.0 1439.8 L518.0 1439.8 L520.0 1439.8 L522.0 1439.8 L524.0 1439.8 L526.0 1439.8 L528.0 1439.8 L530.0 1439.8 L532.0 1439.8 L534.0 1439.8 L536.0 1439.8 L538.0 1439.8 L540.0 1439.8 L542.0 1439.8 L544.0 1439.8 L546.0 1439.8 L548.0 1439.8 L550.0 1439.8 L552.0 1439.8 L554.0 1439.8 L556.0 1439.8 L558.0 1439.8 L560.0 1439.8 L562.0 1439.8 L564.0 1439.8 L566.0 1439.8 L568.0 1439.8 L570.0 1439.8 L572.0 1439.8 L574.0 1439.8 L576.0 1439.8 L578.0 1439.8 L580.0 1439.8 L582.0 1439.8 L584.0 1439.8 L586.0 1439.8 L588.0 1439.8 L590.0 1439.8 L592.0 1439.8 L594.0 1439.8 L596.0 1439.8 L598.0 1439.8 L600.0 1439.8 L602.0 1439.8 L604.0 1439.8 L606.0 1439.8 L608.0 1439.8 L610.0 1439.8 L612.0 1439.8 L614.0 1439.8 L616.0 1439.8 L618.0 1439.8 L620.0 1439.8 L622.0 1439.8 L624.0 1439.8 L626.0 1439.8 L628.0 1439.8 L630.0 1439.8 L632.0 1439.8 L634.0 1439.8 L636.0 1439.8 L638.0 1439.8 L640.0 1439.8 L642.0 1439.8 L644.0 1439.8 L646.0 1439.8 L648.0 1439.8 L650.0 1439.8 L652.0 1439.8 L654.0 1439.8 L656.0 1439.8 L658.0 1439.8 L660.0 1439.8 L662.0 1439.8 L664.0 1439.8 L666.0 1439.8 L668.0 1439.8 L670.0 1439.8 L672.0 1439.8 L674.0 1439.8 L676.0 1439.8 L678.0 1439.8 L680.0 1439.8 L682.0 1439.8 L684.0 1439.8 L686.0 1439.8 L688.0 1439.8 L690.0 1439.8 L692.0 1439.8 L694.0 1439.8 L696.0 1439.8 L698.0 1439.8 L700.0 1439.8 L702.0 1439.8 L704.0 1439.8 L706.0 1439.8 L708.0 1439.8 L710.0 1439.8 L712.0 1439.8 L714.0 1439.8 L716.0 1439.8 L718.0 1439.8 L720.0 1439.8 L722.0 1439.8 L724.0 1439.8 L726.0 1439.8 L728.0 1439.8 L730.0 1439.8 L732.0 1439.8 L734.0 1439.8 L736.0 1439.8 L738.0 1439.8 L740.0 1439.8 L742.0 1439.8 L744.0 1439.8 L746.0 1439.8 L748.0 1439.8 L750.0 1439.8 L752.0 1439.8 L754.0 1439.8 L756.0 1439.8 L758.0 1439.8 L760.0 1439.8 L762.0 1439.8 L764.0 1439.8 L766.0 1439.8 L768.0 1439.8 L770.0 1439.8 L772.0 1439.8 L774.0 1439.8 L776.0 1439.8 L778.0 1439.8 L780.0 1439.8 L782.0 1439.8 L784.0 1439.8 L786.0 1439.8 L788.0 1439.8 L790.0 1439.8" stroke="#b2b2b2" stroke-width="5.6" stroke-dasharray="13.2 20.4"/>
</g>
<path d="M125.7 1.0 H789.8 V430.6 H125.7 Z M236.4 1.0 v13.3 M236.4 430.6 v-13.3 M347.1 1.0 v13.3 M347.1 430.6 v-13.3 M457.7 1.0 v13.3 M457.7 430.6 v-13.3 M568.4 1.0 v13.3 M568.4 430.6 v-13.3 M679.1 1.0 v13.3 M679.1 430.6 v-13.3 M125.7 352.5 h13.3 M789.8 352.5 h-13.3 M125.7 274.4 h13.3 M789.8 274.4 h-13.3 M125.7 196.3 h13.3 M789.8 196.3 h-13.3 M125.7 118.2 h13.3 M789.8 118.2 h-13.3 M125.7 40.1 h13.3 M789.8 40.1 h-13.3 M125.7 430.6 H789.8 V859.9 H125.7 Z M236.4 430.6 v13.3 M236.4 859.9 v-13.3 M347.1 430.6 v13.3 M347.1 859.9 v-13.3 M457.7 430.6 v13.3 M457.7 859.9 v-13.3 M568.4 430.6 v13.3 M568.4 859.9 v-13.3 M679.1 430.6 v13.3 M679.1 859.9 v-13.3 M125.7 819.0 h13.3 M789.8 819.0 h-13.3 M125.7 716.8 h13.3 M789.8 716.8 h-13.3 M125.7 614.6 h13.3 M789.8 614.6 h-13.3 M125.7 512.4 h13.3 M789.8 512.4 h-13.3 M125.7 859.9 H789.8 V1289.0 H125.7 Z M236.4 859.9 v13.3 M236.4 1289.0 v-13.3 M347.1 859.9 v13.3 M347.1 1289.0 v-13.3 M457.7 859.9 v13.3 M457.7 1289.0 v-13.3 M568.4 859.9 v13.3 M568.4 1289.0 v-13.3 M679.1 859.9 v13.3 M679.1 1289.0 v-13.3 M125.7 1256.0 h13.3 M789.8 1256.0 h-13.3 M125.7 1173.5 h13.3 M789.8 1173.5 h-13.3 M125.7 1091.0 h13.3 M789.8 1091.0 h-13.3 M125.7 1008.4 h13.3 M789.8 1008.4 h-13.3 M125.7 925.9 h13.3 M789.8 925.9 h-13.3 M125.7 1289.0 H789.8 V1718.1 H125.7 Z M236.4 1289.0 v13.3 M236.4 1718.1 v-13.3 M347.1 1289.0 v13.3 M347.1 1718.1 v-13.3 M457.7 1289.0 v13.3 M457.7 1718.1 v-13.3 M568.4 1289.0 v13.3 M568.4 1718.1 v-13.3 M679.1 1289.0 v13.3 M679.1 1718.1 v-13.3 M125.7 1672.9 h13.3 M789.8 1672.9 h-13.3 M125.7 1627.8 h13.3 M789.8 1627.8 h-13.3 M125.7 1582.6 h13.3 M789.8 1582.6 h-13.3 M125.7 1537.4 h13.3 M789.8 1537.4 h-13.3 M125.7 1492.3 h13.3 M789.8 1492.3 h-13.3 M125.7 1447.1 h13.3 M789.8 1447.1 h-13.3 M125.7 1401.9 h13.3 M789.8 1401.9 h-13.3 M125.7 1356.8 h13.3 M789.8 1356.8 h-13.3 M125.7 1311.6 h13.3 M789.8 1311.6 h-13.3" stroke="#000" stroke-width="2.2" fill="none" stroke-linecap="butt" stroke-linejoin="miter"/>
<text x="109.5" y="440.4" font-size="27.50" text-anchor="end">0</text>
<text x="109.5" y="362.3" font-size="27.50" text-anchor="end">0.1</text>
<text x="109.5" y="284.2" font-size="27.50" text-anchor="end">0.2</text>
<text x="109.5" y="206.1" font-size="27.50" text-anchor="end">0.3</text>
<text x="109.5" y="128.0" font-size="27.50" text-anchor="end">0.4</text>
<text x="109.5" y="49.9" font-size="27.50" text-anchor="end">0.5</text>
<text x="109.5" y="828.8" font-size="27.50" text-anchor="end">0</text>
<text x="109.5" y="726.6" font-size="27.50" text-anchor="end">5</text>
<text x="109.5" y="624.4" font-size="27.50" text-anchor="end">10</text>
<text x="109.5" y="522.2" font-size="27.50" text-anchor="end">15</text>
<text x="109.5" y="1265.8" font-size="27.50" text-anchor="end">0</text>
<text x="109.5" y="1183.3" font-size="27.50" text-anchor="end">5</text>
<text x="109.5" y="1100.8" font-size="27.50" text-anchor="end">10</text>
<text x="109.5" y="1018.2" font-size="27.50" text-anchor="end">15</text>
<text x="109.5" y="935.7" font-size="27.50" text-anchor="end">20</text>
<text x="109.5" y="1727.9" font-size="27.50" text-anchor="end">-2</text>
<text x="109.5" y="1682.7" font-size="27.50" text-anchor="end">0</text>
<text x="109.5" y="1637.6" font-size="27.50" text-anchor="end">2</text>
<text x="109.5" y="1592.4" font-size="27.50" text-anchor="end">4</text>
<text x="109.5" y="1547.2" font-size="27.50" text-anchor="end">6</text>
<text x="109.5" y="1502.1" font-size="27.50" text-anchor="end">8</text>
<text x="109.5" y="1456.9" font-size="27.50" text-anchor="end">10</text>
<text x="109.5" y="1411.7" font-size="27.50" text-anchor="end">12</text>
<text x="109.5" y="1366.6" font-size="27.50" text-anchor="end">14</text>
<text x="109.5" y="1321.4" font-size="27.50" text-anchor="end">16</text>
<text x="128.9" y="1764.3" font-size="27.50" text-anchor="middle">0</text>
<text x="239.6" y="1764.3" font-size="27.50" text-anchor="middle">10</text>
<text x="350.3" y="1764.3" font-size="27.50" text-anchor="middle">20</text>
<text x="460.9" y="1764.3" font-size="27.50" text-anchor="middle">30</text>
<text x="571.6" y="1764.3" font-size="27.50" text-anchor="middle">40</text>
<text x="682.3" y="1764.3" font-size="27.50" text-anchor="middle">50</text>
<text x="793.0" y="1764.3" font-size="27.50" text-anchor="middle">60</text>
<text x="457.8" y="1814" font-size="27.50" text-anchor="middle">r[km]</text>
<text transform="translate(25.5,216.2) rotate(-90)" font-size="28.32" text-anchor="middle">Ye</text>
<text transform="translate(41.0,645.2) rotate(-90)" font-size="27.91" text-anchor="middle">Luminosity[10<tspan dy="-10.4" font-size="22.3">51</tspan><tspan dy="10.4"> erg/s]</tspan></text>
<text transform="translate(41.0,1074.5) rotate(-90)" font-size="27.91" text-anchor="middle">Luminosity[10<tspan dy="-10.4" font-size="22.3">51</tspan><tspan dy="10.4"> erg/s]</tspan></text>
<text transform="translate(41.0,1503.5) rotate(-90)" font-size="27.91" text-anchor="middle">Luminosity[10<tspan dy="-10.4" font-size="22.3">51</tspan><tspan dy="10.4"> erg/s]</tspan></text>
<text x="152" y="495.5" font-size="27.50"><tspan>ν</tspan><tspan dy="6.3" font-size="22">e</tspan><tspan dy="-6.3"> 0.5s</tspan></text>
<text x="159.7" y="924.8" font-size="27.50"><tspan>ν</tspan><tspan dy="6.3" font-size="22">e</tspan><tspan dy="-6.3"> 0.5s</tspan></text>
<path d="M158.1 904.9 H172.1" stroke="#000" stroke-width="1.5"/>
<text x="151.7" y="1354" font-size="27.50"><tspan>ν</tspan><tspan dy="6.3" font-size="22">x</tspan><tspan dy="-6.3"> 0.5s</tspan></text>
<rect x="578" y="111.5" width="186" height="34.5" fill="#fff"/>
<text x="657.5" y="137.5" font-size="27.50" text-anchor="end">ILEAS</text>
<path d="M673.5 127.7 H749.5" stroke="#a52a2a" stroke-width="7.2" fill="none"/>
<text x="657.5" y="171.8" font-size="27.50" text-anchor="end">ALCAR</text>
<path d="M673.5 162.0 H749.5" stroke="#000000" stroke-width="5.6" fill="none"/>
<text x="657.5" y="206.0" font-size="27.50" text-anchor="end">Model1</text>
<path d="M673.5 196.2 H749.5" stroke="#ff0000" stroke-width="5.6" fill="none"/>
<text x="657.5" y="240.3" font-size="27.50" text-anchor="end">Model2</text>
<path d="M673.5 230.5 H749.5" stroke="#0000ff" stroke-width="5.6" fill="none"/>
<text x="657.5" y="274.6" font-size="27.50" text-anchor="end">Model3</text>
<path d="M673.5 264.8 H749.5" stroke="#ffa500" stroke-width="5.6" stroke-dasharray="24 9.75 3.35 9.75 3.35 9.75" fill="none"/>
<text x="657.5" y="308.9" font-size="27.50" text-anchor="end">Model4</text>
<path d="M673.5 299.1 H749.5" stroke="#00ffff" stroke-width="5.6" stroke-dasharray="24 9.75 3.35 9.75 3.35 9.75" fill="none"/>
<text x="657.5" y="343.1" font-size="27.50" text-anchor="end">Model5</text>
<path d="M673.5 333.3 H749.5" stroke="#ffbfbf" stroke-width="5.6" stroke-dasharray="13.2 20.4" fill="none"/>
<text x="657.5" y="377.4" font-size="27.50" text-anchor="end">Model6</text>
<path d="M673.5 367.6 H749.5" stroke="#ee82ee" stroke-width="5.6" stroke-dasharray="13.2 20.4" fill="none"/>
<text x="657.5" y="411.7" font-size="27.50" text-anchor="end">Model7</text>
<path d="M673.5 401.9 H749.5" stroke="#b2b2b2" stroke-width="5.6" stroke-dasharray="13.2 20.4" fill="none"/>
</svg></body></html>
